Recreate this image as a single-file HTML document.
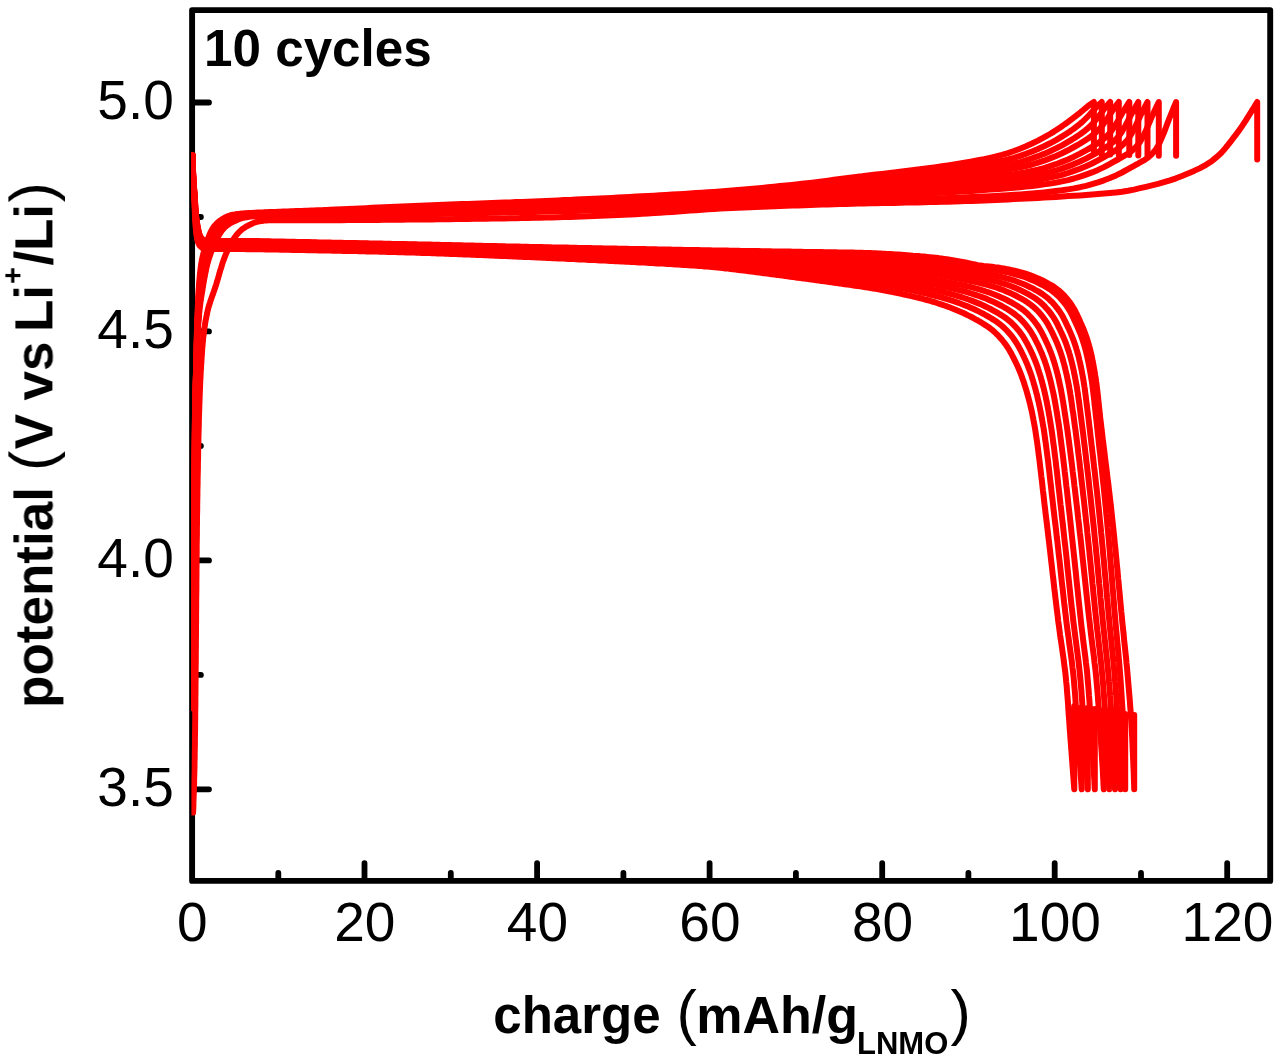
<!DOCTYPE html>
<html lang="en"><head><meta charset="utf-8"><title>10 cycles - potential vs charge</title>
<style>html,body{margin:0;padding:0;background:#fff}svg{display:block}text{font-family:"Liberation Sans",Arial,Helvetica,sans-serif;fill:#000}.b{font-weight:bold}.tk{font-size:55px}</style></head><body>
<svg width="1280" height="1061" viewBox="0 0 1280 1061">
<rect width="1280" height="1061" fill="#fff"/>
<filter id="sf" x="0" y="0" width="1280" height="1061" filterUnits="userSpaceOnUse"><feGaussianBlur stdDeviation="0.45"/></filter>
<g filter="url(#sf)">
<g stroke="#000" stroke-width="5.9" fill="none" stroke-linejoin="round">
<rect x="192.1" y="10.1" width="1078.1" height="870.8"/>
</g>
<path d="M278.3,878.9 V872.9 M364.5,878.9 V863.1 M450.8,878.9 V872.9 M537.1,878.9 V863.1 M623.4,878.9 V872.9 M709.6,878.9 V863.1 M795.9,878.9 V872.9 M882.2,878.9 V863.1 M968.4,878.9 V872.9 M1054.7,878.9 V863.1 M1141.0,878.9 V872.9 M1227.2,878.9 V863.1 M194.1,789.3 H209.0 M194.1,560.4 H209.0 M194.1,331.4 H209.0 M194.1,102.5 H209.0 M194.1,674.9 H200.9 M194.1,445.9 H200.9 M194.1,217.0 H200.9" stroke="#000" stroke-width="5.8" stroke-linecap="round" fill="none"/>
<clipPath id="c"><rect x="191.4" y="0" width="1100" height="900"/></clipPath>
<g clip-path="url(#c)" stroke="#fe0000" stroke-width="6.0" fill="none" stroke-linejoin="round" stroke-linecap="round">
<path d="M193.1,812.5 L193.2,810.3 L193.3,808.0 L193.4,805.6 L193.4,803.1 L193.5,800.6 L193.6,797.9 L193.7,795.2 L193.8,792.4 L193.9,789.5 L194.0,786.6 L194.1,783.6 L194.1,780.5 L194.2,777.3 L194.3,774.0 L194.4,770.7 L194.5,767.4 L194.5,763.9 L194.6,760.4 L194.7,756.8 L194.7,752.9 L194.8,748.8 L194.9,744.4 L194.9,739.9 L195.0,735.2 L195.1,730.3 L195.1,725.2 L195.2,719.9 L195.2,714.5 L195.3,708.9 L195.4,703.2 L195.4,697.3 L195.5,691.4 L195.5,685.3 L195.6,679.2 L195.6,672.9 L195.7,666.6 L195.8,660.2 L195.8,653.8 L195.9,647.3 L195.9,640.8 L196.0,634.3 L196.0,627.7 L196.1,621.1 L196.1,614.6 L196.2,608.0 L196.2,601.5 L196.3,595.0 L196.4,588.6 L196.4,582.2 L196.5,575.8 L196.5,569.6 L196.6,563.4 L196.6,557.4 L196.7,551.4 L196.7,545.6 L196.8,539.9 L196.9,534.3 L196.9,528.8 L197.0,523.6 L197.0,518.4 L197.1,513.5 L197.2,508.8 L197.2,504.2 L197.3,499.9 L197.4,495.6 L197.4,491.5 L197.5,487.3 L197.6,483.3 L197.6,479.2 L197.7,475.3 L197.8,471.4 L197.9,467.5 L197.9,463.7 L198.0,460.0 L198.1,456.3 L198.1,452.6 L198.2,449.0 L198.3,445.5 L198.4,442.0 L198.4,438.6 L198.5,435.2 L198.6,431.8 L198.7,428.5 L198.8,425.3 L198.8,422.1 L198.9,419.0 L199.0,415.9 L199.1,412.9 L199.2,409.9 L199.3,407.0 L199.4,404.1 L199.5,401.3 L199.6,398.5 L199.7,395.7 L199.8,393.0 L199.9,390.3 L200.0,387.7 L200.1,385.1 L200.2,382.6 L200.3,380.1 L200.5,377.6 L200.6,375.2 L200.7,372.9 L200.8,370.6 L201.0,368.3 L201.1,366.1 L201.2,364.0 L201.4,361.9 L201.5,359.9 L201.6,357.9 L201.7,356.0 L201.9,354.1 L202.0,352.4 L202.1,350.7 L202.2,349.1 L202.3,347.6 L202.5,346.1 L202.6,344.6 L202.7,343.2 L202.9,341.7 L203.0,340.2 L203.1,338.7 L203.3,337.2 L203.5,335.6 L203.7,333.9 L203.9,332.3 L204.1,330.6 L204.3,328.9 L204.6,327.1 L204.9,325.4 L205.1,323.6 L205.4,321.9 L205.7,320.1 L206.1,318.4 L206.4,316.6 L206.8,314.9 L207.1,313.1 L207.5,311.4 L207.9,309.7 L208.3,308.0 L208.8,306.3 L209.3,304.6 L209.9,302.9 L210.4,301.2 L211.0,299.5 L211.6,297.8 L212.2,296.1 L212.8,294.4 L213.4,292.7 L214.0,291.0 L214.6,289.3 L215.2,287.6 L215.7,285.9 L216.3,284.2 L216.8,282.4 L217.3,280.7 L217.9,278.9 L218.4,277.0 L218.9,275.2 L219.4,273.4 L219.9,271.7 L220.4,269.9 L221.0,268.2 L221.5,266.6 L222.0,265.0 L222.4,263.5 L222.9,262.1 L223.4,260.7 L223.9,259.4 L224.3,258.2 L224.8,257.0 L225.2,255.9 L225.7,254.7 L226.1,253.6 L226.6,252.5 L227.1,251.4 L227.6,250.2 L228.1,249.1 L228.7,247.9 L229.3,246.7 L229.9,245.4 L230.6,244.2 L231.2,243.0 L231.9,241.8 L232.6,240.7 L233.3,239.5 L234.0,238.5 L234.7,237.4 L235.4,236.5 L236.1,235.5 L236.9,234.6 L237.6,233.7 L238.4,232.8 L239.2,232.0 L240.0,231.2 L240.8,230.5 L241.6,229.8 L242.4,229.1 L243.3,228.5 L244.2,227.9 L245.1,227.3 L246.0,226.7 L246.9,226.2 L247.9,225.7 L248.8,225.2 L249.7,224.8 L250.6,224.3 L251.6,223.9 L252.5,223.5 L253.4,223.0 L254.3,222.7 L255.3,222.3 L256.2,222.0 L257.3,221.7 L258.4,221.5 L259.5,221.3 L260.6,221.1 L261.8,221.0 L263.0,220.8 L264.3,220.6 L265.6,220.5 L266.9,220.4 L268.2,220.3 L269.6,220.3 L271.0,220.3 L272.4,220.3 L273.8,220.3 L275.3,220.3 L276.8,220.3 L278.3,220.3 L279.8,220.3 L281.4,220.3 L283.1,220.3 L284.7,220.3 L286.4,220.3 L288.2,220.3 L290.0,220.3 L291.8,220.3 L293.7,220.3 L295.7,220.3 L297.6,220.3 L299.7,220.3 L301.7,220.3 L303.9,220.3 L306.0,220.3 L308.2,220.3 L310.5,220.2 L312.8,220.2 L315.1,220.2 L317.5,220.2 L319.9,220.2 L322.4,220.2 L324.9,220.2 L327.4,220.2 L330.0,220.2 L336.0,220.2 L342.0,220.2 L348.0,220.1 L354.0,220.1 L360.0,220.0 L366.0,220.0 L372.0,220.0 L378.0,219.9 L384.0,219.8 L390.0,219.8 L396.0,219.7 L402.0,219.7 L408.0,219.6 L414.0,219.6 L420.0,219.5 L426.0,219.4 L432.0,219.4 L438.0,219.3 L444.0,219.2 L450.0,219.2 L456.0,219.1 L462.0,219.0 L468.0,218.9 L474.0,218.8 L480.0,218.8 L486.0,218.7 L492.0,218.6 L498.0,218.5 L504.0,218.4 L510.0,218.3 L516.0,218.2 L522.0,218.1 L528.0,217.9 L534.0,217.8 L540.0,217.7 L546.0,217.6 L552.0,217.4 L558.0,217.3 L564.0,217.1 L570.0,216.9 L576.0,216.7 L582.0,216.5 L588.0,216.3 L594.0,216.1 L600.0,215.8 L606.0,215.6 L612.0,215.3 L618.0,215.0 L624.0,214.8 L630.0,214.5 L636.0,214.2 L642.0,213.8 L648.0,213.5 L654.0,213.1 L660.0,212.7 L666.0,212.3 L672.0,211.9 L678.0,211.5 L684.0,211.1 L690.0,210.6 L696.0,210.2 L702.0,209.7 L708.0,209.3 L714.0,208.9 L720.0,208.5 L726.0,208.2 L732.0,207.9 L738.0,207.7 L744.0,207.4 L750.0,207.2 L756.0,206.9 L762.0,206.7 L768.0,206.5 L774.0,206.3 L780.0,206.1 L786.0,205.8 L792.0,205.6 L798.0,205.4 L804.0,205.2 L810.0,205.0 L816.0,204.8 L822.0,204.6 L828.0,204.4 L834.0,204.2 L840.0,204.0 L846.0,203.9 L852.0,203.7 L858.0,203.6 L864.0,203.4 L870.0,203.3 L876.0,203.2 L882.0,203.1 L888.0,203.0 L894.0,202.9 L900.0,202.7 L906.0,202.6 L912.0,202.5 L918.0,202.4 L924.0,202.2 L930.0,202.1 L936.0,202.0 L942.0,201.8 L948.0,201.7 L954.0,201.5 L960.0,201.3 L966.0,201.1 L972.0,200.9 L978.0,200.7 L984.0,200.4 L990.0,200.2 L996.0,199.9 L1002.0,199.7 L1008.0,199.4 L1014.0,199.1 L1020.0,198.8 L1026.0,198.5 L1032.0,198.2 L1038.0,197.9 L1044.0,197.6 L1050.0,197.2 L1056.0,196.9 L1062.0,196.5 L1068.0,196.1 L1074.0,195.8 L1080.0,195.4 L1086.0,195.0 L1092.0,194.6 L1098.0,194.1 L1104.0,193.6 L1110.0,193.1 L1116.0,192.5 L1122.0,191.8 L1128.0,190.8 L1134.0,189.6 L1140.0,188.2 L1146.0,186.8 L1152.0,185.4 L1158.0,183.9 L1164.0,182.2 L1170.0,180.4 L1176.0,178.3 L1182.0,176.0 L1188.0,173.5 L1194.0,170.9 L1200.0,168.1 L1206.0,164.8 L1212.0,160.9 L1217.2,156.6 L1218.2,155.7 L1219.2,154.8 L1220.2,153.8 L1221.2,152.9 L1222.2,151.8 L1223.2,150.7 L1224.2,149.6 L1225.2,148.4 L1226.2,147.2 L1227.2,145.9 L1228.2,144.7 L1229.2,143.4 L1230.2,142.1 L1231.2,140.8 L1232.2,139.5 L1233.2,138.2 L1234.2,136.9 L1235.2,135.6 L1236.2,134.3 L1237.2,132.9 L1238.2,131.6 L1239.2,130.2 L1240.2,128.8 L1241.2,127.3 L1242.2,125.9 L1243.2,124.4 L1244.2,122.9 L1245.2,121.4 L1246.2,119.8 L1247.2,118.2 L1248.2,116.6 L1249.2,115.0 L1250.2,113.4 L1251.2,111.8 L1252.2,110.2 L1253.2,108.6 L1254.2,107.0 L1255.2,105.3 L1256.2,103.7 L1257.2,102.0 L1257.2,159.6"/>
<path d="M193.4,708.6 L193.4,704.3 L193.4,699.9 L193.4,695.5 L193.5,690.9 L193.5,686.3 L193.5,681.6 L193.5,676.7 L193.6,671.8 L193.6,666.9 L193.6,661.8 L193.6,656.7 L193.7,651.5 L193.7,646.3 L193.7,641.0 L193.8,635.7 L193.8,630.4 L193.8,625.0 L193.8,619.6 L193.9,614.2 L193.9,608.8 L193.9,603.4 L194.0,598.0 L194.0,592.6 L194.0,587.2 L194.1,581.8 L194.1,576.4 L194.1,571.1 L194.1,565.8 L194.2,560.6 L194.2,555.4 L194.2,550.3 L194.3,545.2 L194.3,540.2 L194.3,535.2 L194.4,530.4 L194.4,525.6 L194.4,520.9 L194.5,516.4 L194.5,511.9 L194.5,507.5 L194.6,503.3 L194.6,499.1 L194.7,495.0 L194.7,490.9 L194.7,486.9 L194.8,482.9 L194.8,478.9 L194.8,475.0 L194.9,471.1 L194.9,467.3 L195.0,463.4 L195.0,459.7 L195.0,455.9 L195.1,452.2 L195.1,448.6 L195.2,445.0 L195.2,441.4 L195.3,437.9 L195.3,434.5 L195.3,431.1 L195.4,427.7 L195.4,424.4 L195.5,421.2 L195.5,418.0 L195.6,414.8 L195.6,411.7 L195.7,408.7 L195.7,405.7 L195.8,402.8 L195.8,400.0 L195.9,397.2 L195.9,394.4 L196.0,391.7 L196.0,389.0 L196.1,386.4 L196.1,383.8 L196.2,381.3 L196.2,378.7 L196.3,376.3 L196.3,373.9 L196.4,371.5 L196.4,369.2 L196.5,367.0 L196.5,364.8 L196.6,362.7 L196.6,360.6 L196.7,358.6 L196.8,356.6 L196.8,354.7 L196.9,352.9 L196.9,351.2 L197.0,349.5 L197.0,347.9 L197.1,346.4 L197.2,344.9 L197.2,343.4 L197.3,341.9 L197.3,340.4 L197.4,338.9 L197.5,337.3 L197.6,335.7 L197.7,334.1 L197.8,332.4 L197.9,330.7 L198.0,328.9 L198.1,327.2 L198.2,325.4 L198.3,323.7 L198.4,321.9 L198.6,320.1 L198.7,318.4 L198.9,316.6 L199.0,314.8 L199.2,313.1 L199.4,311.3 L199.5,309.6 L199.7,307.8 L200.0,306.1 L200.2,304.3 L200.4,302.6 L200.7,300.8 L200.9,299.1 L201.2,297.3 L201.5,295.6 L201.8,293.8 L202.1,292.1 L202.4,290.3 L202.6,288.6 L202.9,286.8 L203.2,285.1 L203.5,283.3 L203.8,281.6 L204.1,279.8 L204.4,278.1 L204.8,276.3 L205.1,274.6 L205.4,272.9 L205.8,271.1 L206.1,269.4 L206.5,267.6 L206.9,265.9 L207.3,264.1 L207.8,262.4 L208.3,260.6 L208.8,258.8 L209.4,257.0 L210.1,255.1 L210.8,253.1 L211.5,251.2 L212.2,249.3 L213.0,247.4 L213.8,245.6 L214.6,243.8 L215.4,242.1 L216.1,240.5 L216.9,238.9 L217.6,237.5 L218.3,236.3 L219.0,235.1 L219.6,234.0 L220.3,233.0 L220.9,232.1 L221.5,231.2 L222.1,230.3 L222.8,229.5 L223.5,228.7 L224.2,227.9 L225.0,227.1 L225.9,226.4 L226.8,225.7 L227.7,225.0 L228.7,224.3 L229.6,223.6 L230.6,223.0 L231.7,222.5 L232.7,221.9 L233.8,221.4 L234.9,220.9 L236.0,220.4 L237.1,219.9 L238.3,219.4 L239.5,219.0 L240.7,218.6 L241.9,218.2 L243.1,217.9 L244.3,217.7 L245.5,217.4 L246.7,217.2 L247.9,217.0 L249.0,216.8 L250.2,216.6 L251.5,216.5 L252.7,216.3 L254.1,216.2 L255.5,216.2 L256.9,216.1 L258.5,216.1 L260.2,216.1 L262.0,216.1 L263.9,216.1 L265.8,216.0 L267.8,216.0 L269.9,216.0 L272.0,216.0 L274.2,216.0 L276.4,216.0 L278.6,215.9 L280.8,215.9 L283.0,215.9 L285.2,215.9 L287.4,215.9 L289.6,215.9 L291.7,215.8 L293.9,215.8 L296.0,215.8 L298.2,215.8 L300.4,215.8 L302.6,215.8 L304.8,215.7 L307.0,215.7 L309.3,215.7 L311.5,215.7 L313.8,215.7 L316.1,215.6 L318.4,215.6 L320.7,215.6 L323.0,215.6 L325.3,215.5 L327.7,215.5 L330.0,215.5 L336.0,215.4 L342.0,215.4 L348.0,215.3 L354.0,215.2 L360.0,215.2 L366.0,215.1 L372.0,215.0 L378.0,214.9 L384.0,214.8 L390.0,214.7 L396.0,214.6 L402.0,214.5 L408.0,214.4 L414.0,214.3 L420.0,214.2 L426.0,214.1 L432.0,214.0 L438.0,213.9 L444.0,213.8 L450.0,213.7 L456.0,213.6 L462.0,213.4 L468.0,213.3 L474.0,213.2 L480.0,213.1 L486.0,213.0 L492.0,212.8 L498.0,212.7 L504.0,212.6 L510.0,212.4 L516.0,212.3 L522.0,212.2 L528.0,212.0 L534.0,211.9 L540.0,211.8 L546.0,211.6 L552.0,211.5 L558.0,211.3 L564.0,211.2 L570.0,211.0 L576.0,210.9 L582.0,210.7 L588.0,210.5 L594.0,210.4 L600.0,210.2 L606.0,210.0 L612.0,209.8 L618.0,209.6 L624.0,209.5 L630.0,209.3 L636.0,209.1 L642.0,208.9 L648.0,208.7 L654.0,208.5 L660.0,208.3 L666.0,208.1 L672.0,207.9 L678.0,207.7 L684.0,207.5 L690.0,207.3 L696.0,207.1 L702.0,206.9 L708.0,206.7 L714.0,206.5 L720.0,206.3 L726.0,206.1 L732.0,205.9 L738.0,205.7 L744.0,205.5 L750.0,205.3 L756.0,205.1 L762.0,204.9 L768.0,204.7 L774.0,204.5 L780.0,204.2 L786.0,204.0 L792.0,203.8 L798.0,203.6 L804.0,203.4 L810.0,203.1 L816.0,202.9 L822.0,202.6 L828.0,202.4 L834.0,202.1 L840.0,201.9 L846.0,201.7 L852.0,201.4 L858.0,201.2 L864.0,200.9 L870.0,200.7 L876.0,200.4 L882.0,200.2 L888.0,200.0 L894.0,199.7 L900.0,199.5 L906.0,199.3 L912.0,199.1 L918.0,198.9 L924.0,198.7 L930.0,198.5 L936.0,198.4 L942.0,198.2 L948.0,198.0 L954.0,197.7 L960.0,197.5 L966.0,197.3 L972.0,197.0 L978.0,196.7 L984.0,196.5 L990.0,196.2 L996.0,195.9 L1002.0,195.5 L1008.0,195.2 L1014.0,194.8 L1020.0,194.4 L1026.0,194.0 L1032.0,193.5 L1038.0,193.0 L1044.0,192.4 L1050.0,191.7 L1056.0,191.0 L1062.0,190.3 L1068.0,189.4 L1074.0,188.4 L1080.0,187.2 L1086.0,185.8 L1092.0,184.2 L1098.0,182.4 L1104.0,180.3 L1110.0,178.0 L1116.0,175.4 L1122.0,172.5 L1128.0,169.2 L1134.0,165.9 L1136.1,164.7 L1137.1,164.1 L1138.1,163.6 L1139.1,163.0 L1140.1,162.4 L1141.1,161.9 L1142.1,161.3 L1143.1,160.8 L1144.1,160.2 L1145.1,159.6 L1146.1,158.9 L1147.1,158.2 L1148.1,157.4 L1149.1,156.6 L1150.1,155.7 L1151.1,154.8 L1152.1,153.8 L1153.1,152.7 L1154.1,151.6 L1155.1,150.3 L1156.1,149.0 L1157.1,147.5 L1158.1,145.7 L1159.1,143.7 L1160.1,141.6 L1161.1,139.3 L1162.1,137.1 L1163.1,134.7 L1164.1,132.3 L1165.1,129.6 L1166.1,127.0 L1167.1,124.2 L1168.1,121.6 L1169.1,119.0 L1170.1,116.5 L1171.1,114.0 L1172.1,111.6 L1173.1,109.1 L1174.1,106.7 L1175.1,104.4 L1176.1,102.0 L1176.1,155.8"/>
<path d="M193.3,708.3 L193.3,703.9 L193.3,699.6 L193.3,695.1 L193.4,690.5 L193.4,685.9 L193.4,681.1 L193.4,676.3 L193.5,671.4 L193.5,666.4 L193.5,661.3 L193.5,656.2 L193.6,651.0 L193.6,645.8 L193.6,640.5 L193.6,635.2 L193.7,629.8 L193.7,624.4 L193.7,619.0 L193.7,613.6 L193.8,608.2 L193.8,602.8 L193.8,597.3 L193.9,591.9 L193.9,586.5 L193.9,581.1 L193.9,575.8 L194.0,570.4 L194.0,565.1 L194.0,559.9 L194.1,554.7 L194.1,549.6 L194.1,544.5 L194.2,539.5 L194.2,534.6 L194.2,529.7 L194.3,524.9 L194.3,520.3 L194.3,515.7 L194.4,511.2 L194.4,506.8 L194.4,502.6 L194.5,498.4 L194.5,494.3 L194.5,490.3 L194.6,486.2 L194.6,482.2 L194.7,478.3 L194.7,474.3 L194.7,470.4 L194.8,466.6 L194.8,462.8 L194.9,459.0 L194.9,455.2 L195.0,451.6 L195.0,447.9 L195.0,444.3 L195.1,440.7 L195.1,437.2 L195.2,433.8 L195.2,430.4 L195.3,427.0 L195.3,423.7 L195.4,420.5 L195.4,417.3 L195.5,414.1 L195.5,411.1 L195.6,408.1 L195.6,405.1 L195.7,402.2 L195.7,399.4 L195.8,396.6 L195.8,393.8 L195.9,391.1 L195.9,388.4 L196.0,385.8 L196.0,383.2 L196.1,380.7 L196.1,378.2 L196.2,375.8 L196.2,373.4 L196.3,371.0 L196.4,368.7 L196.4,366.5 L196.5,364.3 L196.5,362.2 L196.6,360.1 L196.6,358.1 L196.7,356.2 L196.8,354.3 L196.8,352.5 L196.9,350.8 L196.9,349.2 L197.0,347.6 L197.0,346.1 L197.1,344.6 L197.1,343.1 L197.2,341.6 L197.2,340.1 L197.3,338.6 L197.4,337.0 L197.4,335.3 L197.5,333.7 L197.6,332.0 L197.7,330.3 L197.8,328.5 L197.9,326.8 L198.0,325.0 L198.1,323.3 L198.2,321.5 L198.4,319.7 L198.5,317.9 L198.6,316.1 L198.8,314.4 L198.9,312.6 L199.1,310.9 L199.2,309.1 L199.4,307.3 L199.6,305.6 L199.8,303.8 L200.0,302.1 L200.2,300.3 L200.5,298.6 L200.7,296.8 L201.0,295.1 L201.2,293.3 L201.5,291.5 L201.7,289.8 L202.0,288.0 L202.3,286.3 L202.5,284.5 L202.8,282.8 L203.1,281.0 L203.3,279.3 L203.6,277.5 L203.9,275.8 L204.2,274.0 L204.5,272.3 L204.8,270.5 L205.2,268.8 L205.5,267.0 L205.9,265.3 L206.3,263.6 L206.7,261.8 L207.2,260.0 L207.7,258.2 L208.3,256.4 L208.9,254.5 L209.6,252.6 L210.3,250.7 L211.0,248.9 L211.7,247.0 L212.4,245.3 L213.2,243.5 L213.9,241.9 L214.6,240.3 L215.3,238.9 L216.0,237.5 L216.6,236.3 L217.3,235.1 L217.9,234.0 L218.5,233.0 L219.1,232.0 L219.7,231.0 L220.3,230.1 L221.0,229.2 L221.7,228.4 L222.4,227.5 L223.2,226.7 L224.1,225.9 L225.0,225.2 L225.9,224.4 L226.9,223.7 L227.8,223.0 L228.9,222.4 L229.9,221.8 L230.9,221.3 L232.0,220.7 L233.1,220.2 L234.2,219.7 L235.3,219.2 L236.5,218.7 L237.7,218.3 L238.8,217.9 L240.0,217.6 L241.2,217.3 L242.5,217.1 L243.6,216.8 L244.8,216.6 L246.0,216.4 L247.2,216.3 L248.4,216.1 L249.6,215.9 L250.9,215.8 L252.3,215.7 L253.7,215.6 L255.2,215.6 L256.9,215.6 L258.6,215.5 L260.3,215.5 L262.2,215.5 L264.1,215.5 L266.1,215.4 L268.1,215.4 L270.2,215.4 L272.3,215.4 L274.4,215.3 L276.6,215.3 L278.8,215.3 L281.0,215.2 L283.1,215.2 L285.3,215.2 L287.5,215.2 L289.7,215.1 L291.9,215.1 L294.1,215.1 L296.3,215.1 L298.6,215.0 L300.9,215.0 L303.2,215.0 L305.5,215.0 L307.9,214.9 L310.3,214.9 L312.7,214.9 L315.1,214.8 L317.5,214.8 L320.0,214.8 L322.4,214.7 L324.9,214.7 L327.5,214.7 L330.0,214.6 L336.0,214.5 L342.0,214.4 L348.0,214.3 L354.0,214.2 L360.0,214.1 L366.0,214.0 L372.0,213.9 L378.0,213.8 L384.0,213.6 L390.0,213.5 L396.0,213.4 L402.0,213.3 L408.0,213.1 L414.0,213.0 L420.0,212.8 L426.0,212.7 L432.0,212.5 L438.0,212.4 L444.0,212.2 L450.0,212.0 L456.0,211.9 L462.0,211.7 L468.0,211.6 L474.0,211.4 L480.0,211.3 L486.0,211.1 L492.0,211.0 L498.0,210.8 L504.0,210.7 L510.0,210.5 L516.0,210.4 L522.0,210.2 L528.0,210.1 L534.0,209.9 L540.0,209.7 L546.0,209.6 L552.0,209.4 L558.0,209.2 L564.0,209.0 L570.0,208.9 L576.0,208.7 L582.0,208.5 L588.0,208.3 L594.0,208.1 L600.0,207.9 L606.0,207.7 L612.0,207.5 L618.0,207.3 L624.0,207.1 L630.0,206.9 L636.0,206.7 L642.0,206.5 L648.0,206.3 L654.0,206.1 L660.0,205.8 L666.0,205.6 L672.0,205.4 L678.0,205.2 L684.0,205.0 L690.0,204.7 L696.0,204.5 L702.0,204.3 L708.0,204.1 L714.0,203.9 L720.0,203.6 L726.0,203.4 L732.0,203.2 L738.0,202.9 L744.0,202.7 L750.0,202.4 L756.0,202.2 L762.0,201.9 L768.0,201.7 L774.0,201.4 L780.0,201.1 L786.0,200.9 L792.0,200.6 L798.0,200.3 L804.0,200.0 L810.0,199.7 L816.0,199.4 L822.0,199.1 L828.0,198.8 L834.0,198.4 L840.0,198.1 L846.0,197.8 L852.0,197.5 L858.0,197.1 L864.0,196.8 L870.0,196.5 L876.0,196.2 L882.0,195.8 L888.0,195.5 L894.0,195.2 L900.0,194.9 L906.0,194.6 L912.0,194.3 L918.0,194.0 L924.0,193.6 L930.0,193.3 L936.0,193.0 L942.0,192.7 L948.0,192.3 L954.0,192.0 L960.0,191.6 L966.0,191.3 L972.0,190.9 L978.0,190.5 L984.0,190.1 L990.0,189.6 L996.0,189.2 L1002.0,188.7 L1008.0,188.3 L1014.0,187.8 L1020.0,187.2 L1026.0,186.6 L1032.0,185.9 L1038.0,185.2 L1044.0,184.4 L1050.0,183.6 L1056.0,182.6 L1062.0,181.4 L1068.0,180.1 L1074.0,178.5 L1080.0,176.7 L1086.0,174.6 L1092.0,172.4 L1098.0,169.9 L1104.0,167.1 L1110.0,163.8 L1116.0,160.5 L1118.8,159.0 L1119.8,158.4 L1120.8,157.8 L1121.8,157.3 L1122.8,156.7 L1123.8,156.1 L1124.8,155.5 L1125.8,154.9 L1126.8,154.3 L1127.8,153.7 L1128.8,153.0 L1129.8,152.3 L1130.8,151.6 L1131.8,150.8 L1132.8,149.9 L1133.8,149.0 L1134.8,148.1 L1135.8,147.1 L1136.8,146.0 L1137.8,144.8 L1138.8,143.6 L1139.8,142.2 L1140.8,140.6 L1141.8,138.8 L1142.8,136.9 L1143.8,134.9 L1144.8,132.9 L1145.8,130.8 L1146.8,128.6 L1147.8,126.3 L1148.8,123.9 L1149.8,121.6 L1150.8,119.2 L1151.8,116.9 L1152.8,114.7 L1153.8,112.5 L1154.8,110.4 L1155.8,108.2 L1156.8,106.1 L1157.8,104.1 L1158.8,102.0 L1158.8,155.8"/>
<path d="M193.2,708.2 L193.2,703.8 L193.2,699.5 L193.3,695.0 L193.3,690.4 L193.3,685.8 L193.3,681.0 L193.4,676.1 L193.4,671.2 L193.4,666.2 L193.4,661.1 L193.4,656.0 L193.5,650.8 L193.5,645.6 L193.5,640.3 L193.5,634.9 L193.6,629.6 L193.6,624.2 L193.6,618.8 L193.6,613.4 L193.7,607.9 L193.7,602.5 L193.7,597.0 L193.8,591.6 L193.8,586.2 L193.8,580.8 L193.8,575.4 L193.9,570.1 L193.9,564.8 L193.9,559.6 L194.0,554.4 L194.0,549.2 L194.0,544.2 L194.1,539.1 L194.1,534.2 L194.1,529.4 L194.2,524.6 L194.2,519.9 L194.2,515.3 L194.3,510.9 L194.3,506.5 L194.3,502.3 L194.4,498.1 L194.4,494.0 L194.4,490.0 L194.5,485.9 L194.5,481.9 L194.5,477.9 L194.6,474.0 L194.6,470.1 L194.7,466.2 L194.7,462.4 L194.8,458.6 L194.8,454.9 L194.8,451.2 L194.9,447.6 L194.9,444.0 L195.0,440.4 L195.0,436.9 L195.1,433.4 L195.1,430.0 L195.2,426.7 L195.2,423.4 L195.3,420.1 L195.3,417.0 L195.4,413.8 L195.4,410.8 L195.5,407.7 L195.5,404.8 L195.6,401.9 L195.6,399.1 L195.7,396.3 L195.7,393.5 L195.8,390.8 L195.8,388.2 L195.9,385.5 L196.0,383.0 L196.0,380.4 L196.1,378.0 L196.1,375.5 L196.2,373.1 L196.3,370.8 L196.3,368.5 L196.4,366.3 L196.4,364.1 L196.5,362.0 L196.5,360.0 L196.6,358.0 L196.7,356.0 L196.7,354.2 L196.8,352.4 L196.8,350.7 L196.9,349.1 L196.9,347.5 L197.0,346.0 L197.0,344.5 L197.0,343.0 L197.1,341.5 L197.2,340.0 L197.2,338.5 L197.3,336.9 L197.3,335.2 L197.4,333.5 L197.5,331.8 L197.6,330.1 L197.7,328.4 L197.8,326.6 L197.9,324.9 L198.0,323.1 L198.1,321.3 L198.2,319.5 L198.3,317.8 L198.5,316.0 L198.6,314.2 L198.7,312.4 L198.9,310.7 L199.0,308.9 L199.2,307.2 L199.3,305.4 L199.5,303.6 L199.7,301.9 L199.9,300.1 L200.1,298.4 L200.3,296.6 L200.6,294.8 L200.8,293.1 L201.0,291.3 L201.2,289.6 L201.5,287.8 L201.7,286.1 L202.0,284.3 L202.2,282.5 L202.5,280.8 L202.7,279.0 L203.0,277.3 L203.2,275.5 L203.5,273.8 L203.8,272.0 L204.1,270.2 L204.4,268.5 L204.8,266.7 L205.1,265.0 L205.5,263.3 L205.9,261.5 L206.4,259.8 L206.9,257.9 L207.4,256.1 L208.0,254.2 L208.7,252.4 L209.3,250.5 L210.0,248.7 L210.7,246.9 L211.4,245.2 L212.1,243.5 L212.8,241.9 L213.4,240.4 L214.1,239.0 L214.7,237.7 L215.3,236.4 L215.9,235.2 L216.5,234.1 L217.1,233.0 L217.7,232.0 L218.3,231.0 L218.9,230.0 L219.6,229.1 L220.3,228.2 L221.0,227.3 L221.8,226.5 L222.7,225.7 L223.6,224.9 L224.5,224.1 L225.5,223.4 L226.5,222.7 L227.5,222.0 L228.5,221.4 L229.6,220.9 L230.6,220.3 L231.7,219.8 L232.8,219.3 L233.9,218.8 L235.1,218.3 L236.3,217.9 L237.4,217.5 L238.6,217.2 L239.8,216.9 L241.0,216.7 L242.2,216.5 L243.4,216.3 L244.6,216.1 L245.8,215.9 L247.0,215.7 L248.3,215.6 L249.6,215.5 L251.0,215.4 L252.4,215.3 L254.0,215.3 L255.6,215.2 L257.3,215.2 L259.0,215.1 L260.9,215.1 L262.8,215.1 L264.7,215.0 L266.7,215.0 L268.7,215.0 L270.8,214.9 L272.9,214.9 L275.1,214.9 L277.2,214.8 L279.4,214.8 L281.5,214.8 L283.7,214.7 L285.9,214.7 L288.1,214.7 L290.4,214.6 L292.6,214.6 L294.9,214.6 L297.2,214.5 L299.6,214.5 L302.0,214.5 L304.4,214.4 L306.8,214.4 L309.3,214.3 L311.8,214.3 L314.3,214.3 L316.9,214.2 L319.4,214.2 L322.0,214.1 L324.7,214.1 L327.3,214.0 L330.0,214.0 L336.0,213.9 L342.0,213.7 L348.0,213.6 L354.0,213.5 L360.0,213.3 L366.0,213.2 L372.0,213.1 L378.0,212.9 L384.0,212.8 L390.0,212.6 L396.0,212.5 L402.0,212.3 L408.0,212.1 L414.0,211.9 L420.0,211.8 L426.0,211.6 L432.0,211.4 L438.0,211.2 L444.0,211.0 L450.0,210.9 L456.0,210.7 L462.0,210.5 L468.0,210.4 L474.0,210.2 L480.0,210.0 L486.0,209.9 L492.0,209.7 L498.0,209.5 L504.0,209.4 L510.0,209.2 L516.0,209.0 L522.0,208.9 L528.0,208.7 L534.0,208.5 L540.0,208.3 L546.0,208.2 L552.0,208.0 L558.0,207.8 L564.0,207.6 L570.0,207.4 L576.0,207.2 L582.0,207.0 L588.0,206.8 L594.0,206.6 L600.0,206.4 L606.0,206.2 L612.0,206.0 L618.0,205.7 L624.0,205.5 L630.0,205.3 L636.0,205.1 L642.0,204.8 L648.0,204.6 L654.0,204.4 L660.0,204.2 L666.0,203.9 L672.0,203.7 L678.0,203.5 L684.0,203.2 L690.0,203.0 L696.0,202.7 L702.0,202.5 L708.0,202.3 L714.0,202.0 L720.0,201.7 L726.0,201.5 L732.0,201.2 L738.0,201.0 L744.0,200.7 L750.0,200.4 L756.0,200.1 L762.0,199.8 L768.0,199.6 L774.0,199.3 L780.0,199.0 L786.0,198.6 L792.0,198.3 L798.0,198.0 L804.0,197.6 L810.0,197.3 L816.0,196.9 L822.0,196.5 L828.0,196.2 L834.0,195.8 L840.0,195.4 L846.0,195.0 L852.0,194.7 L858.0,194.3 L864.0,193.9 L870.0,193.5 L876.0,193.1 L882.0,192.7 L888.0,192.3 L894.0,191.9 L900.0,191.5 L906.0,191.1 L912.0,190.7 L918.0,190.3 L924.0,190.0 L930.0,189.6 L936.0,189.2 L942.0,188.8 L948.0,188.3 L954.0,187.9 L960.0,187.4 L966.0,187.0 L972.0,186.5 L978.0,186.0 L984.0,185.5 L990.0,185.0 L996.0,184.5 L1002.0,184.0 L1008.0,183.4 L1014.0,182.8 L1020.0,182.1 L1026.0,181.4 L1032.0,180.6 L1038.0,179.7 L1044.0,178.7 L1050.0,177.6 L1056.0,176.3 L1062.0,174.8 L1068.0,173.0 L1074.0,170.9 L1080.0,168.7 L1086.0,166.2 L1092.0,163.5 L1098.0,160.3 L1104.0,157.0 L1107.5,155.1 L1108.5,154.5 L1109.5,153.9 L1110.5,153.3 L1111.5,152.7 L1112.5,152.2 L1113.5,151.6 L1114.5,151.0 L1115.5,150.4 L1116.5,149.7 L1117.5,149.1 L1118.5,148.3 L1119.5,147.6 L1120.5,146.8 L1121.5,146.0 L1122.5,145.1 L1123.5,144.2 L1124.5,143.2 L1125.5,142.1 L1126.5,141.0 L1127.5,139.9 L1128.5,138.6 L1129.5,137.1 L1130.5,135.4 L1131.5,133.7 L1132.5,131.9 L1133.5,130.0 L1134.5,128.1 L1135.5,126.1 L1136.5,124.0 L1137.5,121.9 L1138.5,119.7 L1139.5,117.6 L1140.5,115.5 L1141.5,113.5 L1142.5,111.5 L1143.5,109.6 L1144.5,107.6 L1145.5,105.7 L1146.5,103.8 L1147.5,102.0 L1147.5,155.5"/>
<path d="M193.1,708.2 L193.2,703.8 L193.2,699.4 L193.2,695.0 L193.2,690.4 L193.2,685.7 L193.3,680.9 L193.3,676.1 L193.3,671.1 L193.3,666.1 L193.3,661.0 L193.4,655.9 L193.4,650.7 L193.4,645.4 L193.4,640.1 L193.5,634.8 L193.5,629.4 L193.5,624.0 L193.5,618.6 L193.6,613.2 L193.6,607.7 L193.6,602.3 L193.6,596.9 L193.7,591.4 L193.7,586.0 L193.7,580.6 L193.8,575.2 L193.8,569.9 L193.8,564.6 L193.8,559.4 L193.9,554.2 L193.9,549.0 L193.9,543.9 L194.0,538.9 L194.0,534.0 L194.0,529.1 L194.1,524.4 L194.1,519.7 L194.1,515.1 L194.2,510.7 L194.2,506.3 L194.2,502.1 L194.3,497.9 L194.3,493.8 L194.3,489.7 L194.4,485.7 L194.4,481.7 L194.5,477.7 L194.5,473.8 L194.5,469.9 L194.6,466.0 L194.6,462.2 L194.7,458.4 L194.7,454.7 L194.8,451.0 L194.8,447.3 L194.9,443.7 L194.9,440.2 L195.0,436.7 L195.0,433.2 L195.0,429.8 L195.1,426.5 L195.2,423.2 L195.2,419.9 L195.3,416.7 L195.3,413.6 L195.4,410.5 L195.4,407.5 L195.5,404.6 L195.5,401.7 L195.6,398.9 L195.6,396.1 L195.7,393.4 L195.7,390.7 L195.8,388.0 L195.8,385.4 L195.9,382.8 L196.0,380.3 L196.0,377.8 L196.1,375.4 L196.1,373.0 L196.2,370.7 L196.3,368.4 L196.3,366.2 L196.4,364.1 L196.4,362.0 L196.5,359.9 L196.6,357.9 L196.6,356.0 L196.7,354.2 L196.7,352.4 L196.8,350.7 L196.8,349.1 L196.8,347.5 L196.9,346.0 L196.9,344.5 L197.0,343.0 L197.0,341.5 L197.1,340.0 L197.1,338.5 L197.2,336.9 L197.3,335.2 L197.3,333.5 L197.4,331.8 L197.5,330.1 L197.6,328.3 L197.7,326.6 L197.7,324.8 L197.8,323.0 L197.9,321.2 L198.1,319.5 L198.2,317.7 L198.3,315.9 L198.4,314.1 L198.5,312.4 L198.7,310.6 L198.8,308.8 L198.9,307.1 L199.1,305.3 L199.3,303.6 L199.4,301.8 L199.6,300.0 L199.8,298.3 L200.0,296.5 L200.2,294.7 L200.4,293.0 L200.6,291.2 L200.8,289.4 L201.0,287.7 L201.2,285.9 L201.4,284.2 L201.7,282.4 L201.9,280.6 L202.1,278.9 L202.4,277.1 L202.6,275.3 L202.9,273.6 L203.2,271.8 L203.5,270.1 L203.8,268.3 L204.1,266.6 L204.4,264.8 L204.8,263.1 L205.2,261.4 L205.6,259.6 L206.1,257.8 L206.6,255.9 L207.2,254.1 L207.8,252.3 L208.4,250.5 L209.1,248.7 L209.7,246.9 L210.4,245.2 L211.0,243.6 L211.7,242.0 L212.3,240.5 L213.0,239.1 L213.6,237.8 L214.1,236.6 L214.7,235.3 L215.3,234.2 L215.8,233.1 L216.4,232.0 L217.0,231.0 L217.6,230.0 L218.3,229.0 L219.0,228.1 L219.8,227.2 L220.6,226.3 L221.4,225.5 L222.3,224.7 L223.3,223.9 L224.3,223.1 L225.3,222.4 L226.3,221.7 L227.3,221.1 L228.3,220.5 L229.4,220.0 L230.5,219.4 L231.6,218.9 L232.7,218.4 L233.8,218.0 L235.0,217.5 L236.2,217.2 L237.3,216.8 L238.5,216.6 L239.7,216.4 L240.9,216.1 L242.1,215.9 L243.3,215.8 L244.5,215.6 L245.8,215.4 L247.0,215.3 L248.4,215.2 L249.8,215.1 L251.2,215.0 L252.8,215.0 L254.4,214.9 L256.1,214.9 L257.8,214.8 L259.6,214.8 L261.5,214.7 L263.4,214.7 L265.4,214.6 L267.4,214.6 L269.5,214.6 L271.5,214.5 L273.6,214.5 L275.8,214.4 L277.9,214.4 L280.1,214.4 L282.3,214.3 L284.5,214.3 L286.7,214.2 L289.0,214.2 L291.3,214.2 L293.6,214.1 L296.0,214.1 L298.4,214.0 L300.9,214.0 L303.4,213.9 L305.9,213.9 L308.4,213.8 L311.0,213.8 L313.6,213.7 L316.3,213.7 L319.0,213.6 L321.7,213.6 L324.4,213.5 L327.2,213.4 L330.0,213.4 L336.0,213.2 L342.0,213.1 L348.0,213.0 L354.0,212.8 L360.0,212.6 L366.0,212.5 L372.0,212.3 L378.0,212.2 L384.0,212.0 L390.0,211.8 L396.0,211.6 L402.0,211.4 L408.0,211.2 L414.0,211.0 L420.0,210.8 L426.0,210.6 L432.0,210.4 L438.0,210.2 L444.0,210.0 L450.0,209.9 L456.0,209.7 L462.0,209.5 L468.0,209.3 L474.0,209.1 L480.0,209.0 L486.0,208.8 L492.0,208.6 L498.0,208.4 L504.0,208.3 L510.0,208.1 L516.0,207.9 L522.0,207.7 L528.0,207.5 L534.0,207.4 L540.0,207.2 L546.0,207.0 L552.0,206.8 L558.0,206.6 L564.0,206.4 L570.0,206.2 L576.0,206.0 L582.0,205.8 L588.0,205.6 L594.0,205.3 L600.0,205.1 L606.0,204.9 L612.0,204.7 L618.0,204.4 L624.0,204.2 L630.0,204.0 L636.0,203.7 L642.0,203.5 L648.0,203.2 L654.0,203.0 L660.0,202.8 L666.0,202.5 L672.0,202.3 L678.0,202.0 L684.0,201.8 L690.0,201.5 L696.0,201.2 L702.0,201.0 L708.0,200.7 L714.0,200.4 L720.0,200.2 L726.0,199.9 L732.0,199.6 L738.0,199.3 L744.0,199.0 L750.0,198.7 L756.0,198.4 L762.0,198.1 L768.0,197.7 L774.0,197.4 L780.0,197.1 L786.0,196.7 L792.0,196.3 L798.0,195.9 L804.0,195.5 L810.0,195.1 L816.0,194.7 L822.0,194.3 L828.0,193.9 L834.0,193.5 L840.0,193.1 L846.0,192.6 L852.0,192.2 L858.0,191.7 L864.0,191.3 L870.0,190.8 L876.0,190.4 L882.0,189.9 L888.0,189.4 L894.0,189.0 L900.0,188.5 L906.0,188.1 L912.0,187.6 L918.0,187.2 L924.0,186.8 L930.0,186.3 L936.0,185.8 L942.0,185.4 L948.0,184.9 L954.0,184.3 L960.0,183.8 L966.0,183.3 L972.0,182.7 L978.0,182.2 L984.0,181.7 L990.0,181.1 L996.0,180.5 L1002.0,179.9 L1008.0,179.2 L1014.0,178.5 L1020.0,177.7 L1026.0,176.9 L1032.0,176.0 L1038.0,174.9 L1044.0,173.7 L1050.0,172.2 L1056.0,170.5 L1062.0,168.6 L1068.0,166.4 L1074.0,164.1 L1080.0,161.5 L1086.0,158.6 L1092.0,155.3 L1098.0,152.0 L1098.3,151.8 L1099.3,151.2 L1100.3,150.6 L1101.3,150.0 L1102.3,149.4 L1103.3,148.8 L1104.3,148.2 L1105.3,147.6 L1106.3,147.0 L1107.3,146.4 L1108.3,145.7 L1109.3,145.0 L1110.3,144.2 L1111.3,143.4 L1112.3,142.6 L1113.3,141.8 L1114.3,140.9 L1115.3,139.9 L1116.3,138.9 L1117.3,137.9 L1118.3,136.7 L1119.3,135.5 L1120.3,134.1 L1121.3,132.6 L1122.3,131.0 L1123.3,129.3 L1124.3,127.6 L1125.3,125.9 L1126.3,124.0 L1127.3,122.1 L1128.3,120.2 L1129.3,118.2 L1130.3,116.2 L1131.3,114.3 L1132.3,112.5 L1133.3,110.7 L1134.3,108.9 L1135.3,107.1 L1136.3,105.4 L1137.3,103.7 L1138.3,102.0 L1138.3,155.5"/>
<path d="M193.1,708.2 L193.1,703.8 L193.1,699.4 L193.1,694.9 L193.2,690.4 L193.2,685.7 L193.2,680.9 L193.2,676.0 L193.2,671.1 L193.3,666.1 L193.3,661.0 L193.3,655.8 L193.3,650.6 L193.3,645.3 L193.4,640.0 L193.4,634.7 L193.4,629.3 L193.4,623.9 L193.5,618.5 L193.5,613.0 L193.5,607.6 L193.5,602.1 L193.6,596.7 L193.6,591.3 L193.6,585.8 L193.6,580.4 L193.7,575.1 L193.7,569.7 L193.7,564.4 L193.8,559.2 L193.8,554.0 L193.8,548.8 L193.8,543.8 L193.9,538.7 L193.9,533.8 L193.9,529.0 L194.0,524.2 L194.0,519.5 L194.0,514.9 L194.1,510.5 L194.1,506.1 L194.1,501.9 L194.2,497.8 L194.2,493.6 L194.2,489.6 L194.3,485.5 L194.3,481.5 L194.4,477.5 L194.4,473.6 L194.4,469.7 L194.5,465.8 L194.5,462.0 L194.6,458.2 L194.6,454.5 L194.7,450.8 L194.7,447.1 L194.8,443.5 L194.8,440.0 L194.9,436.5 L194.9,433.0 L195.0,429.6 L195.0,426.3 L195.1,423.0 L195.1,419.7 L195.2,416.6 L195.2,413.4 L195.3,410.4 L195.3,407.4 L195.4,404.4 L195.4,401.5 L195.5,398.7 L195.6,396.0 L195.6,393.2 L195.7,390.5 L195.7,387.9 L195.8,385.3 L195.9,382.7 L195.9,380.2 L196.0,377.7 L196.0,375.3 L196.1,372.9 L196.2,370.6 L196.2,368.4 L196.3,366.2 L196.4,364.0 L196.4,361.9 L196.5,359.9 L196.5,357.9 L196.6,356.0 L196.6,354.1 L196.7,352.4 L196.7,350.7 L196.8,349.1 L196.8,347.6 L196.8,346.0 L196.9,344.5 L196.9,343.0 L197.0,341.5 L197.0,340.0 L197.1,338.4 L197.1,336.8 L197.2,335.2 L197.2,333.5 L197.3,331.8 L197.4,330.0 L197.5,328.3 L197.5,326.5 L197.6,324.7 L197.7,323.0 L197.8,321.2 L197.9,319.4 L198.0,317.6 L198.1,315.8 L198.2,314.1 L198.3,312.3 L198.5,310.5 L198.6,308.8 L198.7,307.0 L198.8,305.2 L199.0,303.5 L199.1,301.7 L199.3,299.9 L199.5,298.2 L199.6,296.4 L199.8,294.6 L200.0,292.9 L200.2,291.1 L200.4,289.3 L200.6,287.6 L200.8,285.8 L201.0,284.0 L201.2,282.3 L201.4,280.5 L201.6,278.7 L201.8,277.0 L202.1,275.2 L202.3,273.4 L202.6,271.7 L202.8,269.9 L203.1,268.2 L203.4,266.4 L203.8,264.7 L204.1,262.9 L204.5,261.2 L204.9,259.4 L205.4,257.6 L205.9,255.8 L206.4,254.0 L207.0,252.2 L207.6,250.4 L208.2,248.7 L208.8,247.0 L209.4,245.3 L210.0,243.7 L210.7,242.1 L211.3,240.7 L211.9,239.3 L212.4,237.9 L213.0,236.7 L213.5,235.4 L214.1,234.2 L214.6,233.1 L215.2,232.0 L215.8,230.9 L216.5,229.9 L217.1,228.9 L217.8,228.0 L218.6,227.0 L219.4,226.1 L220.3,225.3 L221.2,224.4 L222.1,223.6 L223.1,222.8 L224.1,222.1 L225.1,221.4 L226.1,220.8 L227.2,220.2 L228.2,219.7 L229.3,219.1 L230.4,218.6 L231.5,218.1 L232.6,217.6 L233.8,217.2 L234.9,216.8 L236.1,216.5 L237.3,216.3 L238.5,216.0 L239.7,215.8 L240.9,215.6 L242.1,215.4 L243.3,215.3 L244.6,215.1 L245.9,215.0 L247.2,214.9 L248.6,214.8 L250.1,214.7 L251.6,214.6 L253.3,214.6 L254.9,214.5 L256.7,214.5 L258.5,214.4 L260.3,214.4 L262.2,214.3 L264.1,214.3 L266.1,214.2 L268.1,214.2 L270.2,214.1 L272.3,214.1 L274.4,214.0 L276.5,214.0 L278.7,214.0 L280.9,213.9 L283.1,213.9 L285.4,213.8 L287.7,213.8 L290.1,213.7 L292.4,213.7 L294.9,213.6 L297.4,213.6 L299.9,213.5 L302.4,213.4 L305.0,213.4 L307.6,213.3 L310.3,213.3 L313.0,213.2 L315.7,213.1 L318.5,213.0 L321.3,213.0 L324.2,212.9 L327.1,212.8 L330.0,212.8 L336.0,212.6 L342.0,212.4 L348.0,212.3 L354.0,212.1 L360.0,211.9 L366.0,211.8 L372.0,211.6 L378.0,211.4 L384.0,211.2 L390.0,211.0 L396.0,210.7 L402.0,210.5 L408.0,210.3 L414.0,210.1 L420.0,209.9 L426.0,209.6 L432.0,209.4 L438.0,209.2 L444.0,209.0 L450.0,208.8 L456.0,208.6 L462.0,208.5 L468.0,208.3 L474.0,208.1 L480.0,207.9 L486.0,207.7 L492.0,207.5 L498.0,207.3 L504.0,207.2 L510.0,207.0 L516.0,206.8 L522.0,206.6 L528.0,206.4 L534.0,206.2 L540.0,206.0 L546.0,205.8 L552.0,205.6 L558.0,205.4 L564.0,205.2 L570.0,205.0 L576.0,204.7 L582.0,204.5 L588.0,204.3 L594.0,204.1 L600.0,203.8 L606.0,203.6 L612.0,203.3 L618.0,203.1 L624.0,202.9 L630.0,202.6 L636.0,202.4 L642.0,202.1 L648.0,201.9 L654.0,201.6 L660.0,201.3 L666.0,201.1 L672.0,200.8 L678.0,200.5 L684.0,200.3 L690.0,200.0 L696.0,199.7 L702.0,199.4 L708.0,199.1 L714.0,198.8 L720.0,198.5 L726.0,198.2 L732.0,197.9 L738.0,197.6 L744.0,197.3 L750.0,196.9 L756.0,196.6 L762.0,196.3 L768.0,195.9 L774.0,195.5 L780.0,195.1 L786.0,194.7 L792.0,194.3 L798.0,193.8 L804.0,193.4 L810.0,192.9 L816.0,192.5 L822.0,192.0 L828.0,191.6 L834.0,191.1 L840.0,190.6 L846.0,190.1 L852.0,189.6 L858.0,189.1 L864.0,188.6 L870.0,188.0 L876.0,187.5 L882.0,187.0 L888.0,186.5 L894.0,186.0 L900.0,185.5 L906.0,185.0 L912.0,184.5 L918.0,184.0 L924.0,183.5 L930.0,182.9 L936.0,182.4 L942.0,181.8 L948.0,181.3 L954.0,180.7 L960.0,180.1 L966.0,179.5 L972.0,178.9 L978.0,178.4 L984.0,177.8 L990.0,177.1 L996.0,176.4 L1002.0,175.7 L1008.0,174.9 L1014.0,174.1 L1020.0,173.2 L1026.0,172.2 L1032.0,171.0 L1038.0,169.7 L1044.0,168.1 L1050.0,166.2 L1056.0,164.2 L1062.0,161.9 L1068.0,159.5 L1074.0,156.7 L1080.0,153.6 L1086.0,150.3 L1089.3,148.5 L1090.3,147.9 L1091.3,147.3 L1092.3,146.6 L1093.3,146.0 L1094.3,145.4 L1095.3,144.8 L1096.3,144.2 L1097.3,143.6 L1098.3,142.9 L1099.3,142.2 L1100.3,141.5 L1101.3,140.8 L1102.3,140.0 L1103.3,139.2 L1104.3,138.4 L1105.3,137.5 L1106.3,136.6 L1107.3,135.6 L1108.3,134.6 L1109.3,133.6 L1110.3,132.4 L1111.3,131.1 L1112.3,129.7 L1113.3,128.2 L1114.3,126.7 L1115.3,125.2 L1116.3,123.6 L1117.3,121.9 L1118.3,120.2 L1119.3,118.4 L1120.3,116.6 L1121.3,114.9 L1122.3,113.1 L1123.3,111.4 L1124.3,109.8 L1125.3,108.2 L1126.3,106.6 L1127.3,105.0 L1128.3,103.5 L1129.3,102.0 L1129.3,155.0"/>
<path d="M193.0,708.1 L193.0,703.7 L193.1,699.3 L193.1,694.9 L193.1,690.3 L193.1,685.6 L193.1,680.8 L193.1,675.9 L193.2,671.0 L193.2,665.9 L193.2,660.8 L193.2,655.7 L193.2,650.5 L193.3,645.2 L193.3,639.9 L193.3,634.5 L193.3,629.1 L193.4,623.7 L193.4,618.3 L193.4,612.9 L193.4,607.4 L193.5,602.0 L193.5,596.5 L193.5,591.1 L193.5,585.6 L193.6,580.2 L193.6,574.9 L193.6,569.5 L193.6,564.2 L193.7,559.0 L193.7,553.7 L193.7,548.6 L193.8,543.5 L193.8,538.5 L193.8,533.6 L193.9,528.7 L193.9,524.0 L193.9,519.3 L193.9,514.7 L194.0,510.3 L194.0,505.9 L194.0,501.7 L194.1,497.5 L194.1,493.4 L194.2,489.3 L194.2,485.3 L194.2,481.3 L194.3,477.3 L194.3,473.4 L194.4,469.5 L194.4,465.6 L194.4,461.8 L194.5,458.0 L194.5,454.3 L194.6,450.6 L194.6,446.9 L194.7,443.3 L194.7,439.8 L194.8,436.2 L194.8,432.8 L194.9,429.4 L195.0,426.0 L195.0,422.7 L195.1,419.5 L195.1,416.3 L195.2,413.2 L195.2,410.2 L195.3,407.2 L195.3,404.2 L195.4,401.3 L195.4,398.5 L195.5,395.8 L195.6,393.0 L195.6,390.3 L195.7,387.7 L195.7,385.1 L195.8,382.5 L195.9,380.0 L195.9,377.6 L196.0,375.2 L196.1,372.8 L196.1,370.5 L196.2,368.2 L196.3,366.0 L196.3,363.9 L196.4,361.8 L196.4,359.8 L196.5,357.8 L196.5,355.9 L196.6,354.1 L196.6,352.3 L196.7,350.7 L196.7,349.1 L196.7,347.5 L196.8,346.0 L196.8,344.5 L196.9,343.0 L196.9,341.5 L196.9,339.9 L197.0,338.4 L197.0,336.8 L197.1,335.1 L197.1,333.4 L197.2,331.7 L197.3,329.9 L197.4,328.2 L197.4,326.4 L197.5,324.6 L197.6,322.9 L197.7,321.1 L197.8,319.3 L197.9,317.5 L198.0,315.7 L198.1,313.9 L198.2,312.2 L198.3,310.4 L198.4,308.6 L198.5,306.9 L198.6,305.1 L198.7,303.3 L198.9,301.6 L199.0,299.8 L199.2,298.0 L199.3,296.3 L199.5,294.5 L199.6,292.7 L199.8,291.0 L199.9,289.2 L200.1,287.4 L200.3,285.7 L200.5,283.9 L200.7,282.1 L200.9,280.3 L201.1,278.6 L201.3,276.8 L201.5,275.0 L201.7,273.2 L202.0,271.5 L202.2,269.7 L202.5,268.0 L202.8,266.2 L203.1,264.5 L203.4,262.7 L203.8,261.0 L204.2,259.2 L204.6,257.5 L205.1,255.7 L205.6,253.9 L206.2,252.1 L206.7,250.3 L207.3,248.6 L207.9,246.9 L208.5,245.3 L209.1,243.7 L209.7,242.2 L210.2,240.7 L210.8,239.3 L211.3,238.0 L211.9,236.7 L212.4,235.4 L213.0,234.2 L213.5,233.0 L214.1,231.9 L214.7,230.8 L215.3,229.7 L216.0,228.7 L216.7,227.8 L217.4,226.8 L218.3,225.9 L219.1,225.0 L220.1,224.1 L221.0,223.3 L222.0,222.5 L223.0,221.7 L224.0,221.0 L225.0,220.4 L226.0,219.8 L227.1,219.2 L228.1,218.7 L229.2,218.2 L230.3,217.7 L231.5,217.2 L232.6,216.8 L233.8,216.4 L234.9,216.1 L236.1,215.8 L237.3,215.6 L238.5,215.4 L239.7,215.2 L240.9,215.0 L242.2,214.9 L243.4,214.7 L244.7,214.6 L246.1,214.5 L247.5,214.4 L249.0,214.3 L250.5,214.2 L252.1,214.2 L253.8,214.1 L255.5,214.0 L257.3,214.0 L259.1,213.9 L261.0,213.9 L262.9,213.8 L264.8,213.7 L266.8,213.7 L268.9,213.6 L270.9,213.6 L273.0,213.5 L275.2,213.5 L277.3,213.4 L279.6,213.4 L281.8,213.3 L284.1,213.3 L286.5,213.2 L288.9,213.1 L291.3,213.1 L293.8,213.0 L296.3,212.9 L298.9,212.9 L301.5,212.8 L304.2,212.7 L306.9,212.6 L309.6,212.6 L312.4,212.5 L315.2,212.4 L318.1,212.3 L321.0,212.2 L324.0,212.1 L327.0,212.0 L330.0,212.0 L336.0,211.8 L342.0,211.6 L348.0,211.4 L354.0,211.2 L360.0,211.0 L366.0,210.8 L372.0,210.6 L378.0,210.4 L384.0,210.1 L390.0,209.9 L396.0,209.6 L402.0,209.4 L408.0,209.1 L414.0,208.9 L420.0,208.7 L426.0,208.4 L432.0,208.2 L438.0,208.0 L444.0,207.8 L450.0,207.6 L456.0,207.4 L462.0,207.2 L468.0,207.0 L474.0,206.8 L480.0,206.6 L486.0,206.4 L492.0,206.2 L498.0,206.0 L504.0,205.8 L510.0,205.6 L516.0,205.4 L522.0,205.2 L528.0,205.0 L534.0,204.8 L540.0,204.6 L546.0,204.4 L552.0,204.2 L558.0,204.0 L564.0,203.7 L570.0,203.5 L576.0,203.3 L582.0,203.0 L588.0,202.8 L594.0,202.5 L600.0,202.3 L606.0,202.0 L612.0,201.8 L618.0,201.5 L624.0,201.3 L630.0,201.0 L636.0,200.7 L642.0,200.5 L648.0,200.2 L654.0,199.9 L660.0,199.6 L666.0,199.4 L672.0,199.1 L678.0,198.8 L684.0,198.5 L690.0,198.2 L696.0,197.9 L702.0,197.6 L708.0,197.2 L714.0,196.9 L720.0,196.6 L726.0,196.2 L732.0,195.9 L738.0,195.5 L744.0,195.2 L750.0,194.8 L756.0,194.4 L762.0,194.0 L768.0,193.6 L774.0,193.1 L780.0,192.7 L786.0,192.2 L792.0,191.7 L798.0,191.2 L804.0,190.7 L810.0,190.2 L816.0,189.7 L822.0,189.2 L828.0,188.6 L834.0,188.1 L840.0,187.5 L846.0,186.9 L852.0,186.3 L858.0,185.7 L864.0,185.1 L870.0,184.5 L876.0,183.9 L882.0,183.3 L888.0,182.8 L894.0,182.2 L900.0,181.7 L906.0,181.1 L912.0,180.6 L918.0,180.0 L924.0,179.4 L930.0,178.8 L936.0,178.1 L942.0,177.5 L948.0,176.9 L954.0,176.2 L960.0,175.5 L966.0,174.9 L972.0,174.3 L978.0,173.6 L984.0,172.9 L990.0,172.2 L996.0,171.4 L1002.0,170.5 L1008.0,169.6 L1014.0,168.6 L1020.0,167.4 L1026.0,166.1 L1032.0,164.5 L1038.0,162.7 L1044.0,160.7 L1050.0,158.4 L1056.0,156.0 L1062.0,153.3 L1068.0,150.3 L1074.0,147.0 L1078.8,144.3 L1079.8,143.7 L1080.8,143.1 L1081.8,142.5 L1082.8,141.9 L1083.8,141.2 L1084.8,140.6 L1085.8,140.0 L1086.8,139.3 L1087.8,138.7 L1088.8,138.0 L1089.8,137.3 L1090.8,136.5 L1091.8,135.8 L1092.8,135.0 L1093.8,134.2 L1094.8,133.3 L1095.8,132.5 L1096.8,131.5 L1097.8,130.6 L1098.8,129.6 L1099.8,128.6 L1100.8,127.4 L1101.8,126.1 L1102.8,124.8 L1103.8,123.5 L1104.8,122.1 L1105.8,120.7 L1106.8,119.3 L1107.8,117.8 L1108.8,116.2 L1109.8,114.7 L1110.8,113.1 L1111.8,111.6 L1112.8,110.2 L1113.8,108.7 L1114.8,107.3 L1115.8,105.9 L1116.8,104.6 L1117.8,103.3 L1118.8,102.0 L1118.8,155.0"/>
<path d="M193.0,708.1 L193.0,703.7 L193.0,699.3 L193.0,694.8 L193.0,690.2 L193.1,685.5 L193.1,680.7 L193.1,675.9 L193.1,670.9 L193.1,665.9 L193.1,660.8 L193.2,655.6 L193.2,650.4 L193.2,645.1 L193.2,639.8 L193.2,634.4 L193.3,629.0 L193.3,623.6 L193.3,618.2 L193.3,612.7 L193.4,607.3 L193.4,601.8 L193.4,596.4 L193.4,590.9 L193.5,585.5 L193.5,580.1 L193.5,574.7 L193.5,569.4 L193.6,564.0 L193.6,558.8 L193.6,553.6 L193.6,548.4 L193.7,543.4 L193.7,538.3 L193.7,533.4 L193.8,528.6 L193.8,523.8 L193.8,519.1 L193.9,514.6 L193.9,510.1 L193.9,505.8 L194.0,501.5 L194.0,497.4 L194.0,493.3 L194.1,489.2 L194.1,485.1 L194.1,481.1 L194.2,477.1 L194.2,473.2 L194.3,469.3 L194.3,465.4 L194.4,461.6 L194.4,457.8 L194.5,454.1 L194.5,450.4 L194.6,446.7 L194.6,443.1 L194.7,439.6 L194.7,436.1 L194.8,432.6 L194.8,429.2 L194.9,425.9 L194.9,422.6 L195.0,419.3 L195.0,416.2 L195.1,413.0 L195.2,410.0 L195.2,407.0 L195.3,404.1 L195.3,401.2 L195.4,398.4 L195.4,395.6 L195.5,392.9 L195.6,390.2 L195.6,387.6 L195.7,385.0 L195.8,382.4 L195.8,379.9 L195.9,377.5 L196.0,375.1 L196.0,372.7 L196.1,370.4 L196.2,368.2 L196.2,366.0 L196.3,363.8 L196.3,361.7 L196.4,359.7 L196.4,357.8 L196.5,355.9 L196.5,354.0 L196.6,352.3 L196.6,350.7 L196.7,349.1 L196.7,347.5 L196.7,346.0 L196.8,344.5 L196.8,343.0 L196.8,341.5 L196.9,339.9 L196.9,338.4 L197.0,336.7 L197.0,335.1 L197.1,333.3 L197.1,331.6 L197.2,329.9 L197.2,328.1 L197.3,326.4 L197.4,324.6 L197.5,322.8 L197.5,321.0 L197.6,319.2 L197.7,317.4 L197.8,315.7 L197.9,313.9 L198.0,312.1 L198.1,310.3 L198.2,308.6 L198.3,306.8 L198.4,305.0 L198.5,303.3 L198.6,301.5 L198.7,299.7 L198.8,297.9 L199.0,296.2 L199.1,294.4 L199.2,292.6 L199.4,290.9 L199.5,289.1 L199.7,287.3 L199.9,285.6 L200.0,283.8 L200.2,282.0 L200.4,280.2 L200.6,278.4 L200.8,276.6 L201.0,274.9 L201.2,273.1 L201.4,271.3 L201.7,269.6 L201.9,267.8 L202.2,266.1 L202.5,264.3 L202.8,262.6 L203.1,260.9 L203.5,259.1 L203.9,257.3 L204.4,255.6 L204.8,253.8 L205.4,252.1 L205.9,250.3 L206.4,248.6 L207.0,247.0 L207.5,245.3 L208.1,243.8 L208.7,242.2 L209.2,240.8 L209.7,239.4 L210.3,238.1 L210.8,236.7 L211.3,235.5 L211.8,234.2 L212.4,233.0 L213.0,231.8 L213.6,230.7 L214.2,229.6 L214.9,228.6 L215.6,227.6 L216.3,226.6 L217.2,225.7 L218.1,224.8 L219.0,223.9 L219.9,223.0 L220.9,222.2 L221.9,221.4 L222.9,220.7 L223.9,220.1 L224.9,219.5 L226.0,218.9 L227.0,218.3 L228.1,217.8 L229.2,217.3 L230.3,216.8 L231.5,216.4 L232.6,216.0 L233.8,215.7 L235.0,215.5 L236.2,215.3 L237.4,215.1 L238.6,214.9 L239.8,214.7 L241.0,214.5 L242.3,214.4 L243.6,214.3 L245.0,214.1 L246.4,214.0 L247.9,214.0 L249.5,213.9 L251.1,213.8 L252.7,213.7 L254.4,213.7 L256.1,213.6 L257.9,213.5 L259.8,213.5 L261.7,213.4 L263.6,213.3 L265.6,213.3 L267.6,213.2 L269.6,213.1 L271.7,213.1 L273.9,213.0 L276.0,213.0 L278.3,212.9 L280.6,212.8 L282.9,212.8 L285.3,212.7 L287.7,212.6 L290.2,212.5 L292.7,212.5 L295.3,212.4 L297.9,212.3 L300.6,212.2 L303.4,212.1 L306.1,212.0 L308.9,211.9 L311.8,211.9 L314.7,211.8 L317.7,211.7 L320.7,211.6 L323.8,211.5 L326.9,211.4 L330.0,211.3 L336.0,211.1 L342.0,210.9 L348.0,210.7 L354.0,210.4 L360.0,210.2 L366.0,210.0 L372.0,209.7 L378.0,209.4 L384.0,209.2 L390.0,208.9 L396.0,208.6 L402.0,208.4 L408.0,208.1 L414.0,207.9 L420.0,207.7 L426.0,207.4 L432.0,207.2 L438.0,207.0 L444.0,206.8 L450.0,206.6 L456.0,206.4 L462.0,206.2 L468.0,206.0 L474.0,205.7 L480.0,205.5 L486.0,205.3 L492.0,205.1 L498.0,204.9 L504.0,204.7 L510.0,204.5 L516.0,204.3 L522.0,204.1 L528.0,203.9 L534.0,203.7 L540.0,203.5 L546.0,203.2 L552.0,203.0 L558.0,202.8 L564.0,202.5 L570.0,202.3 L576.0,202.0 L582.0,201.8 L588.0,201.5 L594.0,201.2 L600.0,201.0 L606.0,200.7 L612.0,200.5 L618.0,200.2 L624.0,199.9 L630.0,199.6 L636.0,199.4 L642.0,199.1 L648.0,198.8 L654.0,198.5 L660.0,198.2 L666.0,197.9 L672.0,197.6 L678.0,197.3 L684.0,197.0 L690.0,196.6 L696.0,196.3 L702.0,196.0 L708.0,195.6 L714.0,195.3 L720.0,194.9 L726.0,194.5 L732.0,194.1 L738.0,193.8 L744.0,193.4 L750.0,192.9 L756.0,192.5 L762.0,192.0 L768.0,191.5 L774.0,191.0 L780.0,190.5 L786.0,190.0 L792.0,189.5 L798.0,188.9 L804.0,188.4 L810.0,187.8 L816.0,187.2 L822.0,186.7 L828.0,186.1 L834.0,185.4 L840.0,184.8 L846.0,184.1 L852.0,183.4 L858.0,182.8 L864.0,182.1 L870.0,181.5 L876.0,180.8 L882.0,180.2 L888.0,179.6 L894.0,179.0 L900.0,178.4 L906.0,177.8 L912.0,177.2 L918.0,176.5 L924.0,175.8 L930.0,175.2 L936.0,174.5 L942.0,173.8 L948.0,173.1 L954.0,172.4 L960.0,171.7 L966.0,171.0 L972.0,170.3 L978.0,169.5 L984.0,168.7 L990.0,167.8 L996.0,166.9 L1002.0,165.9 L1008.0,164.8 L1014.0,163.5 L1020.0,162.1 L1026.0,160.3 L1032.0,158.3 L1038.0,156.2 L1044.0,153.9 L1050.0,151.3 L1056.0,148.4 L1062.0,145.3 L1068.0,141.9 L1070.2,140.7 L1071.2,140.0 L1072.2,139.4 L1073.2,138.8 L1074.2,138.2 L1075.2,137.5 L1076.2,136.9 L1077.2,136.2 L1078.2,135.6 L1079.2,134.9 L1080.2,134.2 L1081.2,133.5 L1082.2,132.8 L1083.2,132.0 L1084.2,131.3 L1085.2,130.5 L1086.2,129.6 L1087.2,128.8 L1088.2,127.9 L1089.2,127.1 L1090.2,126.1 L1091.2,125.2 L1092.2,124.1 L1093.2,123.0 L1094.2,121.8 L1095.2,120.6 L1096.2,119.4 L1097.2,118.2 L1098.2,116.9 L1099.2,115.6 L1100.2,114.3 L1101.2,113.0 L1102.2,111.6 L1103.2,110.3 L1104.2,109.0 L1105.2,107.7 L1106.2,106.5 L1107.2,105.3 L1108.2,104.2 L1109.2,103.1 L1110.2,102.0 L1110.2,154.5"/>
<path d="M192.9,708.1 L192.9,703.7 L193.0,699.3 L193.0,694.8 L193.0,690.2 L193.0,685.5 L193.0,680.7 L193.0,675.8 L193.0,670.8 L193.1,665.8 L193.1,660.7 L193.1,655.5 L193.1,650.3 L193.1,645.0 L193.2,639.7 L193.2,634.3 L193.2,628.9 L193.2,623.5 L193.2,618.1 L193.3,612.6 L193.3,607.1 L193.3,601.7 L193.3,596.2 L193.4,590.8 L193.4,585.3 L193.4,579.9 L193.4,574.5 L193.5,569.2 L193.5,563.9 L193.5,558.6 L193.5,553.4 L193.6,548.3 L193.6,543.2 L193.6,538.2 L193.7,533.2 L193.7,528.4 L193.7,523.6 L193.8,519.0 L193.8,514.4 L193.8,509.9 L193.8,505.6 L193.9,501.4 L193.9,497.2 L193.9,493.1 L194.0,489.0 L194.0,485.0 L194.1,481.0 L194.1,477.0 L194.1,473.0 L194.2,469.1 L194.2,465.3 L194.3,461.4 L194.3,457.6 L194.4,453.9 L194.4,450.2 L194.5,446.6 L194.5,443.0 L194.6,439.4 L194.6,435.9 L194.7,432.4 L194.8,429.0 L194.8,425.7 L194.9,422.4 L194.9,419.2 L195.0,416.0 L195.0,412.9 L195.1,409.8 L195.2,406.8 L195.2,403.9 L195.3,401.0 L195.3,398.2 L195.4,395.5 L195.4,392.7 L195.5,390.1 L195.6,387.4 L195.6,384.8 L195.7,382.3 L195.8,379.8 L195.9,377.4 L195.9,375.0 L196.0,372.6 L196.1,370.3 L196.1,368.1 L196.2,365.9 L196.3,363.8 L196.3,361.7 L196.4,359.7 L196.4,357.7 L196.5,355.8 L196.5,354.0 L196.5,352.3 L196.6,350.6 L196.6,349.0 L196.6,347.5 L196.7,346.0 L196.7,344.5 L196.7,343.0 L196.8,341.5 L196.8,339.9 L196.8,338.3 L196.9,336.7 L196.9,335.0 L197.0,333.3 L197.0,331.6 L197.1,329.8 L197.1,328.1 L197.2,326.3 L197.3,324.5 L197.3,322.7 L197.4,320.9 L197.5,319.2 L197.6,317.4 L197.6,315.6 L197.7,313.8 L197.8,312.0 L197.9,310.3 L198.0,308.5 L198.1,306.7 L198.1,305.0 L198.2,303.2 L198.3,301.4 L198.4,299.6 L198.5,297.9 L198.6,296.1 L198.8,294.3 L198.9,292.5 L199.0,290.8 L199.1,289.0 L199.3,287.2 L199.4,285.4 L199.6,283.7 L199.7,281.9 L199.9,280.1 L200.1,278.3 L200.2,276.5 L200.4,274.7 L200.6,273.0 L200.9,271.2 L201.1,269.4 L201.3,267.7 L201.6,265.9 L201.8,264.2 L202.1,262.5 L202.4,260.7 L202.8,259.0 L203.2,257.2 L203.6,255.5 L204.1,253.8 L204.6,252.0 L205.1,250.3 L205.6,248.6 L206.1,247.0 L206.6,245.4 L207.1,243.8 L207.7,242.3 L208.2,240.9 L208.7,239.5 L209.2,238.1 L209.7,236.8 L210.2,235.5 L210.8,234.2 L211.3,233.0 L211.9,231.8 L212.5,230.6 L213.1,229.5 L213.8,228.4 L214.5,227.4 L215.3,226.4 L216.1,225.5 L217.0,224.5 L217.9,223.6 L218.9,222.7 L219.9,221.9 L220.9,221.1 L221.9,220.4 L222.9,219.7 L223.9,219.1 L224.9,218.5 L226.0,218.0 L227.0,217.4 L228.1,216.9 L229.2,216.5 L230.4,216.0 L231.5,215.7 L232.7,215.4 L233.9,215.1 L235.0,214.9 L236.2,214.7 L237.5,214.5 L238.7,214.4 L239.9,214.2 L241.2,214.0 L242.6,213.9 L244.0,213.8 L245.4,213.7 L246.9,213.6 L248.4,213.5 L250.0,213.4 L251.6,213.4 L253.3,213.3 L255.0,213.2 L256.8,213.1 L258.6,213.0 L260.4,213.0 L262.3,212.9 L264.3,212.8 L266.3,212.7 L268.3,212.7 L270.4,212.6 L272.6,212.5 L274.8,212.5 L277.0,212.4 L279.3,212.3 L281.7,212.2 L284.1,212.2 L286.6,212.1 L289.1,212.0 L291.7,211.9 L294.3,211.8 L297.0,211.7 L299.8,211.6 L302.6,211.5 L305.4,211.4 L308.3,211.3 L311.3,211.2 L314.3,211.1 L317.3,211.0 L320.4,210.9 L323.6,210.8 L326.8,210.6 L330.0,210.5 L336.0,210.3 L342.0,210.1 L348.0,209.9 L354.0,209.6 L360.0,209.3 L366.0,209.1 L372.0,208.8 L378.0,208.5 L384.0,208.2 L390.0,207.9 L396.0,207.6 L402.0,207.4 L408.0,207.1 L414.0,206.9 L420.0,206.6 L426.0,206.4 L432.0,206.2 L438.0,206.0 L444.0,205.7 L450.0,205.5 L456.0,205.3 L462.0,205.1 L468.0,204.9 L474.0,204.7 L480.0,204.5 L486.0,204.3 L492.0,204.1 L498.0,203.8 L504.0,203.6 L510.0,203.4 L516.0,203.2 L522.0,203.0 L528.0,202.8 L534.0,202.5 L540.0,202.3 L546.0,202.1 L552.0,201.8 L558.0,201.6 L564.0,201.3 L570.0,201.0 L576.0,200.8 L582.0,200.5 L588.0,200.2 L594.0,200.0 L600.0,199.7 L606.0,199.4 L612.0,199.1 L618.0,198.8 L624.0,198.6 L630.0,198.3 L636.0,198.0 L642.0,197.7 L648.0,197.4 L654.0,197.1 L660.0,196.7 L666.0,196.4 L672.0,196.1 L678.0,195.8 L684.0,195.4 L690.0,195.1 L696.0,194.7 L702.0,194.3 L708.0,194.0 L714.0,193.6 L720.0,193.2 L726.0,192.8 L732.0,192.4 L738.0,191.9 L744.0,191.5 L750.0,191.0 L756.0,190.5 L762.0,190.0 L768.0,189.4 L774.0,188.9 L780.0,188.3 L786.0,187.7 L792.0,187.2 L798.0,186.6 L804.0,186.0 L810.0,185.4 L816.0,184.7 L822.0,184.0 L828.0,183.4 L834.0,182.6 L840.0,181.9 L846.0,181.2 L852.0,180.5 L858.0,179.7 L864.0,179.0 L870.0,178.4 L876.0,177.7 L882.0,177.1 L888.0,176.4 L894.0,175.7 L900.0,175.1 L906.0,174.4 L912.0,173.7 L918.0,173.0 L924.0,172.2 L930.0,171.5 L936.0,170.8 L942.0,170.0 L948.0,169.3 L954.0,168.5 L960.0,167.7 L966.0,166.9 L972.0,166.0 L978.0,165.1 L984.0,164.2 L990.0,163.2 L996.0,162.0 L1002.0,160.8 L1008.0,159.4 L1014.0,157.8 L1020.0,155.9 L1026.0,153.8 L1032.0,151.5 L1038.0,149.0 L1044.0,146.3 L1050.0,143.3 L1056.0,140.1 L1061.8,136.7 L1062.8,136.0 L1063.8,135.4 L1064.8,134.8 L1065.8,134.1 L1066.8,133.5 L1067.8,132.8 L1068.8,132.2 L1069.8,131.5 L1070.8,130.8 L1071.8,130.1 L1072.8,129.4 L1073.8,128.7 L1074.8,128.0 L1075.8,127.2 L1076.8,126.4 L1077.8,125.6 L1078.8,124.8 L1079.8,124.0 L1080.8,123.2 L1081.8,122.3 L1082.8,121.5 L1083.8,120.5 L1084.8,119.5 L1085.8,118.5 L1086.8,117.5 L1087.8,116.5 L1088.8,115.5 L1089.8,114.4 L1090.8,113.3 L1091.8,112.2 L1092.8,111.1 L1093.8,110.0 L1094.8,108.9 L1095.8,107.8 L1096.8,106.7 L1097.8,105.7 L1098.8,104.7 L1099.8,103.8 L1100.8,102.9 L1101.8,102.0 L1101.8,154.5"/>
<path d="M192.9,708.0 L192.9,703.6 L192.9,699.2 L192.9,694.7 L192.9,690.1 L192.9,685.4 L193.0,680.6 L193.0,675.7 L193.0,670.7 L193.0,665.7 L193.0,660.6 L193.0,655.4 L193.0,650.2 L193.1,644.9 L193.1,639.6 L193.1,634.2 L193.1,628.8 L193.1,623.4 L193.2,617.9 L193.2,612.5 L193.2,607.0 L193.2,601.5 L193.3,596.1 L193.3,590.6 L193.3,585.2 L193.3,579.8 L193.4,574.4 L193.4,569.0 L193.4,563.7 L193.4,558.5 L193.5,553.3 L193.5,548.1 L193.5,543.0 L193.6,538.0 L193.6,533.1 L193.6,528.2 L193.6,523.5 L193.7,518.8 L193.7,514.2 L193.7,509.8 L193.8,505.4 L193.8,501.2 L193.8,497.1 L193.9,493.0 L193.9,488.9 L193.9,484.8 L194.0,480.8 L194.0,476.8 L194.1,472.9 L194.1,469.0 L194.2,465.1 L194.2,461.3 L194.3,457.5 L194.3,453.7 L194.4,450.0 L194.4,446.4 L194.5,442.8 L194.5,439.2 L194.6,435.7 L194.6,432.3 L194.7,428.9 L194.7,425.5 L194.8,422.2 L194.9,419.0 L194.9,415.8 L195.0,412.7 L195.0,409.7 L195.1,406.7 L195.1,403.8 L195.2,400.9 L195.3,398.1 L195.3,395.3 L195.4,392.6 L195.5,389.9 L195.5,387.3 L195.6,384.7 L195.7,382.2 L195.7,379.7 L195.8,377.2 L195.9,374.9 L196.0,372.5 L196.0,370.2 L196.1,368.0 L196.2,365.8 L196.2,363.7 L196.3,361.6 L196.3,359.6 L196.4,357.7 L196.4,355.8 L196.5,354.0 L196.5,352.3 L196.5,350.6 L196.6,349.0 L196.6,347.5 L196.6,346.0 L196.6,344.5 L196.7,343.0 L196.7,341.4 L196.7,339.9 L196.8,338.3 L196.8,336.7 L196.8,335.0 L196.9,333.3 L196.9,331.5 L197.0,329.8 L197.0,328.0 L197.1,326.2 L197.2,324.5 L197.2,322.7 L197.3,320.9 L197.3,319.1 L197.4,317.3 L197.5,315.5 L197.6,313.7 L197.6,312.0 L197.7,310.2 L197.8,308.4 L197.8,306.6 L197.9,304.9 L198.0,303.1 L198.1,301.3 L198.2,299.5 L198.2,297.8 L198.3,296.0 L198.4,294.2 L198.5,292.4 L198.6,290.7 L198.7,288.9 L198.9,287.1 L199.0,285.3 L199.1,283.6 L199.3,281.8 L199.4,280.0 L199.6,278.2 L199.7,276.4 L199.9,274.6 L200.1,272.8 L200.3,271.1 L200.5,269.3 L200.7,267.5 L201.0,265.8 L201.2,264.1 L201.5,262.4 L201.8,260.6 L202.1,258.9 L202.5,257.2 L202.9,255.4 L203.3,253.7 L203.8,252.0 L204.2,250.3 L204.7,248.7 L205.2,247.0 L205.7,245.4 L206.2,243.9 L206.7,242.4 L207.2,241.0 L207.7,239.6 L208.2,238.2 L208.7,236.8 L209.2,235.5 L209.7,234.2 L210.3,232.9 L210.9,231.7 L211.5,230.5 L212.1,229.4 L212.8,228.3 L213.5,227.3 L214.2,226.2 L215.1,225.2 L216.0,224.3 L216.9,223.3 L217.8,222.4 L218.8,221.6 L219.8,220.8 L220.8,220.1 L221.8,219.4 L222.8,218.8 L223.9,218.2 L224.9,217.6 L226.0,217.1 L227.0,216.6 L228.2,216.1 L229.3,215.7 L230.4,215.3 L231.6,215.0 L232.8,214.8 L233.9,214.6 L235.1,214.4 L236.4,214.2 L237.6,214.0 L238.9,213.9 L240.2,213.7 L241.5,213.6 L242.9,213.5 L244.3,213.4 L245.8,213.3 L247.4,213.2 L248.9,213.1 L250.5,213.0 L252.2,212.9 L253.9,212.8 L255.6,212.7 L257.4,212.6 L259.2,212.5 L261.1,212.5 L263.0,212.4 L265.0,212.3 L267.1,212.2 L269.2,212.1 L271.3,212.0 L273.5,212.0 L275.8,211.9 L278.1,211.8 L280.5,211.7 L283.0,211.6 L285.5,211.5 L288.1,211.4 L290.7,211.3 L293.4,211.2 L296.1,211.1 L298.9,211.0 L301.8,210.9 L304.7,210.8 L307.7,210.7 L310.7,210.5 L313.8,210.4 L316.9,210.3 L320.1,210.2 L323.4,210.1 L326.7,209.9 L330.0,209.8 L336.0,209.6 L342.0,209.3 L348.0,209.0 L354.0,208.8 L360.0,208.5 L366.0,208.2 L372.0,207.8 L378.0,207.5 L384.0,207.2 L390.0,207.0 L396.0,206.7 L402.0,206.4 L408.0,206.2 L414.0,205.9 L420.0,205.7 L426.0,205.4 L432.0,205.2 L438.0,205.0 L444.0,204.8 L450.0,204.5 L456.0,204.3 L462.0,204.1 L468.0,203.9 L474.0,203.7 L480.0,203.5 L486.0,203.2 L492.0,203.0 L498.0,202.8 L504.0,202.6 L510.0,202.4 L516.0,202.1 L522.0,201.9 L528.0,201.7 L534.0,201.4 L540.0,201.2 L546.0,200.9 L552.0,200.7 L558.0,200.4 L564.0,200.1 L570.0,199.9 L576.0,199.6 L582.0,199.3 L588.0,199.0 L594.0,198.7 L600.0,198.4 L606.0,198.2 L612.0,197.9 L618.0,197.6 L624.0,197.3 L630.0,197.0 L636.0,196.6 L642.0,196.3 L648.0,196.0 L654.0,195.7 L660.0,195.3 L666.0,195.0 L672.0,194.6 L678.0,194.3 L684.0,193.9 L690.0,193.5 L696.0,193.1 L702.0,192.7 L708.0,192.3 L714.0,191.9 L720.0,191.5 L726.0,191.1 L732.0,190.6 L738.0,190.1 L744.0,189.6 L750.0,189.1 L756.0,188.5 L762.0,187.9 L768.0,187.3 L774.0,186.7 L780.0,186.1 L786.0,185.5 L792.0,184.9 L798.0,184.2 L804.0,183.6 L810.0,182.9 L816.0,182.2 L822.0,181.4 L828.0,180.6 L834.0,179.8 L840.0,179.1 L846.0,178.3 L852.0,177.5 L858.0,176.8 L864.0,176.0 L870.0,175.3 L876.0,174.6 L882.0,173.9 L888.0,173.2 L894.0,172.5 L900.0,171.8 L906.0,171.0 L912.0,170.3 L918.0,169.5 L924.0,168.7 L930.0,167.9 L936.0,167.1 L942.0,166.3 L948.0,165.4 L954.0,164.5 L960.0,163.5 L966.0,162.5 L972.0,161.4 L978.0,160.3 L984.0,159.2 L990.0,157.9 L996.0,156.5 L1002.0,154.9 L1008.0,153.1 L1014.0,151.0 L1020.0,148.7 L1026.0,146.2 L1032.0,143.5 L1038.0,140.6 L1044.0,137.4 L1050.0,134.0 L1053.9,131.6 L1054.9,130.9 L1055.9,130.3 L1056.9,129.6 L1057.9,129.0 L1058.9,128.3 L1059.9,127.7 L1060.9,127.0 L1061.9,126.3 L1062.9,125.6 L1063.9,124.9 L1064.9,124.2 L1065.9,123.5 L1066.9,122.8 L1067.9,122.0 L1068.9,121.3 L1069.9,120.5 L1070.9,119.8 L1071.9,119.0 L1072.9,118.3 L1073.9,117.5 L1074.9,116.7 L1075.9,116.0 L1076.9,115.2 L1077.9,114.4 L1078.9,113.6 L1079.9,112.8 L1080.9,112.0 L1081.9,111.1 L1082.9,110.3 L1083.9,109.5 L1084.9,108.7 L1085.9,107.9 L1086.9,107.0 L1087.9,106.2 L1088.9,105.4 L1089.9,104.6 L1090.9,103.9 L1091.9,103.2 L1092.9,102.6 L1093.9,102.0 L1093.9,154.0"/>
<path d="M192.7,155.5 L192.7,159.1 L192.8,162.7 L192.9,166.3 L193.0,169.9 L193.1,173.6 L193.3,177.2 L193.5,180.8 L193.8,184.4 L194.1,188.0 L194.3,191.6 L194.6,195.2 L194.8,198.8 L195.1,202.4 L195.3,206.0 L195.5,209.6 L195.8,213.2 L196.2,216.8 L196.7,220.4 L197.2,223.9 L197.9,227.5 L198.6,231.0 L199.5,234.5 L201.0,237.8 L203.7,240.1 L207.3,240.7 L210.9,240.8 L214.5,240.8 L218.1,240.8 L221.7,240.9 L225.3,240.9 L228.9,240.9 L232.5,240.9 L236.1,240.9 L239.8,240.9 L243.4,240.9 L247.0,241.0 L250.6,241.0 L254.2,241.1 L257.8,241.1 L261.4,241.2 L265.0,241.2 L268.7,241.3 L272.3,241.4 L275.9,241.4 L279.5,241.5 L283.1,241.6 L286.7,241.7 L290.3,241.7 L293.9,241.8 L297.5,241.9 L301.2,242.0 L304.8,242.1 L308.4,242.1 L312.0,242.2 L315.6,242.3 L319.2,242.4 L322.8,242.5 L326.4,242.5 L330.0,242.6 L332.9,242.7 L335.8,242.7 L338.6,242.8 L341.5,242.8 L344.3,242.9 L347.2,242.9 L350.0,243.0 L352.9,243.0 L355.8,243.1 L358.6,243.2 L361.5,243.2 L364.3,243.3 L367.2,243.3 L370.0,243.4 L372.9,243.4 L375.8,243.5 L378.6,243.6 L381.5,243.6 L384.3,243.7 L387.2,243.7 L390.0,243.8 L392.9,243.9 L395.8,243.9 L398.6,244.0 L401.5,244.0 L404.3,244.1 L407.2,244.2 L410.0,244.2 L412.9,244.3 L415.8,244.3 L418.6,244.4 L421.5,244.5 L424.3,244.5 L427.2,244.6 L430.0,244.6 L432.9,244.7 L435.8,244.8 L438.6,244.8 L441.5,244.9 L444.3,245.0 L447.2,245.0 L450.0,245.1 L452.9,245.2 L455.8,245.2 L458.6,245.3 L461.5,245.3 L464.3,245.4 L467.2,245.5 L470.0,245.5 L472.9,245.6 L475.8,245.7 L478.6,245.7 L481.5,245.8 L484.3,245.9 L487.2,245.9 L490.0,246.0 L492.9,246.1 L495.8,246.1 L498.6,246.2 L501.5,246.2 L504.3,246.3 L507.2,246.4 L510.0,246.4 L512.9,246.5 L515.8,246.6 L518.6,246.6 L521.5,246.7 L524.3,246.7 L527.2,246.8 L530.0,246.9 L532.9,246.9 L535.8,247.0 L538.6,247.1 L541.5,247.1 L544.3,247.2 L547.2,247.2 L550.0,247.3 L552.9,247.4 L555.8,247.4 L558.6,247.5 L561.5,247.5 L564.3,247.6 L567.2,247.6 L570.0,247.7 L572.9,247.8 L575.8,247.8 L578.6,247.9 L581.5,247.9 L584.3,248.0 L587.2,248.0 L590.0,248.1 L592.9,248.2 L595.8,248.2 L598.6,248.3 L601.5,248.3 L604.3,248.4 L607.2,248.4 L610.0,248.5 L612.9,248.5 L615.8,248.6 L618.6,248.7 L621.5,248.7 L624.3,248.8 L627.2,248.8 L630.0,248.9 L632.9,248.9 L635.8,249.0 L638.6,249.0 L641.5,249.1 L644.3,249.1 L647.2,249.2 L650.0,249.2 L652.9,249.3 L655.8,249.3 L658.6,249.4 L661.5,249.5 L664.3,249.5 L667.2,249.6 L670.0,249.6 L672.9,249.7 L675.8,249.7 L678.6,249.8 L681.5,249.8 L684.3,249.9 L687.2,249.9 L690.0,250.0 L692.9,250.0 L695.8,250.1 L698.6,250.1 L701.5,250.2 L704.3,250.2 L707.2,250.3 L710.0,250.3 L712.9,250.4 L715.8,250.4 L718.6,250.5 L721.5,250.5 L724.3,250.6 L727.2,250.6 L730.0,250.7 L732.9,250.7 L735.8,250.8 L738.6,250.8 L741.5,250.9 L744.3,250.9 L747.2,251.0 L750.0,251.0 L752.9,251.0 L755.8,251.1 L758.6,251.1 L761.5,251.2 L764.3,251.2 L767.2,251.3 L770.1,251.3 L772.9,251.4 L775.8,251.4 L778.6,251.5 L781.5,251.5 L784.3,251.5 L787.2,251.6 L790.1,251.6 L792.9,251.7 L795.8,251.7 L798.6,251.8 L801.5,251.8 L804.3,251.9 L807.2,251.9 L810.1,252.0 L812.9,252.0 L815.8,252.0 L818.6,252.1 L821.5,252.1 L824.3,252.2 L827.2,252.2 L830.1,252.3 L832.9,252.3 L835.8,252.3 L838.6,252.4 L841.5,252.4 L844.3,252.5 L847.2,252.5 L850.1,252.6 L852.9,252.6 L855.8,252.7 L858.6,252.8 L861.5,252.8 L864.3,252.9 L867.2,253.0 L870.1,253.1 L872.9,253.2 L875.8,253.3 L878.6,253.4 L881.5,253.6 L884.3,253.7 L887.2,253.9 L890.0,254.0 L892.9,254.2 L895.7,254.4 L898.6,254.6 L901.4,254.8 L904.3,255.0 L907.1,255.2 L910.0,255.4 L912.8,255.7 L915.7,255.9 L918.5,256.1 L921.4,256.4 L924.2,256.6 L927.1,256.9 L929.9,257.2 L932.8,257.5 L935.6,257.8 L938.4,258.1 L941.3,258.5 L944.1,258.9 L946.9,259.3 L949.8,259.7 L952.6,260.1 L955.4,260.6 L958.2,261.1 L961.0,261.6 L963.8,262.2 L966.6,262.8 L969.4,263.4 L972.2,264.0 L975.0,264.5 L977.8,265.1 L980.7,265.5 L983.5,265.9 L986.3,266.2 L989.2,266.5 L992.0,266.8 L994.8,267.2 L997.7,267.5 L1000.5,268.0 L1003.3,268.4 L1006.1,269.0 L1008.9,269.5 L1011.7,270.1 L1014.5,270.7 L1017.3,271.4 L1020.1,272.1 L1022.8,272.9 L1025.6,273.7 L1028.3,274.6 L1031.0,275.6 L1033.6,276.6 L1036.3,277.7 L1038.9,278.8 L1041.5,280.0 L1044.1,281.3 L1046.6,282.6 L1049.1,284.0 L1051.6,285.4 L1054.0,286.9 L1056.3,288.6 L1058.6,290.3 L1060.7,292.2 L1062.8,294.2 L1064.0,295.4 L1065.1,296.6 L1066.2,297.9 L1067.3,299.2 L1068.4,300.5 L1069.4,301.9 L1070.4,303.2 L1071.4,304.6 L1072.3,306.0 L1073.2,307.5 L1074.1,308.9 L1074.9,310.4 L1075.7,311.9 L1076.4,313.4 L1077.2,315.0 L1077.9,316.5 L1078.6,318.0 L1079.3,319.6 L1080.0,321.1 L1080.7,322.7 L1081.4,324.2 L1082.0,325.8 L1082.7,327.3 L1083.4,328.9 L1084.0,330.4 L1084.6,332.0 L1085.2,333.6 L1085.8,335.2 L1086.4,336.8 L1086.9,338.4 L1087.4,340.0 L1087.9,341.6 L1088.4,343.3 L1088.9,344.9 L1089.3,346.5 L1089.8,348.2 L1090.2,349.8 L1090.6,351.4 L1091.0,353.1 L1091.4,354.7 L1091.7,356.4 L1092.1,358.1 L1092.4,359.7 L1092.7,361.4 L1093.1,363.0 L1093.4,364.7 L1093.7,366.4 L1094.0,368.0 L1094.3,369.7 L1094.6,371.4 L1094.9,373.0 L1095.1,374.7 L1095.4,376.4 L1095.6,378.1 L1095.9,379.7 L1096.1,381.4 L1096.4,383.1 L1096.6,384.8 L1096.8,386.4 L1097.0,388.1 L1097.2,389.8 L1097.4,391.5 L1097.6,393.2 L1097.8,394.9 L1098.0,396.5 L1098.1,398.2 L1098.3,399.9 L1098.5,401.6 L1098.7,403.3 L1098.9,405.0 L1099.0,406.7 L1099.2,408.3 L1099.4,410.0 L1099.6,411.7 L1099.8,413.4 L1099.9,415.1 L1100.1,416.8 L1100.3,418.4 L1100.5,420.1 L1101.1,424.8 L1101.6,429.5 L1102.2,434.1 L1102.7,438.8 L1103.3,443.5 L1103.9,448.2 L1104.5,452.8 L1105.0,457.5 L1105.6,462.2 L1106.2,466.8 L1106.8,471.5 L1107.3,476.2 L1107.9,480.9 L1108.5,485.5 L1109.0,490.2 L1109.6,494.9 L1110.1,499.5 L1110.7,504.2 L1111.2,508.9 L1111.7,513.6 L1112.2,518.2 L1112.7,522.9 L1113.2,527.6 L1113.7,532.2 L1114.2,536.9 L1114.6,541.6 L1115.1,546.3 L1115.6,550.9 L1116.0,555.6 L1116.5,560.3 L1116.9,564.9 L1117.4,569.6 L1117.8,574.3 L1118.2,579.0 L1118.7,583.6 L1119.1,588.3 L1119.6,593.0 L1120.0,597.7 L1120.4,602.3 L1120.9,607.0 L1121.3,611.7 L1121.8,616.3 L1122.2,621.0 L1122.7,625.7 L1123.2,630.4 L1123.7,635.0 L1124.1,639.7 L1124.6,644.4 L1125.1,649.0 L1125.6,653.7 L1126.1,658.4 L1126.5,663.1 L1127.0,667.7 L1127.4,672.4 L1127.8,677.1 L1128.2,681.7 L1128.6,686.4 L1129.0,691.1 L1129.4,695.8 L1129.8,700.4 L1130.1,705.1 L1130.5,709.8 L1130.8,714.4 L1131.1,719.1 L1131.4,723.8 L1131.7,728.5 L1131.9,733.1 L1132.2,737.8 L1132.4,742.5 L1132.6,747.2 L1132.8,751.8 L1133.0,756.5 L1133.2,761.2 L1133.4,765.8 L1133.6,770.5 L1133.8,775.2 L1133.9,779.9 L1134.1,784.5 L1134.2,789.2 L1134.2,715.0"/>
<path d="M192.7,155.5 L192.7,159.1 L192.8,162.7 L192.9,166.4 L193.0,170.0 L193.1,173.6 L193.3,177.2 L193.5,180.8 L193.8,184.4 L194.0,188.1 L194.3,191.7 L194.6,195.3 L194.8,198.9 L195.0,202.5 L195.3,206.1 L195.5,209.7 L195.8,213.3 L196.1,217.0 L196.6,220.5 L197.1,224.1 L197.8,227.7 L198.5,231.2 L199.4,234.8 L200.8,238.0 L203.4,240.4 L206.9,241.1 L210.6,241.3 L214.2,241.3 L217.8,241.3 L221.4,241.4 L225.0,241.4 L228.7,241.4 L232.3,241.4 L235.9,241.4 L239.5,241.4 L243.1,241.4 L246.8,241.5 L250.4,241.5 L254.0,241.5 L257.6,241.6 L261.3,241.7 L264.9,241.7 L268.5,241.8 L272.1,241.9 L275.7,241.9 L279.4,242.0 L283.0,242.1 L286.6,242.2 L290.2,242.2 L293.8,242.3 L297.5,242.4 L301.1,242.5 L304.7,242.6 L308.3,242.6 L311.9,242.7 L315.6,242.8 L319.2,242.9 L322.8,242.9 L326.4,243.0 L330.1,243.1 L332.9,243.1 L335.7,243.2 L338.6,243.3 L341.4,243.3 L344.3,243.4 L347.1,243.4 L349.9,243.5 L352.8,243.5 L355.6,243.6 L358.5,243.6 L361.3,243.7 L364.2,243.8 L367.0,243.8 L369.8,243.9 L372.7,243.9 L375.5,244.0 L378.4,244.1 L381.2,244.1 L384.1,244.2 L386.9,244.2 L389.7,244.3 L392.6,244.3 L395.4,244.4 L398.3,244.5 L401.1,244.5 L404.0,244.6 L406.8,244.6 L409.6,244.7 L412.5,244.8 L415.3,244.8 L418.2,244.9 L421.0,245.0 L423.9,245.0 L426.7,245.1 L429.5,245.1 L432.4,245.2 L435.2,245.3 L438.1,245.3 L440.9,245.4 L443.8,245.5 L446.6,245.5 L449.4,245.6 L452.3,245.7 L455.1,245.7 L458.0,245.8 L460.8,245.9 L463.6,245.9 L466.5,246.0 L469.3,246.1 L472.2,246.1 L475.0,246.2 L477.9,246.3 L480.7,246.3 L483.5,246.4 L486.4,246.5 L489.2,246.5 L492.1,246.6 L494.9,246.7 L497.8,246.7 L500.6,246.8 L503.4,246.9 L506.3,246.9 L509.1,247.0 L512.0,247.1 L514.8,247.1 L517.7,247.2 L520.5,247.3 L523.3,247.3 L526.2,247.4 L529.0,247.5 L531.9,247.5 L534.7,247.6 L537.6,247.7 L540.4,247.7 L543.2,247.8 L546.1,247.8 L548.9,247.9 L551.8,248.0 L554.6,248.0 L557.4,248.1 L560.3,248.2 L563.1,248.2 L566.0,248.3 L568.8,248.3 L571.7,248.4 L574.5,248.5 L577.3,248.5 L580.2,248.6 L583.0,248.6 L585.9,248.7 L588.7,248.8 L591.6,248.8 L594.4,248.9 L597.2,248.9 L600.1,249.0 L602.9,249.1 L605.8,249.1 L608.6,249.2 L611.5,249.2 L614.3,249.3 L617.1,249.4 L620.0,249.4 L622.8,249.5 L625.7,249.5 L628.5,249.6 L631.4,249.6 L634.2,249.7 L637.0,249.8 L639.9,249.8 L642.7,249.9 L645.6,249.9 L648.4,250.0 L651.3,250.1 L654.1,250.1 L656.9,250.2 L659.8,250.2 L662.6,250.3 L665.5,250.3 L668.3,250.4 L671.1,250.5 L674.0,250.5 L676.8,250.6 L679.7,250.6 L682.5,250.7 L685.4,250.7 L688.2,250.8 L691.0,250.9 L693.9,250.9 L696.7,251.0 L699.6,251.0 L702.4,251.1 L705.3,251.1 L708.1,251.2 L710.9,251.3 L713.8,251.3 L716.6,251.4 L719.5,251.4 L722.3,251.5 L725.2,251.5 L728.0,251.6 L730.8,251.6 L733.7,251.7 L736.5,251.8 L739.4,251.8 L742.2,251.9 L745.1,251.9 L747.9,252.0 L750.7,252.1 L753.6,252.1 L756.4,252.2 L759.3,252.2 L762.1,252.3 L764.9,252.4 L767.8,252.4 L770.6,252.5 L773.5,252.5 L776.3,252.6 L779.2,252.7 L782.0,252.7 L784.8,252.8 L787.7,252.9 L790.5,252.9 L793.4,253.0 L796.2,253.0 L799.0,253.1 L801.9,253.2 L804.7,253.2 L807.6,253.3 L810.4,253.4 L813.3,253.4 L816.1,253.5 L818.9,253.5 L821.8,253.6 L824.6,253.7 L827.5,253.7 L830.3,253.8 L833.1,253.9 L836.0,253.9 L838.8,254.0 L841.7,254.0 L844.5,254.1 L847.4,254.2 L850.2,254.3 L853.0,254.3 L855.9,254.4 L858.7,254.5 L861.6,254.6 L864.4,254.7 L867.2,254.8 L870.1,254.9 L872.9,255.1 L875.8,255.2 L878.6,255.4 L881.4,255.5 L884.3,255.7 L887.1,255.9 L889.9,256.1 L892.8,256.2 L895.6,256.5 L898.4,256.7 L901.3,256.9 L904.1,257.1 L907.0,257.3 L909.8,257.6 L912.6,257.8 L915.4,258.1 L918.3,258.3 L921.1,258.6 L923.9,258.9 L926.8,259.2 L929.6,259.5 L932.4,259.8 L935.2,260.1 L938.1,260.5 L940.9,260.9 L943.7,261.3 L946.5,261.7 L949.3,262.2 L952.1,262.6 L954.9,263.1 L957.7,263.6 L960.5,264.2 L963.3,264.8 L966.0,265.4 L968.8,266.0 L971.6,266.6 L974.4,267.1 L977.2,267.6 L980.0,268.0 L982.8,268.3 L985.7,268.7 L988.5,269.0 L991.3,269.4 L994.1,269.8 L996.9,270.2 L999.7,270.7 L1002.5,271.2 L1005.3,271.8 L1008.1,272.4 L1010.8,273.1 L1013.6,273.8 L1016.3,274.5 L1019.1,275.3 L1021.8,276.1 L1024.5,277.0 L1027.1,278.0 L1029.8,279.1 L1032.4,280.2 L1035.0,281.3 L1037.6,282.5 L1040.1,283.8 L1042.7,285.1 L1045.1,286.4 L1047.6,287.9 L1050.0,289.4 L1052.3,291.1 L1054.5,292.8 L1056.7,294.7 L1058.8,296.6 L1059.9,297.8 L1061.0,299.1 L1062.1,300.3 L1063.2,301.6 L1064.3,302.9 L1065.3,304.2 L1066.3,305.5 L1067.2,306.9 L1068.2,308.3 L1069.0,309.7 L1069.9,311.1 L1070.7,312.5 L1071.5,314.0 L1072.2,315.5 L1072.9,317.0 L1073.6,318.5 L1074.3,320.0 L1075.0,321.5 L1075.7,323.0 L1076.4,324.6 L1077.1,326.1 L1077.8,327.6 L1078.4,329.1 L1079.1,330.6 L1079.7,332.2 L1080.4,333.7 L1081.0,335.3 L1081.5,336.8 L1082.1,338.4 L1082.6,340.0 L1083.1,341.6 L1083.6,343.2 L1084.1,344.7 L1084.6,346.3 L1085.0,347.9 L1085.5,349.5 L1085.9,351.1 L1086.3,352.8 L1086.7,354.4 L1087.1,356.0 L1087.4,357.6 L1087.8,359.2 L1088.1,360.9 L1088.5,362.5 L1088.8,364.1 L1089.1,365.8 L1089.4,367.4 L1089.7,369.0 L1090.0,370.7 L1090.3,372.3 L1090.6,373.9 L1090.9,375.6 L1091.1,377.2 L1091.4,378.9 L1091.7,380.5 L1091.9,382.1 L1092.2,383.8 L1092.4,385.4 L1092.6,387.1 L1092.8,388.7 L1093.0,390.4 L1093.2,392.0 L1093.4,393.7 L1093.6,395.3 L1093.8,397.0 L1094.0,398.6 L1094.2,400.3 L1094.4,401.9 L1094.5,403.6 L1094.7,405.3 L1094.9,406.9 L1095.1,408.6 L1095.3,410.2 L1095.5,411.9 L1095.6,413.5 L1095.8,415.2 L1096.0,416.8 L1096.2,418.5 L1096.4,420.1 L1096.9,424.8 L1097.4,429.5 L1097.9,434.1 L1098.4,438.8 L1098.9,443.5 L1099.4,448.2 L1100.0,452.8 L1100.5,457.5 L1101.0,462.2 L1101.5,466.8 L1102.0,471.5 L1102.5,476.2 L1103.0,480.9 L1103.5,485.5 L1104.0,490.2 L1104.5,494.9 L1104.9,499.5 L1105.4,504.2 L1105.9,508.9 L1106.3,513.6 L1106.8,518.2 L1107.2,522.9 L1107.6,527.6 L1108.1,532.2 L1108.5,536.9 L1108.9,541.6 L1109.3,546.3 L1109.7,550.9 L1110.1,555.6 L1110.4,560.3 L1110.8,565.0 L1111.2,569.6 L1111.6,574.3 L1112.0,579.0 L1112.3,583.6 L1112.7,588.3 L1113.1,593.0 L1113.5,597.7 L1113.9,602.3 L1114.2,607.0 L1114.6,611.7 L1115.0,616.3 L1115.4,621.0 L1115.8,625.7 L1116.2,630.4 L1116.7,635.0 L1117.1,639.7 L1117.5,644.4 L1118.0,649.0 L1118.4,653.7 L1118.8,658.4 L1119.2,663.1 L1119.6,667.7 L1120.0,672.4 L1120.3,677.1 L1120.7,681.7 L1121.0,686.4 L1121.3,691.1 L1121.6,695.8 L1121.9,700.4 L1122.2,705.1 L1122.5,709.8 L1122.7,714.5 L1123.0,719.1 L1123.2,723.8 L1123.4,728.5 L1123.6,733.1 L1123.8,737.8 L1124.0,742.5 L1124.1,747.2 L1124.3,751.8 L1124.4,756.5 L1124.6,761.2 L1124.7,765.8 L1124.8,770.5 L1124.9,775.2 L1125.0,779.9 L1125.1,784.5 L1125.2,789.2 L1125.2,714.0"/>
<path d="M192.7,155.5 L192.7,159.1 L192.8,162.8 L192.9,166.4 L193.0,170.1 L193.1,173.7 L193.3,177.3 L193.5,181.0 L193.7,184.6 L194.0,188.2 L194.3,191.9 L194.5,195.5 L194.8,199.1 L195.0,202.8 L195.2,206.4 L195.4,210.0 L195.7,213.6 L196.0,217.3 L196.5,220.9 L197.0,224.5 L197.6,228.1 L198.2,231.6 L199.1,235.2 L200.5,238.5 L202.9,241.1 L206.3,242.0 L210.0,242.2 L213.6,242.3 L217.2,242.3 L220.9,242.3 L224.5,242.3 L228.2,242.3 L231.8,242.3 L235.4,242.3 L239.1,242.3 L242.7,242.4 L246.4,242.4 L250.0,242.4 L253.6,242.5 L257.3,242.5 L260.9,242.6 L264.6,242.7 L268.2,242.7 L271.8,242.8 L275.5,242.9 L279.1,242.9 L282.8,243.0 L286.4,243.1 L290.0,243.2 L293.7,243.2 L297.3,243.3 L301.0,243.4 L304.6,243.5 L308.2,243.6 L311.9,243.6 L315.5,243.7 L319.1,243.8 L322.8,243.9 L326.4,243.9 L330.1,244.0 L332.9,244.1 L335.7,244.1 L338.5,244.2 L341.3,244.2 L344.1,244.3 L347.0,244.3 L349.8,244.4 L352.6,244.5 L355.4,244.5 L358.2,244.6 L361.0,244.6 L363.8,244.7 L366.7,244.7 L369.5,244.8 L372.3,244.9 L375.1,244.9 L377.9,245.0 L380.7,245.0 L383.6,245.1 L386.4,245.2 L389.2,245.2 L392.0,245.3 L394.8,245.3 L397.6,245.4 L400.4,245.5 L403.3,245.5 L406.1,245.6 L408.9,245.6 L411.7,245.7 L414.5,245.8 L417.3,245.8 L420.1,245.9 L423.0,246.0 L425.8,246.0 L428.6,246.1 L431.4,246.2 L434.2,246.2 L437.0,246.3 L439.9,246.4 L442.7,246.4 L445.5,246.5 L448.3,246.6 L451.1,246.6 L453.9,246.7 L456.7,246.8 L459.6,246.9 L462.4,246.9 L465.2,247.0 L468.0,247.1 L470.8,247.1 L473.6,247.2 L476.4,247.3 L479.3,247.4 L482.1,247.4 L484.9,247.5 L487.7,247.6 L490.5,247.6 L493.3,247.7 L496.1,247.8 L499.0,247.9 L501.8,247.9 L504.6,248.0 L507.4,248.1 L510.2,248.1 L513.0,248.2 L515.8,248.3 L518.7,248.4 L521.5,248.4 L524.3,248.5 L527.1,248.6 L529.9,248.6 L532.7,248.7 L535.6,248.8 L538.4,248.8 L541.2,248.9 L544.0,249.0 L546.8,249.1 L549.6,249.1 L552.4,249.2 L555.3,249.3 L558.1,249.3 L560.9,249.4 L563.7,249.5 L566.5,249.5 L569.3,249.6 L572.1,249.7 L575.0,249.7 L577.8,249.8 L580.6,249.9 L583.4,249.9 L586.2,250.0 L589.0,250.1 L591.8,250.1 L594.7,250.2 L597.5,250.3 L600.3,250.3 L603.1,250.4 L605.9,250.5 L608.7,250.5 L611.5,250.6 L614.4,250.7 L617.2,250.7 L620.0,250.8 L622.8,250.9 L625.6,251.0 L628.4,251.0 L631.2,251.1 L634.1,251.2 L636.9,251.2 L639.7,251.3 L642.5,251.4 L645.3,251.4 L648.1,251.5 L651.0,251.6 L653.8,251.6 L656.6,251.7 L659.4,251.8 L662.2,251.8 L665.0,251.9 L667.8,252.0 L670.7,252.0 L673.5,252.1 L676.3,252.2 L679.1,252.2 L681.9,252.3 L684.7,252.4 L687.5,252.4 L690.4,252.5 L693.2,252.6 L696.0,252.6 L698.8,252.7 L701.6,252.8 L704.4,252.8 L707.2,252.9 L710.1,253.0 L712.9,253.1 L715.7,253.1 L718.5,253.2 L721.3,253.3 L724.1,253.3 L726.9,253.4 L729.8,253.5 L732.6,253.6 L735.4,253.6 L738.2,253.7 L741.0,253.8 L743.8,253.9 L746.6,254.0 L749.5,254.0 L752.3,254.1 L755.1,254.2 L757.9,254.3 L760.7,254.4 L763.5,254.5 L766.3,254.6 L769.1,254.7 L771.9,254.8 L774.8,254.9 L777.6,255.0 L780.4,255.1 L783.2,255.2 L786.0,255.2 L788.8,255.3 L791.6,255.4 L794.4,255.5 L797.3,255.6 L800.1,255.7 L802.9,255.8 L805.7,255.9 L808.5,256.0 L811.3,256.1 L814.1,256.2 L816.9,256.3 L819.7,256.4 L822.6,256.5 L825.4,256.6 L828.2,256.7 L831.0,256.8 L833.8,256.9 L836.6,257.0 L839.4,257.1 L842.2,257.2 L845.0,257.3 L847.9,257.4 L850.7,257.6 L853.5,257.7 L856.3,257.8 L859.1,257.9 L861.9,258.1 L864.7,258.2 L867.5,258.4 L870.3,258.6 L873.1,258.7 L876.0,258.9 L878.8,259.1 L881.6,259.3 L884.4,259.5 L887.2,259.7 L890.0,260.0 L892.8,260.2 L895.6,260.4 L898.4,260.7 L901.2,260.9 L904.0,261.2 L906.8,261.4 L909.6,261.7 L912.4,262.0 L915.2,262.3 L918.0,262.6 L920.8,262.9 L923.6,263.2 L926.4,263.5 L929.2,263.9 L932.0,264.3 L934.8,264.7 L937.5,265.1 L940.3,265.5 L943.1,266.0 L945.9,266.5 L948.7,267.0 L951.4,267.5 L954.2,268.1 L956.9,268.7 L959.7,269.3 L962.4,269.9 L965.2,270.5 L967.9,271.0 L970.7,271.5 L973.5,271.9 L976.3,272.3 L979.1,272.7 L981.8,273.1 L984.6,273.5 L987.4,273.9 L990.2,274.4 L992.9,275.0 L995.7,275.6 L998.4,276.2 L1001.1,276.8 L1003.9,277.5 L1006.6,278.3 L1009.3,279.0 L1012.0,279.9 L1014.7,280.7 L1017.3,281.7 L1019.9,282.7 L1022.5,283.7 L1025.1,284.8 L1027.7,286.0 L1030.2,287.2 L1032.8,288.4 L1035.2,289.8 L1037.7,291.1 L1040.1,292.6 L1042.5,294.1 L1044.8,295.8 L1047.0,297.5 L1049.1,299.3 L1051.1,301.3 L1052.3,302.4 L1053.4,303.6 L1054.4,304.8 L1055.5,306.0 L1056.5,307.3 L1057.5,308.5 L1058.4,309.8 L1059.4,311.1 L1060.3,312.5 L1061.1,313.8 L1062.0,315.2 L1062.7,316.6 L1063.5,318.0 L1064.2,319.4 L1065.0,320.9 L1065.7,322.3 L1066.3,323.8 L1067.0,325.2 L1067.7,326.7 L1068.4,328.1 L1069.1,329.6 L1069.7,331.0 L1070.4,332.5 L1071.0,334.0 L1071.6,335.5 L1072.2,336.9 L1072.8,338.4 L1073.4,339.9 L1073.9,341.4 L1074.5,343.0 L1075.0,344.5 L1075.5,346.0 L1076.0,347.5 L1076.4,349.1 L1076.9,350.6 L1077.3,352.2 L1077.8,353.7 L1078.2,355.2 L1078.6,356.8 L1079.0,358.4 L1079.3,359.9 L1079.7,361.5 L1080.1,363.0 L1080.4,364.6 L1080.7,366.2 L1081.1,367.8 L1081.4,369.3 L1081.7,370.9 L1082.0,372.5 L1082.3,374.0 L1082.6,375.6 L1082.9,377.2 L1083.2,378.8 L1083.4,380.4 L1083.7,381.9 L1083.9,383.5 L1084.2,385.1 L1084.4,386.7 L1084.7,388.3 L1084.9,389.9 L1085.1,391.5 L1085.3,393.1 L1085.5,394.6 L1085.7,396.2 L1085.9,397.8 L1086.1,399.4 L1086.3,401.0 L1086.5,402.6 L1086.7,404.2 L1086.9,405.8 L1087.1,407.4 L1087.3,409.0 L1087.5,410.6 L1087.7,412.2 L1087.9,413.8 L1088.1,415.4 L1088.3,416.9 L1088.5,418.5 L1088.7,420.1 L1089.2,424.8 L1089.8,429.5 L1090.3,434.2 L1090.9,438.8 L1091.4,443.5 L1092.0,448.2 L1092.5,452.8 L1093.1,457.5 L1093.6,462.2 L1094.1,466.9 L1094.7,471.5 L1095.2,476.2 L1095.7,480.9 L1096.2,485.5 L1096.8,490.2 L1097.3,494.9 L1097.8,499.6 L1098.3,504.2 L1098.8,508.9 L1099.3,513.6 L1099.7,518.2 L1100.2,522.9 L1100.7,527.6 L1101.1,532.3 L1101.6,536.9 L1102.0,541.6 L1102.5,546.3 L1102.9,550.9 L1103.3,555.6 L1103.8,560.3 L1104.2,565.0 L1104.6,569.6 L1105.0,574.3 L1105.5,579.0 L1105.9,583.6 L1106.3,588.3 L1106.7,593.0 L1107.1,597.7 L1107.6,602.3 L1108.0,607.0 L1108.4,611.7 L1108.8,616.3 L1109.3,621.0 L1109.7,625.7 L1110.2,630.4 L1110.7,635.0 L1111.2,639.7 L1111.6,644.4 L1112.1,649.0 L1112.6,653.7 L1113.1,658.4 L1113.5,663.1 L1114.0,667.7 L1114.4,672.4 L1114.8,677.1 L1115.1,681.8 L1115.5,686.4 L1115.8,691.1 L1116.2,695.8 L1116.5,700.4 L1116.8,705.1 L1117.1,709.8 L1117.4,714.5 L1117.7,719.1 L1118.0,723.8 L1118.2,728.5 L1118.4,733.1 L1118.7,737.8 L1118.9,742.5 L1119.1,747.2 L1119.3,751.8 L1119.5,756.5 L1119.7,761.2 L1119.8,765.8 L1120.0,770.5 L1120.2,775.2 L1120.3,779.9 L1120.5,784.5 L1120.6,789.2 L1120.6,713.0"/>
<path d="M192.7,155.5 L192.7,159.2 L192.8,162.8 L192.9,166.5 L193.0,170.1 L193.1,173.8 L193.2,177.4 L193.4,181.1 L193.7,184.7 L194.0,188.4 L194.2,192.0 L194.5,195.7 L194.7,199.3 L194.9,203.0 L195.1,206.6 L195.3,210.3 L195.6,213.9 L195.9,217.6 L196.3,221.2 L196.8,224.8 L197.4,228.4 L198.0,232.0 L198.8,235.6 L200.1,239.0 L202.5,241.6 L205.8,242.8 L209.4,243.1 L213.1,243.2 L216.7,243.2 L220.4,243.2 L224.0,243.2 L227.7,243.2 L231.3,243.2 L235.0,243.2 L238.7,243.2 L242.3,243.3 L246.0,243.3 L249.6,243.3 L253.3,243.4 L256.9,243.4 L260.6,243.5 L264.3,243.5 L267.9,243.6 L271.6,243.7 L275.2,243.8 L278.9,243.8 L282.5,243.9 L286.2,244.0 L289.9,244.0 L293.5,244.1 L297.2,244.2 L300.8,244.3 L304.5,244.4 L308.1,244.4 L311.8,244.5 L315.5,244.6 L319.1,244.7 L322.8,244.7 L326.4,244.8 L330.1,244.9 L332.9,244.9 L335.7,245.0 L338.4,245.1 L341.2,245.1 L344.0,245.2 L346.8,245.2 L349.6,245.3 L352.4,245.3 L355.2,245.4 L358.0,245.4 L360.8,245.5 L363.6,245.6 L366.3,245.6 L369.1,245.7 L371.9,245.7 L374.7,245.8 L377.5,245.8 L380.3,245.9 L383.1,246.0 L385.9,246.0 L388.7,246.1 L391.4,246.1 L394.2,246.2 L397.0,246.3 L399.8,246.3 L402.6,246.4 L405.4,246.5 L408.2,246.5 L411.0,246.6 L413.8,246.7 L416.5,246.7 L419.3,246.8 L422.1,246.9 L424.9,246.9 L427.7,247.0 L430.5,247.1 L433.3,247.1 L436.1,247.2 L438.9,247.3 L441.6,247.3 L444.4,247.4 L447.2,247.5 L450.0,247.6 L452.8,247.6 L455.6,247.7 L458.4,247.8 L461.2,247.9 L464.0,247.9 L466.7,248.0 L469.5,248.1 L472.3,248.2 L475.1,248.2 L477.9,248.3 L480.7,248.4 L483.5,248.5 L486.3,248.5 L489.0,248.6 L491.8,248.7 L494.6,248.8 L497.4,248.8 L500.2,248.9 L503.0,249.0 L505.8,249.1 L508.6,249.1 L511.4,249.2 L514.1,249.3 L516.9,249.4 L519.7,249.5 L522.5,249.5 L525.3,249.6 L528.1,249.7 L530.9,249.8 L533.7,249.8 L536.5,249.9 L539.2,250.0 L542.0,250.1 L544.8,250.1 L547.6,250.2 L550.4,250.3 L553.2,250.4 L556.0,250.4 L558.8,250.5 L561.6,250.6 L564.3,250.7 L567.1,250.7 L569.9,250.8 L572.7,250.9 L575.5,251.0 L578.3,251.0 L581.1,251.1 L583.9,251.2 L586.6,251.3 L589.4,251.3 L592.2,251.4 L595.0,251.5 L597.8,251.6 L600.6,251.6 L603.4,251.7 L606.2,251.8 L609.0,251.9 L611.7,251.9 L614.5,252.0 L617.3,252.1 L620.1,252.2 L622.9,252.2 L625.7,252.3 L628.5,252.4 L631.3,252.5 L634.1,252.5 L636.8,252.6 L639.6,252.7 L642.4,252.8 L645.2,252.8 L648.0,252.9 L650.8,253.0 L653.6,253.1 L656.4,253.1 L659.1,253.2 L661.9,253.3 L664.7,253.4 L667.5,253.5 L670.3,253.5 L673.1,253.6 L675.9,253.7 L678.7,253.8 L681.5,253.8 L684.2,253.9 L687.0,254.0 L689.8,254.1 L692.6,254.2 L695.4,254.2 L698.2,254.3 L701.0,254.4 L703.8,254.5 L706.5,254.6 L709.3,254.6 L712.1,254.7 L714.9,254.8 L717.7,254.9 L720.5,255.0 L723.3,255.1 L726.1,255.2 L728.8,255.3 L731.6,255.3 L734.4,255.4 L737.2,255.6 L740.0,255.7 L742.8,255.8 L745.6,255.9 L748.4,256.0 L751.1,256.1 L753.9,256.2 L756.7,256.3 L759.5,256.4 L762.3,256.6 L765.1,256.7 L767.8,256.8 L770.6,256.9 L773.4,257.1 L776.2,257.2 L779.0,257.3 L781.8,257.4 L784.5,257.6 L787.3,257.7 L790.1,257.8 L792.9,258.0 L795.7,258.1 L798.5,258.2 L801.2,258.4 L804.0,258.5 L806.8,258.6 L809.6,258.7 L812.4,258.9 L815.2,259.0 L817.9,259.1 L820.7,259.3 L823.5,259.4 L826.3,259.5 L829.1,259.7 L831.9,259.8 L834.6,259.9 L837.4,260.1 L840.2,260.2 L843.0,260.4 L845.8,260.5 L848.5,260.7 L851.3,260.8 L854.1,261.0 L856.9,261.1 L859.7,261.3 L862.5,261.5 L865.2,261.7 L868.0,261.9 L870.8,262.1 L873.6,262.3 L876.4,262.5 L879.1,262.8 L881.9,263.0 L884.7,263.3 L887.5,263.5 L890.2,263.8 L893.0,264.0 L895.8,264.3 L898.6,264.6 L901.3,264.9 L904.1,265.1 L906.9,265.4 L909.7,265.7 L912.4,266.0 L915.2,266.4 L918.0,266.7 L920.7,267.1 L923.5,267.5 L926.3,267.8 L929.0,268.3 L931.8,268.7 L934.5,269.1 L937.3,269.6 L940.0,270.1 L942.8,270.6 L945.5,271.2 L948.2,271.7 L950.9,272.3 L953.7,272.9 L956.4,273.5 L959.1,274.1 L961.9,274.7 L964.6,275.2 L967.3,275.6 L970.1,276.1 L972.8,276.5 L975.6,276.9 L978.3,277.4 L981.1,277.9 L983.8,278.4 L986.5,279.0 L989.2,279.6 L991.9,280.3 L994.6,281.0 L997.3,281.7 L1000.0,282.5 L1002.7,283.3 L1005.3,284.1 L1007.9,285.0 L1010.6,286.0 L1013.1,287.0 L1015.7,288.1 L1018.3,289.2 L1020.8,290.4 L1023.3,291.6 L1025.8,292.9 L1028.2,294.2 L1030.7,295.6 L1033.1,297.0 L1035.4,298.5 L1037.7,300.2 L1039.9,301.9 L1042.0,303.7 L1044.0,305.6 L1045.1,306.8 L1046.1,307.9 L1047.1,309.1 L1048.2,310.2 L1049.1,311.4 L1050.1,312.7 L1051.0,313.9 L1051.9,315.1 L1052.8,316.4 L1053.7,317.7 L1054.5,319.0 L1055.3,320.4 L1056.0,321.7 L1056.7,323.1 L1057.5,324.5 L1058.1,325.9 L1058.8,327.3 L1059.5,328.7 L1060.2,330.1 L1060.8,331.5 L1061.5,332.9 L1062.1,334.3 L1062.8,335.7 L1063.4,337.1 L1064.0,338.5 L1064.6,340.0 L1065.2,341.4 L1065.8,342.9 L1066.3,344.3 L1066.8,345.8 L1067.3,347.2 L1067.8,348.7 L1068.3,350.2 L1068.8,351.6 L1069.2,353.1 L1069.7,354.6 L1070.1,356.1 L1070.5,357.6 L1070.9,359.1 L1071.3,360.6 L1071.7,362.1 L1072.1,363.6 L1072.4,365.1 L1072.8,366.6 L1073.1,368.1 L1073.5,369.6 L1073.8,371.1 L1074.1,372.7 L1074.4,374.2 L1074.7,375.7 L1075.0,377.2 L1075.3,378.7 L1075.6,380.3 L1075.9,381.8 L1076.2,383.3 L1076.4,384.8 L1076.7,386.4 L1077.0,387.9 L1077.2,389.4 L1077.4,391.0 L1077.7,392.5 L1077.9,394.0 L1078.1,395.6 L1078.3,397.1 L1078.5,398.6 L1078.8,400.2 L1079.0,401.7 L1079.2,403.2 L1079.4,404.8 L1079.6,406.3 L1079.8,407.8 L1080.0,409.4 L1080.2,410.9 L1080.4,412.5 L1080.6,414.0 L1080.8,415.5 L1081.0,417.1 L1081.2,418.6 L1081.4,420.1 L1082.0,424.8 L1082.6,429.5 L1083.2,434.2 L1083.7,438.8 L1084.3,443.5 L1084.9,448.2 L1085.4,452.8 L1086.0,457.5 L1086.5,462.2 L1087.1,466.9 L1087.6,471.5 L1088.2,476.2 L1088.7,480.9 L1089.2,485.5 L1089.7,490.2 L1090.3,494.9 L1090.8,499.6 L1091.3,504.2 L1091.8,508.9 L1092.3,513.6 L1092.8,518.2 L1093.3,522.9 L1093.8,527.6 L1094.3,532.3 L1094.7,536.9 L1095.2,541.6 L1095.7,546.3 L1096.1,550.9 L1096.6,555.6 L1097.0,560.3 L1097.5,565.0 L1097.9,569.6 L1098.3,574.3 L1098.8,579.0 L1099.2,583.7 L1099.7,588.3 L1100.1,593.0 L1100.5,597.7 L1101.0,602.3 L1101.4,607.0 L1101.9,611.7 L1102.4,616.4 L1102.8,621.0 L1103.3,625.7 L1103.8,630.4 L1104.3,635.0 L1104.8,639.7 L1105.3,644.4 L1105.8,649.1 L1106.3,653.7 L1106.8,658.4 L1107.3,663.1 L1107.8,667.7 L1108.2,672.4 L1108.7,677.1 L1109.0,681.8 L1109.4,686.4 L1109.8,691.1 L1110.1,695.8 L1110.5,700.4 L1110.8,705.1 L1111.1,709.8 L1111.4,714.5 L1111.7,719.1 L1112.0,723.8 L1112.2,728.5 L1112.5,733.1 L1112.7,737.8 L1113.0,742.5 L1113.2,747.2 L1113.4,751.8 L1113.7,756.5 L1113.9,761.2 L1114.1,765.8 L1114.3,770.5 L1114.5,775.2 L1114.7,779.9 L1114.8,784.5 L1115.0,789.2 L1115.0,712.0"/>
<path d="M192.7,155.5 L192.7,159.2 L192.8,162.8 L192.9,166.5 L193.0,170.2 L193.1,173.9 L193.2,177.5 L193.4,181.2 L193.7,184.9 L193.9,188.5 L194.2,192.2 L194.4,195.9 L194.7,199.5 L194.9,203.2 L195.1,206.9 L195.3,210.5 L195.5,214.2 L195.8,217.9 L196.2,221.5 L196.6,225.2 L197.2,228.8 L197.8,232.4 L198.5,236.0 L199.8,239.4 L202.0,242.2 L205.2,243.6 L208.8,244.0 L212.5,244.1 L216.2,244.1 L219.9,244.1 L223.5,244.1 L227.2,244.1 L230.9,244.1 L234.6,244.1 L238.2,244.1 L241.9,244.1 L245.6,244.2 L249.3,244.2 L252.9,244.3 L256.6,244.3 L260.3,244.4 L264.0,244.4 L267.6,244.5 L271.3,244.6 L275.0,244.6 L278.7,244.7 L282.3,244.8 L286.0,244.8 L289.7,244.9 L293.4,245.0 L297.0,245.1 L300.7,245.2 L304.4,245.2 L308.1,245.3 L311.7,245.4 L315.4,245.5 L319.1,245.5 L322.7,245.6 L326.4,245.7 L330.1,245.8 L332.9,245.8 L335.6,245.9 L338.4,245.9 L341.1,246.0 L343.9,246.0 L346.7,246.1 L349.4,246.1 L352.2,246.2 L355.0,246.3 L357.7,246.3 L360.5,246.4 L363.3,246.4 L366.0,246.5 L368.8,246.5 L371.5,246.6 L374.3,246.7 L377.1,246.7 L379.8,246.8 L382.6,246.8 L385.4,246.9 L388.1,247.0 L390.9,247.0 L393.6,247.1 L396.4,247.1 L399.2,247.2 L401.9,247.3 L404.7,247.3 L407.5,247.4 L410.2,247.5 L413.0,247.5 L415.8,247.6 L418.5,247.7 L421.3,247.7 L424.0,247.8 L426.8,247.9 L429.6,248.0 L432.3,248.0 L435.1,248.1 L437.9,248.2 L440.6,248.3 L443.4,248.3 L446.1,248.4 L448.9,248.5 L451.7,248.6 L454.4,248.6 L457.2,248.7 L460.0,248.8 L462.7,248.9 L465.5,249.0 L468.2,249.0 L471.0,249.1 L473.8,249.2 L476.5,249.3 L479.3,249.3 L482.1,249.4 L484.8,249.5 L487.6,249.6 L490.3,249.7 L493.1,249.8 L495.9,249.8 L498.6,249.9 L501.4,250.0 L504.2,250.1 L506.9,250.2 L509.7,250.2 L512.4,250.3 L515.2,250.4 L518.0,250.5 L520.7,250.6 L523.5,250.6 L526.3,250.7 L529.0,250.8 L531.8,250.9 L534.5,251.0 L537.3,251.1 L540.1,251.1 L542.8,251.2 L545.6,251.3 L548.4,251.4 L551.1,251.5 L553.9,251.5 L556.6,251.6 L559.4,251.7 L562.2,251.8 L564.9,251.9 L567.7,251.9 L570.5,252.0 L573.2,252.1 L576.0,252.2 L578.7,252.3 L581.5,252.4 L584.3,252.4 L587.0,252.5 L589.8,252.6 L592.6,252.7 L595.3,252.8 L598.1,252.8 L600.8,252.9 L603.6,253.0 L606.4,253.1 L609.1,253.2 L611.9,253.3 L614.7,253.3 L617.4,253.4 L620.2,253.5 L622.9,253.6 L625.7,253.7 L628.5,253.8 L631.2,253.8 L634.0,253.9 L636.8,254.0 L639.5,254.1 L642.3,254.2 L645.0,254.3 L647.8,254.4 L650.6,254.4 L653.3,254.5 L656.1,254.6 L658.8,254.7 L661.6,254.8 L664.4,254.9 L667.1,255.0 L669.9,255.0 L672.7,255.1 L675.4,255.2 L678.2,255.3 L680.9,255.4 L683.7,255.5 L686.5,255.6 L689.2,255.7 L692.0,255.8 L694.8,255.8 L697.5,255.9 L700.3,256.0 L703.0,256.1 L705.8,256.2 L708.6,256.3 L711.3,256.4 L714.1,256.5 L716.8,256.6 L719.6,256.7 L722.4,256.8 L725.1,256.9 L727.9,257.1 L730.6,257.2 L733.4,257.3 L736.2,257.4 L738.9,257.6 L741.7,257.7 L744.4,257.8 L747.2,258.0 L750.0,258.1 L752.7,258.2 L755.5,258.4 L758.2,258.5 L761.0,258.7 L763.7,258.8 L766.5,259.0 L769.2,259.2 L772.0,259.3 L774.8,259.5 L777.5,259.6 L780.3,259.8 L783.0,260.0 L785.8,260.1 L788.5,260.3 L791.3,260.4 L794.0,260.6 L796.8,260.8 L799.6,260.9 L802.3,261.1 L805.1,261.3 L807.8,261.4 L810.6,261.6 L813.3,261.8 L816.1,261.9 L818.8,262.1 L821.6,262.2 L824.3,262.4 L827.1,262.6 L829.8,262.8 L832.6,262.9 L835.4,263.1 L838.1,263.3 L840.9,263.5 L843.6,263.6 L846.4,263.8 L849.1,264.0 L851.9,264.2 L854.6,264.4 L857.4,264.6 L860.1,264.8 L862.9,265.1 L865.6,265.3 L868.4,265.5 L871.1,265.8 L873.9,266.0 L876.6,266.3 L879.4,266.6 L882.1,266.8 L884.9,267.1 L887.6,267.4 L890.4,267.7 L893.1,268.0 L895.9,268.3 L898.6,268.6 L901.4,268.9 L904.1,269.2 L906.9,269.5 L909.6,269.9 L912.3,270.2 L915.1,270.6 L917.8,271.0 L920.5,271.4 L923.3,271.8 L926.0,272.3 L928.7,272.8 L931.4,273.2 L934.2,273.7 L936.9,274.2 L939.6,274.8 L942.3,275.4 L945.0,276.0 L947.7,276.6 L950.4,277.2 L953.1,277.8 L955.8,278.3 L958.5,278.8 L961.2,279.3 L963.9,279.8 L966.6,280.3 L969.3,280.8 L972.0,281.3 L974.7,281.8 L977.4,282.4 L980.1,283.1 L982.8,283.7 L985.5,284.4 L988.1,285.1 L990.8,285.9 L993.4,286.7 L996.0,287.5 L998.6,288.4 L1001.2,289.3 L1003.8,290.3 L1006.4,291.4 L1008.9,292.5 L1011.4,293.6 L1013.9,294.8 L1016.4,296.0 L1018.8,297.3 L1021.3,298.6 L1023.7,300.0 L1026.0,301.4 L1028.3,303.0 L1030.6,304.6 L1032.7,306.3 L1034.8,308.1 L1036.8,310.0 L1037.9,311.1 L1038.9,312.2 L1039.9,313.3 L1040.8,314.4 L1041.8,315.6 L1042.7,316.8 L1043.6,318.0 L1044.5,319.2 L1045.4,320.4 L1046.2,321.6 L1047.0,322.9 L1047.8,324.2 L1048.5,325.5 L1049.2,326.8 L1049.9,328.1 L1050.6,329.4 L1051.3,330.8 L1052.0,332.1 L1052.6,333.5 L1053.3,334.8 L1053.9,336.2 L1054.5,337.5 L1055.2,338.9 L1055.8,340.2 L1056.4,341.6 L1057.0,343.0 L1057.5,344.4 L1058.1,345.8 L1058.6,347.2 L1059.2,348.6 L1059.7,350.0 L1060.2,351.4 L1060.7,352.8 L1061.1,354.2 L1061.6,355.6 L1062.0,357.1 L1062.5,358.5 L1062.9,359.9 L1063.3,361.4 L1063.7,362.8 L1064.1,364.2 L1064.5,365.7 L1064.8,367.1 L1065.2,368.6 L1065.5,370.0 L1065.9,371.5 L1066.2,373.0 L1066.6,374.4 L1066.9,375.9 L1067.2,377.3 L1067.5,378.8 L1067.8,380.3 L1068.1,381.7 L1068.4,383.2 L1068.7,384.7 L1068.9,386.1 L1069.2,387.6 L1069.5,389.1 L1069.7,390.6 L1070.0,392.0 L1070.2,393.5 L1070.5,395.0 L1070.7,396.5 L1070.9,397.9 L1071.1,399.4 L1071.4,400.9 L1071.6,402.4 L1071.8,403.9 L1072.0,405.3 L1072.2,406.8 L1072.4,408.3 L1072.6,409.8 L1072.8,411.3 L1073.1,412.7 L1073.3,414.2 L1073.5,415.7 L1073.7,417.2 L1073.9,418.7 L1074.1,420.2 L1074.7,424.8 L1075.4,429.5 L1076.0,434.2 L1076.6,438.8 L1077.2,443.5 L1077.8,448.2 L1078.3,452.9 L1078.9,457.5 L1079.5,462.2 L1080.0,466.9 L1080.6,471.5 L1081.1,476.2 L1081.6,480.9 L1082.2,485.6 L1082.7,490.2 L1083.2,494.9 L1083.8,499.6 L1084.3,504.2 L1084.8,508.9 L1085.3,513.6 L1085.8,518.3 L1086.3,522.9 L1086.9,527.6 L1087.3,532.3 L1087.8,536.9 L1088.3,541.6 L1088.8,546.3 L1089.3,551.0 L1089.7,555.6 L1090.2,560.3 L1090.7,565.0 L1091.1,569.6 L1091.6,574.3 L1092.1,579.0 L1092.5,583.7 L1093.0,588.3 L1093.4,593.0 L1093.9,597.7 L1094.4,602.3 L1094.8,607.0 L1095.3,611.7 L1095.8,616.4 L1096.3,621.0 L1096.8,625.7 L1097.3,630.4 L1097.9,635.0 L1098.4,639.7 L1098.9,644.4 L1099.5,649.1 L1100.0,653.7 L1100.6,658.4 L1101.1,663.1 L1101.6,667.7 L1102.0,672.4 L1102.5,677.1 L1102.9,681.8 L1103.3,686.4 L1103.6,691.1 L1104.0,695.8 L1104.3,700.4 L1104.7,705.1 L1105.0,709.8 L1105.3,714.5 L1105.6,719.1 L1105.9,723.8 L1106.2,728.5 L1106.4,733.1 L1106.7,737.8 L1107.0,742.5 L1107.2,747.2 L1107.5,751.8 L1107.7,756.5 L1108.0,761.2 L1108.2,765.8 L1108.4,770.5 L1108.7,775.2 L1108.9,779.9 L1109.1,784.5 L1109.3,789.2 L1109.3,711.0"/>
<path d="M192.7,155.5 L192.7,159.2 L192.8,162.9 L192.9,166.6 L193.0,170.3 L193.1,174.0 L193.2,177.7 L193.4,181.3 L193.6,185.0 L193.9,188.7 L194.2,192.4 L194.4,196.1 L194.6,199.8 L194.8,203.5 L195.0,207.2 L195.2,210.8 L195.4,214.5 L195.7,218.2 L196.0,221.9 L196.4,225.6 L196.9,229.2 L197.5,232.9 L198.2,236.5 L199.4,239.9 L201.5,242.9 L204.6,244.5 L208.2,245.0 L211.9,245.1 L215.6,245.1 L219.3,245.1 L223.0,245.1 L226.7,245.1 L230.4,245.1 L234.1,245.1 L237.8,245.1 L241.5,245.1 L245.2,245.2 L248.9,245.2 L252.5,245.3 L256.2,245.3 L259.9,245.4 L263.6,245.4 L267.3,245.5 L271.0,245.6 L274.7,245.6 L278.4,245.7 L282.1,245.8 L285.8,245.8 L289.5,245.9 L293.2,246.0 L296.9,246.1 L300.6,246.1 L304.3,246.2 L307.9,246.3 L311.6,246.4 L315.3,246.4 L319.0,246.5 L322.7,246.6 L326.4,246.7 L330.1,246.7 L332.8,246.8 L335.6,246.8 L338.3,246.9 L341.0,247.0 L343.8,247.0 L346.5,247.1 L349.2,247.1 L352.0,247.2 L354.7,247.2 L357.5,247.3 L360.2,247.3 L362.9,247.4 L365.7,247.5 L368.4,247.5 L371.1,247.6 L373.9,247.6 L376.6,247.7 L379.3,247.8 L382.1,247.8 L384.8,247.9 L387.5,247.9 L390.3,248.0 L393.0,248.1 L395.7,248.1 L398.5,248.2 L401.2,248.3 L403.9,248.3 L406.7,248.4 L409.4,248.5 L412.1,248.5 L414.9,248.6 L417.6,248.7 L420.3,248.7 L423.1,248.8 L425.8,248.9 L428.5,249.0 L431.3,249.0 L434.0,249.1 L436.7,249.2 L439.5,249.3 L442.2,249.4 L444.9,249.4 L447.7,249.5 L450.4,249.6 L453.1,249.7 L455.9,249.8 L458.6,249.8 L461.3,249.9 L464.1,250.0 L466.8,250.1 L469.5,250.2 L472.3,250.3 L475.0,250.3 L477.7,250.4 L480.5,250.5 L483.2,250.6 L485.9,250.7 L488.7,250.8 L491.4,250.9 L494.1,250.9 L496.9,251.0 L499.6,251.1 L502.3,251.2 L505.1,251.3 L507.8,251.4 L510.5,251.5 L513.3,251.6 L516.0,251.6 L518.7,251.7 L521.5,251.8 L524.2,251.9 L526.9,252.0 L529.7,252.1 L532.4,252.2 L535.1,252.3 L537.9,252.3 L540.6,252.4 L543.3,252.5 L546.1,252.6 L548.8,252.7 L551.5,252.8 L554.3,252.9 L557.0,253.0 L559.7,253.1 L562.5,253.1 L565.2,253.2 L567.9,253.3 L570.7,253.4 L573.4,253.5 L576.1,253.6 L578.9,253.7 L581.6,253.8 L584.3,253.9 L587.1,253.9 L589.8,254.0 L592.5,254.1 L595.3,254.2 L598.0,254.3 L600.7,254.4 L603.5,254.5 L606.2,254.6 L608.9,254.7 L611.7,254.8 L614.4,254.9 L617.1,255.0 L619.8,255.0 L622.6,255.1 L625.3,255.2 L628.0,255.3 L630.8,255.4 L633.5,255.5 L636.2,255.6 L639.0,255.7 L641.7,255.8 L644.4,255.9 L647.2,256.0 L649.9,256.1 L652.6,256.2 L655.4,256.3 L658.1,256.4 L660.8,256.5 L663.6,256.6 L666.3,256.7 L669.0,256.8 L671.8,256.9 L674.5,257.0 L677.2,257.1 L680.0,257.2 L682.7,257.3 L685.4,257.4 L688.2,257.5 L690.9,257.6 L693.6,257.7 L696.4,257.8 L699.1,257.9 L701.8,258.0 L704.6,258.1 L707.3,258.2 L710.0,258.3 L712.7,258.5 L715.5,258.6 L718.2,258.7 L720.9,258.8 L723.7,259.0 L726.4,259.1 L729.1,259.3 L731.9,259.4 L734.6,259.6 L737.3,259.7 L740.0,259.9 L742.8,260.1 L745.5,260.2 L748.2,260.4 L750.9,260.6 L753.7,260.8 L756.4,261.0 L759.1,261.1 L761.8,261.3 L764.6,261.5 L767.3,261.7 L770.0,261.9 L772.7,262.1 L775.5,262.3 L778.2,262.5 L780.9,262.7 L783.6,262.9 L786.3,263.1 L789.1,263.3 L791.8,263.5 L794.5,263.7 L797.2,263.9 L800.0,264.1 L802.7,264.3 L805.4,264.5 L808.1,264.7 L810.9,264.9 L813.6,265.1 L816.3,265.3 L819.0,265.5 L821.7,265.7 L824.5,265.9 L827.2,266.1 L829.9,266.3 L832.6,266.6 L835.4,266.8 L838.1,267.0 L840.8,267.2 L843.5,267.4 L846.2,267.7 L849.0,267.9 L851.7,268.1 L854.4,268.4 L857.1,268.6 L859.8,268.9 L862.6,269.1 L865.3,269.4 L868.0,269.7 L870.7,270.0 L873.4,270.3 L876.1,270.6 L878.9,270.9 L881.6,271.2 L884.3,271.5 L887.0,271.8 L889.7,272.1 L892.4,272.4 L895.2,272.7 L897.9,273.1 L900.6,273.4 L903.3,273.8 L906.0,274.2 L908.7,274.6 L911.4,275.0 L914.1,275.4 L916.8,275.9 L919.5,276.3 L922.2,276.8 L924.9,277.3 L927.6,277.8 L930.2,278.3 L932.9,278.9 L935.6,279.5 L938.3,280.1 L940.9,280.7 L943.6,281.3 L946.3,281.9 L948.9,282.4 L951.6,283.0 L954.3,283.5 L957.0,284.1 L959.6,284.6 L962.3,285.1 L965.0,285.7 L967.6,286.3 L970.3,286.9 L972.9,287.6 L975.5,288.3 L978.2,289.0 L980.8,289.8 L983.4,290.6 L986.0,291.5 L988.6,292.3 L991.1,293.2 L993.7,294.2 L996.2,295.2 L998.7,296.3 L1001.2,297.4 L1003.7,298.5 L1006.2,299.7 L1008.6,301.0 L1011.0,302.2 L1013.4,303.6 L1015.8,305.0 L1018.1,306.4 L1020.4,307.9 L1022.6,309.5 L1024.7,311.2 L1026.8,313.0 L1028.7,314.9 L1029.7,316.0 L1030.7,317.0 L1031.7,318.1 L1032.6,319.2 L1033.6,320.3 L1034.5,321.4 L1035.3,322.5 L1036.2,323.7 L1037.0,324.8 L1037.8,326.0 L1038.6,327.2 L1039.4,328.5 L1040.1,329.7 L1040.8,330.9 L1041.5,332.2 L1042.2,333.5 L1042.8,334.7 L1043.5,336.0 L1044.1,337.3 L1044.8,338.6 L1045.4,339.9 L1046.0,341.2 L1046.6,342.5 L1047.2,343.8 L1047.8,345.1 L1048.4,346.4 L1049.0,347.7 L1049.5,349.0 L1050.0,350.4 L1050.6,351.7 L1051.1,353.1 L1051.6,354.4 L1052.1,355.8 L1052.5,357.1 L1053.0,358.5 L1053.4,359.8 L1053.9,361.2 L1054.3,362.6 L1054.7,363.9 L1055.1,365.3 L1055.5,366.7 L1055.9,368.1 L1056.3,369.5 L1056.6,370.8 L1057.0,372.2 L1057.4,373.6 L1057.7,375.0 L1058.0,376.4 L1058.4,377.8 L1058.7,379.2 L1059.0,380.6 L1059.3,382.0 L1059.6,383.4 L1059.9,384.8 L1060.2,386.2 L1060.5,387.6 L1060.8,389.0 L1061.1,390.4 L1061.3,391.8 L1061.6,393.2 L1061.8,394.7 L1062.1,396.1 L1062.3,397.5 L1062.6,398.9 L1062.8,400.3 L1063.1,401.7 L1063.3,403.1 L1063.5,404.6 L1063.7,406.0 L1064.0,407.4 L1064.2,408.8 L1064.4,410.2 L1064.6,411.6 L1064.8,413.1 L1065.0,414.5 L1065.3,415.9 L1065.5,417.3 L1065.7,418.7 L1065.9,420.2 L1066.6,424.8 L1067.3,429.5 L1067.9,434.2 L1068.6,438.9 L1069.2,443.5 L1069.8,448.2 L1070.4,452.9 L1071.0,457.5 L1071.6,462.2 L1072.2,466.9 L1072.7,471.6 L1073.3,476.2 L1073.9,480.9 L1074.4,485.6 L1075.0,490.2 L1075.5,494.9 L1076.1,499.6 L1076.6,504.2 L1077.2,508.9 L1077.7,513.6 L1078.2,518.3 L1078.8,522.9 L1079.3,527.6 L1079.8,532.3 L1080.4,536.9 L1080.9,541.6 L1081.4,546.3 L1081.9,551.0 L1082.4,555.6 L1082.9,560.3 L1083.4,565.0 L1083.9,569.6 L1084.4,574.3 L1084.9,579.0 L1085.4,583.7 L1085.9,588.3 L1086.4,593.0 L1086.9,597.7 L1087.4,602.3 L1087.9,607.0 L1088.4,611.7 L1088.9,616.4 L1089.5,621.0 L1090.0,625.7 L1090.6,630.4 L1091.1,635.0 L1091.7,639.7 L1092.3,644.4 L1092.9,649.1 L1093.5,653.7 L1094.1,658.4 L1094.6,663.1 L1095.2,667.7 L1095.7,672.4 L1096.2,677.1 L1096.6,681.8 L1097.0,686.4 L1097.4,691.1 L1097.8,695.8 L1098.1,700.4 L1098.5,705.1 L1098.8,709.8 L1099.2,714.5 L1099.5,719.1 L1099.8,723.8 L1100.1,728.5 L1100.4,733.1 L1100.7,737.8 L1101.0,742.5 L1101.3,747.2 L1101.6,751.8 L1101.9,756.5 L1102.2,761.2 L1102.5,765.8 L1102.8,770.5 L1103.0,775.2 L1103.3,779.9 L1103.5,784.5 L1103.8,789.2 L1103.8,710.0"/>
<path d="M192.7,155.5 L192.7,159.2 L192.8,162.9 L192.8,166.6 L192.9,170.3 L193.0,174.1 L193.2,177.8 L193.4,181.5 L193.6,185.2 L193.9,188.9 L194.1,192.6 L194.3,196.3 L194.5,200.0 L194.7,203.7 L194.9,207.4 L195.1,211.1 L195.3,214.8 L195.6,218.5 L195.9,222.2 L196.3,225.9 L196.7,229.6 L197.2,233.3 L197.9,236.9 L199.1,240.4 L201.0,243.5 L204.0,245.3 L207.6,245.9 L211.3,246.0 L215.0,246.0 L218.8,246.0 L222.5,246.1 L226.2,246.1 L229.9,246.1 L233.6,246.1 L237.3,246.1 L241.0,246.1 L244.7,246.1 L248.5,246.2 L252.2,246.2 L255.9,246.3 L259.6,246.3 L263.3,246.4 L267.0,246.4 L270.7,246.5 L274.4,246.6 L278.2,246.6 L281.9,246.7 L285.6,246.8 L289.3,246.8 L293.0,246.9 L296.7,247.0 L300.4,247.1 L304.1,247.1 L307.9,247.2 L311.6,247.3 L315.3,247.4 L319.0,247.5 L322.7,247.5 L326.4,247.6 L330.1,247.7 L332.8,247.7 L335.5,247.8 L338.2,247.8 L341.0,247.9 L343.7,247.9 L346.4,248.0 L349.1,248.1 L351.8,248.1 L354.5,248.2 L357.2,248.2 L359.9,248.3 L362.6,248.3 L365.3,248.4 L368.0,248.4 L370.7,248.5 L373.4,248.6 L376.1,248.6 L378.8,248.7 L381.5,248.8 L384.2,248.8 L387.0,248.9 L389.7,248.9 L392.4,249.0 L395.1,249.1 L397.8,249.1 L400.5,249.2 L403.2,249.3 L405.9,249.3 L408.6,249.4 L411.3,249.5 L414.0,249.6 L416.7,249.6 L419.4,249.7 L422.1,249.8 L424.8,249.9 L427.5,249.9 L430.2,250.0 L433.0,250.1 L435.7,250.2 L438.4,250.3 L441.1,250.3 L443.8,250.4 L446.5,250.5 L449.2,250.6 L451.9,250.7 L454.6,250.8 L457.3,250.8 L460.0,250.9 L462.7,251.0 L465.4,251.1 L468.1,251.2 L470.8,251.3 L473.5,251.4 L476.2,251.5 L478.9,251.6 L481.7,251.6 L484.4,251.7 L487.1,251.8 L489.8,251.9 L492.5,252.0 L495.2,252.1 L497.9,252.2 L500.6,252.3 L503.3,252.4 L506.0,252.5 L508.7,252.6 L511.4,252.7 L514.1,252.7 L516.8,252.8 L519.5,252.9 L522.2,253.0 L524.9,253.1 L527.6,253.2 L530.3,253.3 L533.0,253.4 L535.8,253.5 L538.5,253.6 L541.2,253.7 L543.9,253.8 L546.6,253.9 L549.3,254.0 L552.0,254.1 L554.7,254.2 L557.4,254.3 L560.1,254.4 L562.8,254.5 L565.5,254.6 L568.2,254.6 L570.9,254.7 L573.6,254.8 L576.3,254.9 L579.0,255.0 L581.7,255.1 L584.4,255.2 L587.1,255.3 L589.8,255.4 L592.6,255.5 L595.3,255.6 L598.0,255.7 L600.7,255.8 L603.4,255.9 L606.1,256.0 L608.8,256.1 L611.5,256.2 L614.2,256.3 L616.9,256.4 L619.6,256.5 L622.3,256.6 L625.0,256.7 L627.7,256.8 L630.4,256.9 L633.1,257.1 L635.8,257.2 L638.5,257.3 L641.2,257.4 L643.9,257.5 L646.6,257.6 L649.3,257.7 L652.1,257.8 L654.8,257.9 L657.5,258.0 L660.2,258.1 L662.9,258.2 L665.6,258.3 L668.3,258.4 L671.0,258.5 L673.7,258.7 L676.4,258.8 L679.1,258.9 L681.8,259.0 L684.5,259.1 L687.2,259.2 L689.9,259.3 L692.6,259.5 L695.3,259.6 L698.0,259.7 L700.7,259.8 L703.4,260.0 L706.1,260.1 L708.8,260.2 L711.5,260.4 L714.2,260.5 L716.9,260.7 L719.6,260.8 L722.3,261.0 L725.0,261.2 L727.7,261.3 L730.4,261.5 L733.1,261.7 L735.8,261.9 L738.5,262.1 L741.2,262.3 L743.9,262.5 L746.6,262.7 L749.3,262.9 L752.0,263.1 L754.7,263.3 L757.4,263.6 L760.1,263.8 L762.8,264.0 L765.5,264.2 L768.2,264.5 L770.9,264.7 L773.6,264.9 L776.2,265.2 L778.9,265.4 L781.6,265.6 L784.3,265.9 L787.0,266.1 L789.7,266.3 L792.4,266.6 L795.1,266.8 L797.8,267.0 L800.5,267.3 L803.2,267.5 L805.9,267.8 L808.5,268.0 L811.2,268.2 L813.9,268.5 L816.6,268.7 L819.3,269.0 L822.0,269.2 L824.7,269.4 L827.4,269.7 L830.1,269.9 L832.8,270.2 L835.5,270.4 L838.2,270.7 L840.8,271.0 L843.5,271.2 L846.2,271.5 L848.9,271.8 L851.6,272.0 L854.3,272.3 L857.0,272.6 L859.7,272.9 L862.4,273.2 L865.1,273.5 L867.7,273.8 L870.4,274.1 L873.1,274.4 L875.8,274.8 L878.5,275.1 L881.2,275.4 L883.9,275.8 L886.5,276.1 L889.2,276.5 L891.9,276.8 L894.6,277.2 L897.3,277.6 L899.9,278.0 L902.6,278.4 L905.3,278.8 L907.9,279.3 L910.6,279.7 L913.3,280.2 L915.9,280.7 L918.6,281.2 L921.2,281.7 L923.9,282.2 L926.5,282.8 L929.2,283.4 L931.8,284.0 L934.5,284.6 L937.1,285.2 L939.8,285.8 L942.4,286.4 L945.0,287.0 L947.7,287.5 L950.3,288.1 L952.9,288.7 L955.6,289.3 L958.2,289.9 L960.8,290.5 L963.4,291.2 L966.0,291.9 L968.6,292.7 L971.2,293.5 L973.8,294.3 L976.3,295.1 L978.9,296.0 L981.4,296.9 L984.0,297.8 L986.5,298.8 L989.0,299.9 L991.4,301.0 L993.9,302.1 L996.3,303.3 L998.8,304.5 L1001.2,305.7 L1003.5,307.0 L1005.9,308.3 L1008.2,309.7 L1010.5,311.2 L1012.7,312.7 L1014.9,314.3 L1017.0,316.0 L1019.1,317.7 L1021.0,319.6 L1022.0,320.6 L1022.9,321.6 L1023.9,322.6 L1024.8,323.7 L1025.7,324.7 L1026.5,325.8 L1027.4,326.9 L1028.2,328.0 L1029.0,329.1 L1029.8,330.2 L1030.6,331.4 L1031.3,332.5 L1032.0,333.7 L1032.7,334.9 L1033.4,336.1 L1034.1,337.3 L1034.7,338.5 L1035.4,339.7 L1036.0,341.0 L1036.6,342.2 L1037.2,343.4 L1037.9,344.7 L1038.5,345.9 L1039.0,347.1 L1039.6,348.4 L1040.2,349.7 L1040.7,350.9 L1041.3,352.2 L1041.8,353.5 L1042.3,354.7 L1042.8,356.0 L1043.3,357.3 L1043.8,358.6 L1044.3,359.9 L1044.8,361.2 L1045.2,362.5 L1045.7,363.8 L1046.1,365.1 L1046.5,366.4 L1046.9,367.7 L1047.3,369.0 L1047.7,370.3 L1048.1,371.7 L1048.5,373.0 L1048.8,374.3 L1049.2,375.6 L1049.5,377.0 L1049.9,378.3 L1050.2,379.6 L1050.6,381.0 L1050.9,382.3 L1051.2,383.6 L1051.5,385.0 L1051.8,386.3 L1052.1,387.7 L1052.4,389.0 L1052.7,390.4 L1053.0,391.7 L1053.3,393.0 L1053.6,394.4 L1053.8,395.7 L1054.1,397.1 L1054.4,398.4 L1054.6,399.8 L1054.9,401.2 L1055.1,402.5 L1055.4,403.9 L1055.6,405.2 L1055.8,406.6 L1056.1,407.9 L1056.3,409.3 L1056.5,410.7 L1056.7,412.0 L1057.0,413.4 L1057.2,414.7 L1057.4,416.1 L1057.6,417.5 L1057.8,418.8 L1058.1,420.2 L1058.8,424.8 L1059.5,429.5 L1060.1,434.2 L1060.7,438.9 L1061.3,443.5 L1061.9,448.2 L1062.5,452.9 L1063.1,457.5 L1063.6,462.2 L1064.2,466.9 L1064.7,471.6 L1065.3,476.2 L1065.8,480.9 L1066.3,485.6 L1066.9,490.2 L1067.4,494.9 L1067.9,499.6 L1068.4,504.3 L1068.9,508.9 L1069.5,513.6 L1070.0,518.3 L1070.5,522.9 L1071.0,527.6 L1071.5,532.3 L1072.0,537.0 L1072.5,541.6 L1073.0,546.3 L1073.5,551.0 L1074.0,555.6 L1074.5,560.3 L1075.0,565.0 L1075.5,569.7 L1076.0,574.3 L1076.4,579.0 L1076.9,583.7 L1077.4,588.3 L1077.9,593.0 L1078.4,597.7 L1078.9,602.4 L1079.4,607.0 L1079.9,611.7 L1080.4,616.4 L1080.9,621.0 L1081.4,625.7 L1082.0,630.4 L1082.6,635.1 L1083.1,639.7 L1083.7,644.4 L1084.3,649.1 L1084.9,653.7 L1085.5,658.4 L1086.0,663.1 L1086.6,667.7 L1087.1,672.4 L1087.5,677.1 L1087.9,681.8 L1088.3,686.4 L1088.7,691.1 L1089.0,695.8 L1089.4,700.4 L1089.7,705.1 L1090.0,709.8 L1090.3,714.5 L1090.6,719.1 L1090.9,723.8 L1091.2,728.5 L1091.5,733.1 L1091.8,737.8 L1092.1,742.5 L1092.4,747.2 L1092.7,751.8 L1092.9,756.5 L1093.2,761.2 L1093.5,765.8 L1093.8,770.5 L1094.0,775.2 L1094.3,779.9 L1094.5,784.5 L1094.8,789.2 L1094.8,709.0"/>
<path d="M192.7,155.5 L192.7,159.2 L192.8,163.0 L192.8,166.7 L192.9,170.4 L193.0,174.2 L193.1,177.9 L193.3,181.6 L193.6,185.3 L193.8,189.1 L194.1,192.8 L194.3,196.5 L194.5,200.2 L194.7,204.0 L194.8,207.7 L195.0,211.4 L195.2,215.1 L195.5,218.9 L195.8,222.6 L196.1,226.3 L196.5,230.0 L197.0,233.7 L197.6,237.4 L198.7,240.9 L200.5,244.1 L203.3,246.2 L207.0,246.9 L210.7,247.0 L214.5,247.0 L218.2,247.0 L221.9,247.0 L225.7,247.0 L229.4,247.0 L233.1,247.1 L236.9,247.1 L240.6,247.1 L244.3,247.1 L248.1,247.1 L251.8,247.2 L255.5,247.2 L259.2,247.3 L263.0,247.3 L266.7,247.4 L270.4,247.5 L274.2,247.5 L277.9,247.6 L281.6,247.7 L285.4,247.7 L289.1,247.8 L292.8,247.9 L296.6,248.0 L300.3,248.0 L304.0,248.1 L307.8,248.2 L311.5,248.3 L315.2,248.3 L318.9,248.4 L322.7,248.5 L326.4,248.6 L330.1,248.6 L332.8,248.7 L335.5,248.7 L338.2,248.8 L340.9,248.8 L343.5,248.9 L346.2,249.0 L348.9,249.0 L351.6,249.1 L354.2,249.1 L356.9,249.2 L359.6,249.2 L362.3,249.3 L365.0,249.3 L367.6,249.4 L370.3,249.5 L373.0,249.5 L375.7,249.6 L378.3,249.6 L381.0,249.7 L383.7,249.8 L386.4,249.8 L389.0,249.9 L391.7,250.0 L394.4,250.0 L397.1,250.1 L399.8,250.2 L402.4,250.2 L405.1,250.3 L407.8,250.4 L410.5,250.5 L413.1,250.5 L415.8,250.6 L418.5,250.7 L421.2,250.8 L423.9,250.8 L426.5,250.9 L429.2,251.0 L431.9,251.1 L434.6,251.2 L437.2,251.3 L439.9,251.3 L442.6,251.4 L445.3,251.5 L447.9,251.6 L450.6,251.7 L453.3,251.8 L456.0,251.9 L458.7,252.0 L461.3,252.1 L464.0,252.1 L466.7,252.2 L469.4,252.3 L472.0,252.4 L474.7,252.5 L477.4,252.6 L480.1,252.7 L482.7,252.8 L485.4,252.9 L488.1,253.0 L490.8,253.1 L493.4,253.2 L496.1,253.3 L498.8,253.4 L501.5,253.5 L504.2,253.6 L506.8,253.7 L509.5,253.8 L512.2,253.9 L514.9,254.0 L517.5,254.1 L520.2,254.2 L522.9,254.3 L525.6,254.4 L528.2,254.5 L530.9,254.6 L533.6,254.7 L536.3,254.8 L538.9,254.9 L541.6,255.0 L544.3,255.1 L547.0,255.2 L549.6,255.3 L552.3,255.4 L555.0,255.5 L557.7,255.6 L560.4,255.7 L563.0,255.8 L565.7,255.9 L568.4,256.0 L571.1,256.1 L573.7,256.2 L576.4,256.3 L579.1,256.4 L581.8,256.5 L584.4,256.7 L587.1,256.8 L589.8,256.9 L592.5,257.0 L595.1,257.1 L597.8,257.2 L600.5,257.3 L603.2,257.4 L605.8,257.5 L608.5,257.6 L611.2,257.7 L613.9,257.9 L616.5,258.0 L619.2,258.1 L621.9,258.2 L624.6,258.3 L627.3,258.4 L629.9,258.5 L632.6,258.6 L635.3,258.8 L638.0,258.9 L640.6,259.0 L643.3,259.1 L646.0,259.2 L648.7,259.3 L651.3,259.4 L654.0,259.6 L656.7,259.7 L659.4,259.8 L662.0,259.9 L664.7,260.0 L667.4,260.2 L670.1,260.3 L672.7,260.4 L675.4,260.5 L678.1,260.7 L680.8,260.8 L683.4,260.9 L686.1,261.1 L688.8,261.2 L691.5,261.3 L694.1,261.5 L696.8,261.6 L699.5,261.7 L702.2,261.9 L704.8,262.0 L707.5,262.2 L710.2,262.4 L712.8,262.5 L715.5,262.7 L718.2,262.9 L720.9,263.1 L723.5,263.3 L726.2,263.5 L728.9,263.7 L731.5,263.9 L734.2,264.1 L736.9,264.4 L739.5,264.6 L742.2,264.8 L744.9,265.1 L747.5,265.3 L750.2,265.6 L752.8,265.8 L755.5,266.1 L758.2,266.4 L760.8,266.6 L763.5,266.9 L766.2,267.1 L768.8,267.4 L771.5,267.7 L774.1,267.9 L776.8,268.2 L779.5,268.5 L782.1,268.8 L784.8,269.0 L787.4,269.3 L790.1,269.6 L792.8,269.8 L795.4,270.1 L798.1,270.4 L800.7,270.7 L803.4,270.9 L806.1,271.2 L808.7,271.5 L811.4,271.8 L814.0,272.1 L816.7,272.3 L819.4,272.6 L822.0,272.9 L824.7,273.2 L827.4,273.5 L830.0,273.7 L832.7,274.0 L835.3,274.3 L838.0,274.6 L840.6,274.9 L843.3,275.2 L846.0,275.5 L848.6,275.8 L851.3,276.1 L853.9,276.5 L856.6,276.8 L859.3,277.1 L861.9,277.4 L864.6,277.8 L867.2,278.1 L869.9,278.5 L872.5,278.8 L875.2,279.1 L877.8,279.5 L880.5,279.9 L883.1,280.2 L885.8,280.6 L888.4,281.0 L891.1,281.4 L893.7,281.8 L896.4,282.3 L899.0,282.7 L901.7,283.2 L904.3,283.6 L906.9,284.1 L909.5,284.6 L912.2,285.2 L914.8,285.7 L917.4,286.2 L920.0,286.8 L922.7,287.4 L925.3,288.0 L927.9,288.6 L930.5,289.2 L933.1,289.8 L935.7,290.4 L938.3,291.0 L940.9,291.6 L943.5,292.2 L946.1,292.9 L948.7,293.5 L951.3,294.2 L953.9,294.9 L956.4,295.6 L959.0,296.4 L961.5,297.2 L964.1,298.0 L966.6,298.8 L969.1,299.7 L971.6,300.6 L974.1,301.6 L976.6,302.6 L979.1,303.6 L981.5,304.6 L984.0,305.8 L986.4,306.9 L988.8,308.1 L991.2,309.3 L993.5,310.6 L995.9,311.9 L998.2,313.2 L1000.5,314.6 L1002.7,316.0 L1005.0,317.5 L1007.1,319.1 L1009.2,320.8 L1011.2,322.6 L1013.2,324.4 L1014.1,325.4 L1015.0,326.3 L1015.9,327.3 L1016.7,328.3 L1017.6,329.3 L1018.4,330.3 L1019.3,331.3 L1020.1,332.4 L1020.9,333.5 L1021.6,334.5 L1022.4,335.6 L1023.1,336.7 L1023.8,337.8 L1024.5,338.9 L1025.2,340.1 L1025.8,341.2 L1026.5,342.4 L1027.1,343.5 L1027.7,344.7 L1028.3,345.9 L1028.9,347.0 L1029.5,348.2 L1030.1,349.4 L1030.7,350.6 L1031.2,351.8 L1031.8,353.0 L1032.3,354.2 L1032.9,355.4 L1033.4,356.6 L1033.9,357.8 L1034.4,359.0 L1034.9,360.2 L1035.4,361.5 L1035.9,362.7 L1036.4,363.9 L1036.8,365.2 L1037.3,366.4 L1037.7,367.6 L1038.1,368.9 L1038.5,370.1 L1038.9,371.4 L1039.3,372.7 L1039.7,373.9 L1040.1,375.2 L1040.5,376.4 L1040.9,377.7 L1041.2,379.0 L1041.6,380.2 L1041.9,381.5 L1042.3,382.8 L1042.6,384.1 L1042.9,385.3 L1043.2,386.6 L1043.6,387.9 L1043.9,389.2 L1044.2,390.4 L1044.5,391.7 L1044.8,393.0 L1045.1,394.3 L1045.4,395.6 L1045.7,396.9 L1045.9,398.2 L1046.2,399.4 L1046.5,400.7 L1046.7,402.0 L1047.0,403.3 L1047.2,404.6 L1047.5,405.9 L1047.7,407.2 L1048.0,408.5 L1048.2,409.8 L1048.5,411.1 L1048.7,412.4 L1048.9,413.7 L1049.1,415.0 L1049.4,416.3 L1049.6,417.6 L1049.8,418.9 L1050.0,420.2 L1050.8,424.9 L1051.5,429.5 L1052.2,434.2 L1052.8,438.9 L1053.4,443.5 L1054.1,448.2 L1054.6,452.9 L1055.2,457.6 L1055.8,462.2 L1056.3,466.9 L1056.9,471.6 L1057.4,476.2 L1057.9,480.9 L1058.4,485.6 L1059.0,490.3 L1059.5,494.9 L1060.0,499.6 L1060.5,504.3 L1061.1,508.9 L1061.6,513.6 L1062.1,518.3 L1062.7,523.0 L1063.2,527.6 L1063.7,532.3 L1064.2,537.0 L1064.7,541.6 L1065.3,546.3 L1065.8,551.0 L1066.3,555.6 L1066.8,560.3 L1067.2,565.0 L1067.7,569.7 L1068.2,574.3 L1068.7,579.0 L1069.2,583.7 L1069.7,588.3 L1070.2,593.0 L1070.7,597.7 L1071.2,602.4 L1071.7,607.0 L1072.3,611.7 L1072.8,616.4 L1073.3,621.0 L1073.9,625.7 L1074.5,630.4 L1075.1,635.1 L1075.7,639.7 L1076.3,644.4 L1076.9,649.1 L1077.5,653.7 L1078.1,658.4 L1078.7,663.1 L1079.2,667.8 L1079.7,672.4 L1080.2,677.1 L1080.6,681.8 L1081.0,686.4 L1081.4,691.1 L1081.7,695.8 L1082.1,700.5 L1082.4,705.1 L1082.7,709.8 L1083.0,714.5 L1083.3,719.1 L1083.6,723.8 L1083.9,728.5 L1084.2,733.1 L1084.5,737.8 L1084.9,742.5 L1085.2,747.2 L1085.5,751.8 L1085.8,756.5 L1086.1,761.2 L1086.4,765.8 L1086.7,770.5 L1086.9,775.2 L1087.2,779.9 L1087.5,784.5 L1087.8,789.2 L1087.8,708.0"/>
<path d="M192.7,155.5 L192.7,159.3 L192.8,163.0 L192.8,166.8 L192.9,170.5 L193.0,174.3 L193.1,178.0 L193.3,181.7 L193.5,185.5 L193.8,189.2 L194.0,193.0 L194.3,196.7 L194.4,200.5 L194.6,204.2 L194.8,208.0 L194.9,211.7 L195.1,215.4 L195.4,219.2 L195.6,222.9 L195.9,226.7 L196.3,230.4 L196.7,234.1 L197.4,237.8 L198.3,241.4 L200.0,244.7 L202.7,247.1 L206.4,247.8 L210.1,248.0 L213.9,248.0 L217.7,248.0 L221.4,248.0 L225.2,248.0 L228.9,248.0 L232.7,248.0 L236.4,248.0 L240.2,248.0 L243.9,248.1 L247.7,248.1 L251.4,248.1 L255.2,248.2 L258.9,248.2 L262.7,248.3 L266.4,248.4 L270.2,248.4 L273.9,248.5 L277.7,248.5 L281.4,248.6 L285.2,248.7 L288.9,248.8 L292.7,248.8 L296.4,248.9 L300.2,249.0 L303.9,249.0 L307.7,249.1 L311.4,249.2 L315.2,249.3 L318.9,249.3 L322.7,249.4 L326.4,249.5 L330.2,249.6 L332.8,249.6 L335.5,249.7 L338.1,249.7 L340.8,249.8 L343.4,249.8 L346.1,249.9 L348.7,249.9 L351.4,250.0 L354.0,250.0 L356.7,250.1 L359.3,250.2 L362.0,250.2 L364.6,250.3 L367.3,250.3 L369.9,250.4 L372.6,250.5 L375.2,250.5 L377.9,250.6 L380.5,250.6 L383.2,250.7 L385.8,250.8 L388.5,250.8 L391.1,250.9 L393.8,251.0 L396.4,251.0 L399.0,251.1 L401.7,251.2 L404.3,251.3 L407.0,251.3 L409.6,251.4 L412.3,251.5 L414.9,251.6 L417.6,251.6 L420.2,251.7 L422.9,251.8 L425.5,251.9 L428.2,252.0 L430.8,252.1 L433.5,252.1 L436.1,252.2 L438.8,252.3 L441.4,252.4 L444.1,252.5 L446.7,252.6 L449.4,252.7 L452.0,252.8 L454.7,252.9 L457.3,253.0 L460.0,253.1 L462.6,253.2 L465.3,253.3 L467.9,253.4 L470.6,253.5 L473.2,253.6 L475.9,253.7 L478.5,253.8 L481.2,253.9 L483.8,254.0 L486.5,254.1 L489.1,254.2 L491.8,254.3 L494.4,254.4 L497.1,254.5 L499.7,254.6 L502.4,254.7 L505.0,254.8 L507.6,254.9 L510.3,255.0 L512.9,255.1 L515.6,255.2 L518.2,255.3 L520.9,255.4 L523.5,255.5 L526.2,255.6 L528.8,255.7 L531.5,255.8 L534.1,255.9 L536.8,256.1 L539.4,256.2 L542.1,256.3 L544.7,256.4 L547.4,256.5 L550.0,256.6 L552.7,256.7 L555.3,256.8 L558.0,256.9 L560.6,257.0 L563.3,257.2 L565.9,257.3 L568.6,257.4 L571.2,257.5 L573.9,257.6 L576.5,257.7 L579.1,257.8 L581.8,257.9 L584.4,258.1 L587.1,258.2 L589.7,258.3 L592.4,258.4 L595.0,258.5 L597.7,258.6 L600.3,258.8 L603.0,258.9 L605.6,259.0 L608.3,259.1 L610.9,259.2 L613.6,259.4 L616.2,259.5 L618.9,259.6 L621.5,259.7 L624.2,259.8 L626.8,260.0 L629.5,260.1 L632.1,260.2 L634.7,260.3 L637.4,260.5 L640.0,260.6 L642.7,260.7 L645.3,260.8 L648.0,261.0 L650.6,261.1 L653.3,261.2 L655.9,261.4 L658.6,261.5 L661.2,261.6 L663.9,261.8 L666.5,261.9 L669.2,262.0 L671.8,262.2 L674.5,262.3 L677.1,262.4 L679.7,262.6 L682.4,262.7 L685.0,262.9 L687.7,263.0 L690.3,263.2 L693.0,263.3 L695.6,263.5 L698.3,263.6 L700.9,263.8 L703.6,264.0 L706.2,264.2 L708.8,264.3 L711.5,264.5 L714.1,264.7 L716.8,265.0 L719.4,265.2 L722.0,265.4 L724.7,265.6 L727.3,265.9 L730.0,266.1 L732.6,266.4 L735.2,266.7 L737.9,266.9 L740.5,267.2 L743.1,267.5 L745.8,267.8 L748.4,268.1 L751.0,268.4 L753.7,268.6 L756.3,268.9 L758.9,269.2 L761.6,269.5 L764.2,269.8 L766.8,270.1 L769.5,270.4 L772.1,270.7 L774.7,271.1 L777.3,271.4 L780.0,271.7 L782.6,272.0 L785.2,272.3 L787.9,272.6 L790.5,272.9 L793.1,273.2 L795.8,273.5 L798.4,273.8 L801.0,274.1 L803.6,274.5 L806.3,274.8 L808.9,275.1 L811.5,275.4 L814.2,275.7 L816.8,276.0 L819.4,276.3 L822.1,276.7 L824.7,277.0 L827.3,277.3 L829.9,277.6 L832.6,277.9 L835.2,278.3 L837.8,278.6 L840.5,278.9 L843.1,279.3 L845.7,279.6 L848.3,279.9 L851.0,280.3 L853.6,280.6 L856.2,281.0 L858.8,281.3 L861.5,281.7 L864.1,282.1 L866.7,282.4 L869.3,282.8 L872.0,283.2 L874.6,283.6 L877.2,283.9 L879.8,284.3 L882.4,284.8 L885.1,285.2 L887.7,285.6 L890.3,286.1 L892.9,286.5 L895.5,287.0 L898.1,287.5 L900.7,288.0 L903.3,288.5 L905.9,289.0 L908.5,289.6 L911.1,290.1 L913.7,290.7 L916.3,291.3 L918.8,291.9 L921.4,292.5 L924.0,293.1 L926.6,293.7 L929.2,294.3 L931.7,295.0 L934.3,295.6 L936.9,296.3 L939.4,296.9 L942.0,297.6 L944.5,298.4 L947.0,299.1 L949.6,299.9 L952.1,300.7 L954.6,301.5 L957.1,302.4 L959.6,303.3 L962.1,304.2 L964.6,305.2 L967.0,306.1 L969.5,307.2 L971.9,308.2 L974.3,309.3 L976.7,310.4 L979.1,311.6 L981.4,312.8 L983.8,314.0 L986.1,315.3 L988.4,316.6 L990.7,318.0 L992.9,319.4 L995.2,320.8 L997.4,322.3 L999.5,323.9 L1001.5,325.5 L1003.5,327.3 L1005.4,329.1 L1006.3,330.0 L1007.2,330.9 L1008.1,331.9 L1008.9,332.8 L1009.7,333.8 L1010.5,334.7 L1011.3,335.7 L1012.1,336.7 L1012.9,337.7 L1013.6,338.7 L1014.3,339.8 L1015.0,340.8 L1015.7,341.8 L1016.4,342.9 L1017.1,344.0 L1017.7,345.1 L1018.4,346.2 L1019.0,347.3 L1019.6,348.4 L1020.2,349.5 L1020.8,350.6 L1021.4,351.7 L1021.9,352.8 L1022.5,354.0 L1023.0,355.1 L1023.6,356.2 L1024.1,357.4 L1024.6,358.5 L1025.2,359.7 L1025.7,360.8 L1026.2,362.0 L1026.7,363.1 L1027.2,364.3 L1027.7,365.5 L1028.1,366.6 L1028.6,367.8 L1029.0,369.0 L1029.5,370.2 L1029.9,371.3 L1030.3,372.5 L1030.8,373.7 L1031.2,374.9 L1031.6,376.1 L1031.9,377.3 L1032.3,378.5 L1032.7,379.7 L1033.1,380.9 L1033.4,382.1 L1033.8,383.3 L1034.1,384.6 L1034.5,385.8 L1034.8,387.0 L1035.2,388.2 L1035.5,389.4 L1035.8,390.6 L1036.1,391.8 L1036.4,393.1 L1036.8,394.3 L1037.1,395.5 L1037.4,396.7 L1037.6,398.0 L1037.9,399.2 L1038.2,400.4 L1038.5,401.6 L1038.8,402.9 L1039.0,404.1 L1039.3,405.3 L1039.6,406.6 L1039.8,407.8 L1040.1,409.0 L1040.3,410.3 L1040.6,411.5 L1040.8,412.8 L1041.1,414.0 L1041.3,415.2 L1041.5,416.5 L1041.7,417.7 L1042.0,419.0 L1042.2,420.2 L1043.0,424.9 L1043.8,429.5 L1044.5,434.2 L1045.1,438.9 L1045.8,443.6 L1046.4,448.2 L1047.0,452.9 L1047.6,457.6 L1048.2,462.2 L1048.7,466.9 L1049.3,471.6 L1049.8,476.2 L1050.3,480.9 L1050.9,485.6 L1051.4,490.3 L1051.9,494.9 L1052.5,499.6 L1053.0,504.3 L1053.5,508.9 L1054.1,513.6 L1054.6,518.3 L1055.2,523.0 L1055.8,527.6 L1056.3,532.3 L1056.8,537.0 L1057.4,541.6 L1057.9,546.3 L1058.4,551.0 L1058.9,555.7 L1059.5,560.3 L1060.0,565.0 L1060.5,569.7 L1061.0,574.3 L1061.5,579.0 L1062.0,583.7 L1062.6,588.4 L1063.1,593.0 L1063.6,597.7 L1064.1,602.4 L1064.7,607.0 L1065.2,611.7 L1065.8,616.4 L1066.3,621.0 L1066.9,625.7 L1067.5,630.4 L1068.2,635.1 L1068.8,639.7 L1069.4,644.4 L1070.1,649.1 L1070.7,653.7 L1071.4,658.4 L1072.0,663.1 L1072.5,667.8 L1073.1,672.4 L1073.6,677.1 L1074.0,681.8 L1074.4,686.4 L1074.8,691.1 L1075.2,695.8 L1075.5,700.5 L1075.8,705.1 L1076.2,709.8 L1076.5,714.5 L1076.8,719.1 L1077.1,723.8 L1077.4,728.5 L1077.8,733.1 L1078.1,737.8 L1078.4,742.5 L1078.8,747.2 L1079.1,751.8 L1079.4,756.5 L1079.8,761.2 L1080.1,765.8 L1080.4,770.5 L1080.7,775.2 L1081.1,779.9 L1081.4,784.5 L1081.7,789.2 L1081.7,707.0"/>
<path d="M192.7,155.5 L192.7,159.3 L192.8,163.0 L192.8,166.8 L192.9,170.6 L193.0,174.4 L193.1,178.1 L193.3,181.9 L193.5,185.7 L193.8,189.4 L194.0,193.2 L194.2,196.9 L194.4,200.7 L194.5,204.5 L194.7,208.2 L194.8,212.0 L195.0,215.8 L195.2,219.6 L195.5,223.3 L195.7,227.1 L196.0,230.8 L196.4,234.6 L197.0,238.3 L197.9,242.0 L199.5,245.4 L202.1,248.0 L205.7,248.9 L209.5,249.0 L213.3,249.0 L217.0,249.0 L220.8,249.1 L224.6,249.1 L228.4,249.1 L232.1,249.1 L235.9,249.1 L239.7,249.1 L243.4,249.1 L247.2,249.2 L251.0,249.2 L254.8,249.2 L258.5,249.3 L262.3,249.3 L266.1,249.4 L269.8,249.5 L273.6,249.5 L277.4,249.6 L281.2,249.7 L284.9,249.7 L288.7,249.8 L292.5,249.9 L296.2,249.9 L300.0,250.0 L303.8,250.1 L307.5,250.2 L311.3,250.2 L315.1,250.3 L318.9,250.4 L322.6,250.5 L326.4,250.5 L330.2,250.6 L332.8,250.7 L335.4,250.7 L338.0,250.8 L340.6,250.8 L343.3,250.9 L345.9,250.9 L348.5,251.0 L351.1,251.0 L353.7,251.1 L356.4,251.1 L359.0,251.2 L361.6,251.2 L364.2,251.3 L366.8,251.4 L369.5,251.4 L372.1,251.5 L374.7,251.6 L377.3,251.6 L379.9,251.7 L382.6,251.7 L385.2,251.8 L387.8,251.9 L390.4,251.9 L393.0,252.0 L395.6,252.1 L398.3,252.2 L400.9,252.2 L403.5,252.3 L406.1,252.4 L408.7,252.4 L411.4,252.5 L414.0,252.6 L416.6,252.7 L419.2,252.8 L421.8,252.9 L424.4,253.0 L427.1,253.0 L429.7,253.1 L432.3,253.2 L434.9,253.3 L437.5,253.4 L440.2,253.5 L442.8,253.6 L445.4,253.7 L448.0,253.8 L450.6,253.9 L453.2,254.0 L455.9,254.1 L458.5,254.2 L461.1,254.3 L463.7,254.4 L466.3,254.5 L469.0,254.6 L471.6,254.7 L474.2,254.8 L476.8,254.9 L479.4,255.0 L482.0,255.1 L484.7,255.2 L487.3,255.3 L489.9,255.4 L492.5,255.6 L495.1,255.7 L497.7,255.8 L500.4,255.9 L503.0,256.0 L505.6,256.1 L508.2,256.2 L510.8,256.3 L513.4,256.4 L516.1,256.5 L518.7,256.7 L521.3,256.8 L523.9,256.9 L526.5,257.0 L529.2,257.1 L531.8,257.2 L534.4,257.3 L537.0,257.5 L539.6,257.6 L542.2,257.7 L544.9,257.8 L547.5,257.9 L550.1,258.0 L552.7,258.2 L555.3,258.3 L557.9,258.4 L560.6,258.5 L563.2,258.6 L565.8,258.8 L568.4,258.9 L571.0,259.0 L573.6,259.1 L576.3,259.3 L578.9,259.4 L581.5,259.5 L584.1,259.6 L586.7,259.8 L589.3,259.9 L592.0,260.0 L594.6,260.1 L597.2,260.3 L599.8,260.4 L602.4,260.5 L605.0,260.6 L607.7,260.8 L610.3,260.9 L612.9,261.0 L615.5,261.2 L618.1,261.3 L620.7,261.4 L623.4,261.6 L626.0,261.7 L628.6,261.8 L631.2,262.0 L633.8,262.1 L636.4,262.2 L639.1,262.4 L641.7,262.5 L644.3,262.6 L646.9,262.8 L649.5,262.9 L652.1,263.1 L654.7,263.2 L657.4,263.4 L660.0,263.5 L662.6,263.6 L665.2,263.8 L667.8,263.9 L670.4,264.1 L673.1,264.2 L675.7,264.4 L678.3,264.6 L680.9,264.7 L683.5,264.9 L686.1,265.0 L688.7,265.2 L691.4,265.4 L694.0,265.6 L696.6,265.7 L699.2,265.9 L701.8,266.1 L704.4,266.4 L707.0,266.6 L709.6,266.8 L712.2,267.0 L714.9,267.3 L717.5,267.6 L720.1,267.8 L722.7,268.1 L725.3,268.4 L727.9,268.6 L730.5,268.9 L733.1,269.2 L735.7,269.6 L738.3,269.9 L740.9,270.2 L743.5,270.5 L746.1,270.8 L748.7,271.2 L751.3,271.5 L753.9,271.8 L756.5,272.2 L759.1,272.5 L761.7,272.9 L764.3,273.2 L766.9,273.5 L769.5,273.9 L772.1,274.2 L774.7,274.6 L777.3,274.9 L779.9,275.3 L782.5,275.6 L785.0,276.0 L787.6,276.3 L790.2,276.7 L792.8,277.0 L795.4,277.4 L798.0,277.7 L800.6,278.1 L803.2,278.4 L805.8,278.8 L808.4,279.1 L811.0,279.5 L813.6,279.8 L816.2,280.2 L818.8,280.6 L821.4,280.9 L824.0,281.3 L826.6,281.6 L829.2,282.0 L831.8,282.3 L834.4,282.7 L837.0,283.1 L839.6,283.4 L842.1,283.8 L844.7,284.2 L847.3,284.5 L849.9,284.9 L852.5,285.3 L855.1,285.7 L857.7,286.0 L860.3,286.4 L862.9,286.8 L865.5,287.2 L868.1,287.6 L870.6,288.0 L873.2,288.5 L875.8,288.9 L878.4,289.3 L881.0,289.8 L883.6,290.3 L886.1,290.7 L888.7,291.2 L891.3,291.7 L893.8,292.3 L896.4,292.8 L899.0,293.3 L901.5,293.9 L904.1,294.5 L906.6,295.0 L909.2,295.6 L911.7,296.2 L914.3,296.8 L916.8,297.4 L919.4,298.0 L921.9,298.7 L924.5,299.3 L927.0,300.0 L929.5,300.7 L932.0,301.5 L934.5,302.2 L937.0,303.0 L939.5,303.8 L942.0,304.6 L944.5,305.5 L947.0,306.4 L949.4,307.3 L951.9,308.2 L954.3,309.2 L956.7,310.2 L959.1,311.2 L961.5,312.2 L963.9,313.3 L966.3,314.5 L968.6,315.6 L971.0,316.8 L973.3,318.0 L975.6,319.3 L977.9,320.5 L980.2,321.8 L982.4,323.2 L984.6,324.6 L986.8,326.0 L989.0,327.5 L991.1,329.1 L993.1,330.7 L995.1,332.5 L996.9,334.3 L997.8,335.2 L998.6,336.0 L999.4,336.9 L1000.2,337.8 L1001.0,338.7 L1001.8,339.6 L1002.5,340.5 L1003.3,341.5 L1004.0,342.4 L1004.8,343.4 L1005.5,344.3 L1006.2,345.3 L1006.8,346.3 L1007.5,347.3 L1008.2,348.3 L1008.8,349.3 L1009.4,350.3 L1010.0,351.4 L1010.6,352.4 L1011.2,353.4 L1011.8,354.5 L1012.3,355.6 L1012.9,356.6 L1013.4,357.7 L1014.0,358.8 L1014.5,359.8 L1015.0,360.9 L1015.6,362.0 L1016.1,363.1 L1016.6,364.1 L1017.1,365.2 L1017.6,366.3 L1018.1,367.4 L1018.6,368.5 L1019.0,369.6 L1019.5,370.7 L1020.0,371.8 L1020.4,372.9 L1020.9,374.1 L1021.3,375.2 L1021.7,376.3 L1022.1,377.4 L1022.5,378.5 L1022.9,379.7 L1023.3,380.8 L1023.7,381.9 L1024.1,383.1 L1024.4,384.2 L1024.8,385.4 L1025.2,386.5 L1025.5,387.7 L1025.9,388.8 L1026.2,389.9 L1026.6,391.1 L1026.9,392.2 L1027.2,393.4 L1027.5,394.5 L1027.9,395.7 L1028.2,396.9 L1028.5,398.0 L1028.8,399.2 L1029.1,400.3 L1029.4,401.5 L1029.7,402.7 L1030.0,403.8 L1030.3,405.0 L1030.5,406.1 L1030.8,407.3 L1031.1,408.5 L1031.4,409.7 L1031.6,410.8 L1031.9,412.0 L1032.1,413.2 L1032.4,414.3 L1032.6,415.5 L1032.8,416.7 L1033.1,417.9 L1033.3,419.0 L1033.5,420.2 L1034.4,424.9 L1035.2,429.6 L1035.9,434.2 L1036.6,438.9 L1037.3,443.6 L1037.9,448.2 L1038.5,452.9 L1039.1,457.6 L1039.7,462.2 L1040.2,466.9 L1040.8,471.6 L1041.3,476.3 L1041.9,480.9 L1042.4,485.6 L1042.9,490.3 L1043.5,494.9 L1044.0,499.6 L1044.5,504.3 L1045.1,509.0 L1045.6,513.6 L1046.2,518.3 L1046.8,523.0 L1047.3,527.6 L1047.9,532.3 L1048.4,537.0 L1049.0,541.6 L1049.5,546.3 L1050.1,551.0 L1050.6,555.7 L1051.1,560.3 L1051.7,565.0 L1052.2,569.7 L1052.7,574.3 L1053.3,579.0 L1053.8,583.7 L1054.3,588.4 L1054.9,593.0 L1055.4,597.7 L1056.0,602.4 L1056.5,607.0 L1057.1,611.7 L1057.7,616.4 L1058.2,621.1 L1058.9,625.7 L1059.5,630.4 L1060.1,635.1 L1060.8,639.7 L1061.5,644.4 L1062.2,649.1 L1062.8,653.7 L1063.5,658.4 L1064.1,663.1 L1064.7,667.8 L1065.3,672.4 L1065.8,677.1 L1066.2,681.8 L1066.7,686.4 L1067.0,691.1 L1067.4,695.8 L1067.8,700.5 L1068.1,705.1 L1068.4,709.8 L1068.7,714.5 L1069.1,719.1 L1069.4,723.8 L1069.7,728.5 L1070.1,733.2 L1070.4,737.8 L1070.8,742.5 L1071.1,747.2 L1071.5,751.8 L1071.8,756.5 L1072.2,761.2 L1072.5,765.8 L1072.9,770.5 L1073.2,775.2 L1073.6,779.9 L1073.9,784.5 L1074.3,789.2 L1074.3,706.0"/>
</g>
<text class="tk" x="192.3" y="940.6" text-anchor="middle">0</text>
<text class="tk" x="364.8" y="940.6" text-anchor="middle">20</text>
<text class="tk" x="537.4" y="940.6" text-anchor="middle">40</text>
<text class="tk" x="709.9" y="940.6" text-anchor="middle">60</text>
<text class="tk" x="882.5" y="940.6" text-anchor="middle">80</text>
<text class="tk" x="1055.0" y="940.6" text-anchor="middle">100</text>
<text class="tk" x="1227.5" y="940.6" text-anchor="middle">120</text>
<text class="tk" x="173.8" y="118.8" text-anchor="end">5.0</text>
<text class="tk" x="173.8" y="347.8" text-anchor="end">4.5</text>
<text class="tk" x="173.8" y="576.7" text-anchor="end">4.0</text>
<text class="tk" x="173.8" y="805.6" text-anchor="end">3.5</text>
<text class="b" x="204" y="66.2" font-size="51.2">10 cycles</text>
<text class="b" y="1032.5" font-size="51"><tspan x="493.3">charge</tspan><tspan x="676.5" font-size="61" font-weight="normal">(</tspan><tspan x="696.3" font-size="52">mAh/g</tspan><tspan x="857" y="1054.4" font-size="31">LNMO</tspan><tspan x="950.5" y="1032.5" font-size="61" font-weight="normal">)</tspan></text>
<g transform="translate(52.4,0) rotate(-90)"><text class="b" y="0" font-size="53"><tspan x="-707.9">potential</tspan><tspan x="-471" font-size="61" font-weight="normal">(</tspan><tspan x="-449.3">V</tspan><tspan x="-400.5">vs</tspan><tspan x="-332">Li</tspan><tspan x="-284" y="-30" font-size="29">+</tspan><tspan x="-265.5" y="0">/</tspan><tspan x="-251">Li</tspan><tspan x="-202.5" font-size="61" font-weight="normal">)</tspan></text></g>
</g>
</svg></body></html>
